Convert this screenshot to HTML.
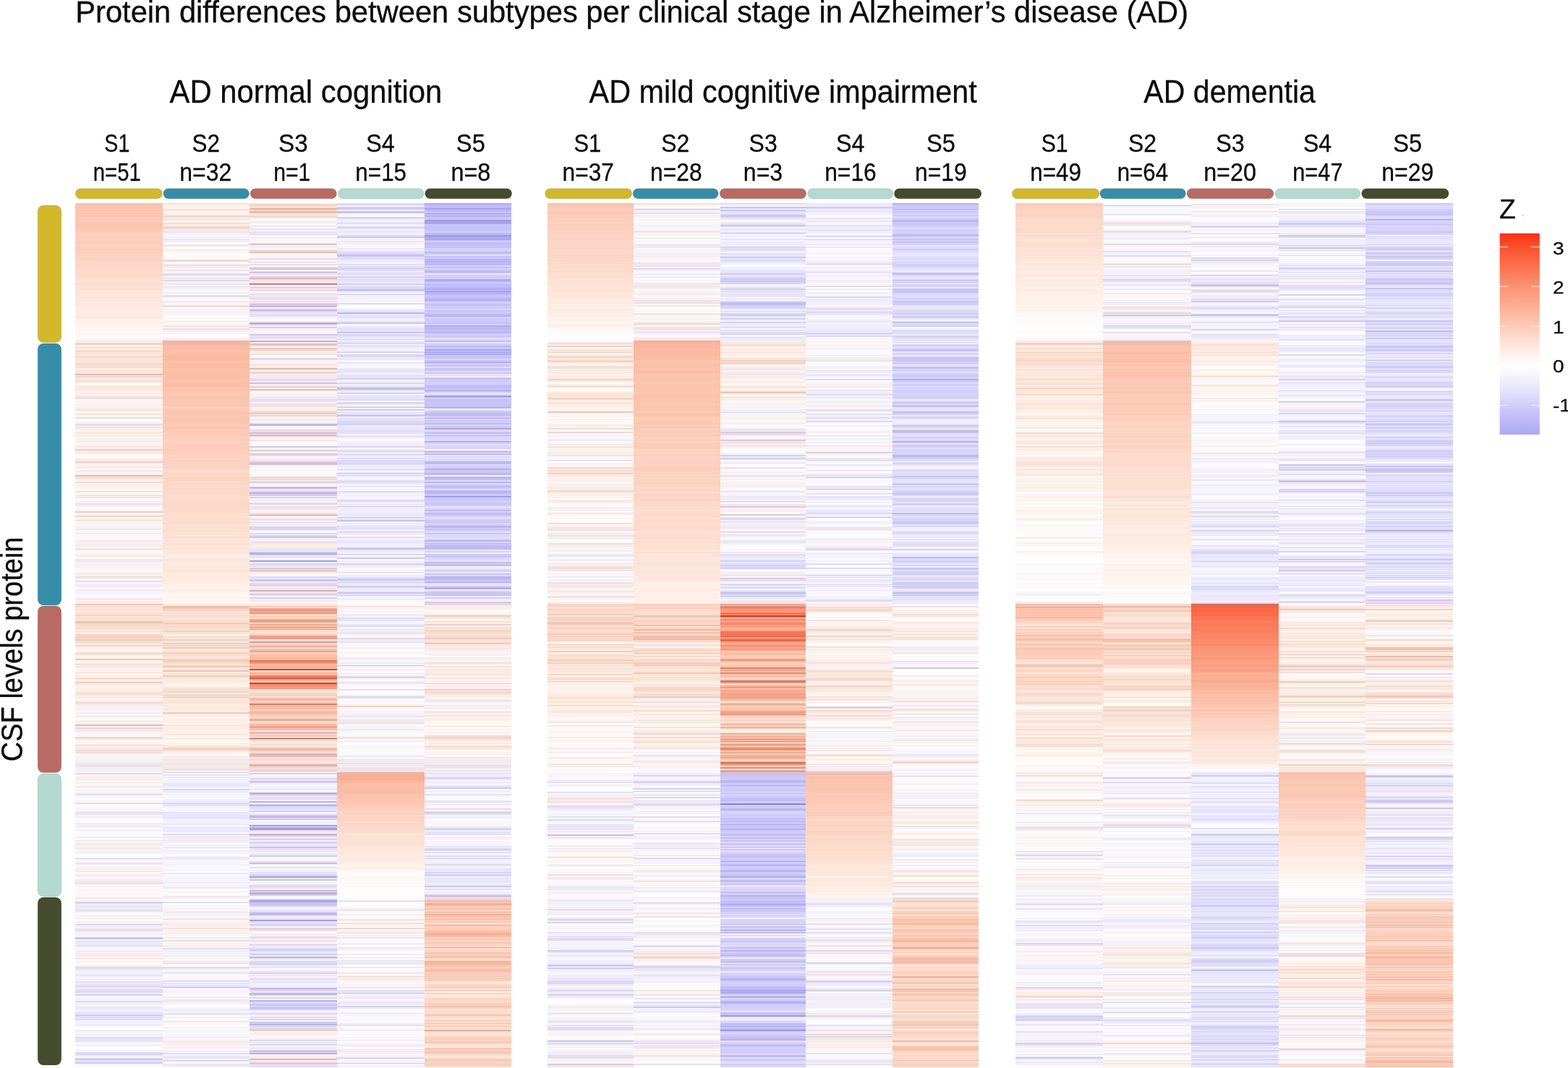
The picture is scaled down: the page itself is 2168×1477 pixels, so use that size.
<!DOCTYPE html>
<html><head><meta charset="utf-8"><title>Protein differences between subtypes per clinical stage in AD</title><style>
html,body{margin:0;padding:0;background:#fff}
body{width:2168px;height:1477px;position:relative;overflow:hidden}
.hc{position:absolute;top:281px;height:1195px}
svg{position:absolute;left:0;top:0}
text{font-family:"Liberation Sans",Arial,Helvetica,sans-serif;fill:#0b0b0b;stroke:#0b0b0b;stroke-width:0.3px}
</style></head><body>
<div class="hc" style="left:104px;width:121px;background:linear-gradient(#fbbfa8 0 1.2px,#fcc0aa 0 2.8px,#fec3ad 0 4.6px,#fcc2ad 0 5.7px,#fac1ab 0 6.9px,#fec5af 0 9.1px,#fac1ac 0 10.2px,#fbc3ad 0 11.4px,#fec6b0 0 13.7px,#fac3ad 0 15.5px,#fcc6b1 0 17px,#fac4af 0 18.7px,#ffcab6 0 20.5px,#fcc8b3 0 21.9px,#fcc8b4 0 23.1px,#fcc7b3 0 25.1px,#fdc8b3 0 28.7px,#f9c4af 0 30.8px,#fac6b1 0 32.5px,#fbc7b2 0 34.8px,#fecbb6 0 36.1px,#fbc9b5 0 37.8px,#fcccb8 0 39.5px,#fdcebb 0 41px,#fdcfbc 0 42.7px,#fed1be 0 44.1px,#fdd0be 0 46.1px,#fccfbd 0 48.3px,#fbcebb 0 49.5px,#fed1be 0 52.5px,#fbcebb 0 53.6px,#faccb9 0 55.8px,#fbcdba 0 57.3px,#fccebb 0 58.5px,#ffd1be 0 60.4px,#fccebb 0 61.7px,#fbcdba 0 63.9px,#fbccb9 0 65.2px,#f9cab7 0 66.2px,#ffd1be 0 67.5px,#fbcebb 0 69px,#fdd1bf 0 70.6px,#fcd1bf 0 72.8px,#fed3c1 0 74.7px,#fbd1bf 0 76.2px,#fad1bf 0 77.2px,#fcd4c3 0 78.4px,#fcd4c4 0 80.8px,#ffd9c9 0 82.4px,#fdd7c7 0 84.3px,#fdd8c8 0 85.4px,#fdd7c7 0 86.4px,#fad4c4 0 88.5px,#fcd7c7 0 90.3px,#fcd8c8 0 91.7px,#fcd9c9 0 93.2px,#fedccd 0 94.3px,#feddce 0 96.6px,#fbdacb 0 98.7px,#fcdbcc 0 100.3px,#fbdacc 0 101.5px,#fcdcce 0 103.5px,#fddfd1 0 104.7px,#fddfd2 0 105.8px,#fde1d3 0 107.6px,#ffe3d6 0 109.8px,#fee2d5 0 110.8px,#fbdfd2 0 114.2px,#fde2d5 0 115.3px,#ffe4d7 0 116.3px,#fce2d5 0 117.7px,#fbe0d4 0 119.7px,#fee5d9 0 121.3px,#fde4d8 0 123.5px,#fde5d9 0 124.8px,#fce4d9 0 126.2px,#ffe8dd 0 127.5px,#fde6db 0 129.8px,#fbe5da 0 132.1px,#fee7dc 0 133.5px,#fde7dc 0 135.1px,#fce6db 0 136.5px,#fee9de 0 138.5px,#fde8de 0 139.6px,#fbe7dc 0 140.7px,#fde9df 0 142.2px,#feeae0 0 143.6px,#feebe2 0 145.7px,#fdebe2 0 147.7px,#feece3 0 153.2px,#fdebe2 0 155.2px,#feece3 0 157.5px,#fbe8df 0 158.7px,#fceae1 0 160.5px,#ffeee6 0 161.7px,#fdede5 0 163.3px,#fff1ea 0 165.3px,#fdf0e9 0 167.5px,#fff3ed 0 169.5px,#fdf3ed 0 170.6px,#fdf4ef 0 172.1px,#fff9f5 0 173.3px,#fdf6f2 0 175.6px,#fdf6f3 0 176.8px,#fffaf7 0 178.1px,#fef8f4 0 179.6px,#fffaf7 0 180.7px,#fcf6f3 0 182.8px,#fff9f7 0 184.7px,#fcf6f5 0 185.9px,#fffafa 0 187.6px,#faf2f2 0 188.7px,#fff5f3 0 190.5px,#f9eae6 0 191.7px,#ffede5 0 193px,#f4ddd4 0 194.2px,#ead2c8 0 196.3px,#fff0e7 0 197.4px,#fff3ea 0 199.5px,#f1dad1 0 200.5px,#ffe8de 0 202.5px,#ffede2 0 203.7px,#e9cec1 0 205.4px,#fee3d6 0 206.6px,#ffe4d8 0 208.8px,#fee4d8 0 209.9px,#ffede2 0 211.5px,#f5dbd0 0 213.3px,#f8dfd3 0 214.9px,#ffe9de 0 216.1px,#fee5d9 0 217.5px,#fee4d8 0 219.7px,#ffe3d7 0 220.8px,#faddcf 0 221.9px,#f7dacc 0 224px,#fbdfd2 0 226.1px,#f7dcd0 0 228px,#ffefe4 0 229.6px,#ffe9df 0 231.8px,#f5dcd4 0 233.3px,#ffefe6 0 234.3px,#ffe1d9 0 235.9px,#d9bab3 0 237.6px,#ffe8e1 0 239.2px,#eed3cd 0 241.4px,#ffe8e2 0 242.5px,#fee8e1 0 244.5px,#f8e4dd 0 246.2px,#f1dfd8 0 248.1px,#fff4ed 0 249.6px,#fffaf4 0 251px,#fff9f3 0 252.4px,#f5e5dd 0 253.8px,#fdebe2 0 255.4px,#f9e5dc 0 257.1px,#fbe8df 0 259.2px,#fdebe3 0 260.4px,#fcece6 0 261.9px,#fef0ed 0 263.6px,#fdf0f0 0 265.7px,#f6e9ea 0 267.6px,#ede0e1 0 271.2px,#fff5f4 0 272.8px,#fef3f0 0 274.8px,#fff8f5 0 276.9px,#fdf2ee 0 278.6px,#f7ece7 0 279.7px,#fff4f0 0 281.2px,#fff4ef 0 282.6px,#f3e5e0 0 283.8px,#fff6f1 0 285.2px,#f0e2dd 0 287.2px,#fff8f2 0 288.7px,#fffaf4 0 290.2px,#faece5 0 291.7px,#f0e0d9 0 292.9px,#fff8f1 0 294.6px,#fff1ea 0 296.2px,#ebded9 0 298.3px,#fff9f8 0 300.1px,#fff9fb 0 302.4px,#faf3fa 0 304.5px,#f0eaf5 0 306.1px,#dad3df 0 307.1px,#f3eaf3 0 308.4px,#f9edf1 0 309.5px,#f4e6e6 0 311.4px,#faece8 0 312.6px,#fff2ed 0 314.4px,#fff6f0 0 315.8px,#faebe5 0 317.4px,#f5e5df 0 319.4px,#fff4ed 0 320.8px,#f1e2db 0 322px,#fff8f2 0 323.3px,#fef1ed 0 325.5px,#fbefed 0 327.2px,#fbf0ef 0 328.6px,#f1e8e8 0 329.8px,#f8f0f0 0 330.8px,#fffcfb 0 332.3px,#fffaf7 0 334px,#fbede8 0 335.6px,#fbe8e0 0 337.6px,#ffece3 0 339.9px,#ecd5cc 0 341.6px,#f5dfd9 0 343.1px,#ffedea 0 345.1px,#f2e6e5 0 346.2px,#fdf5f5 0 348.1px,#fffcfc 0 350.3px,#fffbfa 0 352.2px,#fff7f4 0 353.4px,#f9e9e3 0 355.1px,#fee9e1 0 357.1px,#e8d2c9 0 358.6px,#f9e5dc 0 360.7px,#fff9f3 0 361.9px,#faece9 0 363.6px,#faefee 0 365.3px,#f3ebec 0 367.3px,#fff9fe 0 368.8px,#f3edf3 0 370.1px,#f3ecf2 0 372px,#fef3f7 0 373.2px,#fff3f2 0 374.6px,#f9e0da 0 376.2px,#dfc1b7 0 378.2px,#feded2 0 379.8px,#f8dbcf 0 381.5px,#ffebe1 0 383.3px,#fff5ec 0 385.2px,#eddbd3 0 387.4px,#fff4ed 0 389px,#fdefe8 0 390.7px,#fff7f2 0 391.7px,#faefea 0 393px,#fff4f0 0 394.3px,#fbf1ed 0 395.5px,#fff5f2 0 397.2px,#fff7f4 0 398.4px,#eee3e0 0 400.2px,#fff9f5 0 402.2px,#fff7f3 0 403.3px,#f2e4e0 0 404.6px,#fceeeb 0 406.2px,#f4e8e7 0 407.3px,#efe4e6 0 408.4px,#fef6fa 0 410.2px,#fcf4f8 0 411.7px,#f7eff2 0 413.8px,#f9f0f2 0 415.5px,#ece2e5 0 417.5px,#f4ebee 0 418.9px,#fcf5f9 0 420.4px,#fcf4f7 0 422.5px,#fff8f9 0 424.3px,#fdefee 0 426.4px,#e2d1cd 0 427.7px,#fce9e4 0 428.9px,#fff6f0 0 430.7px,#fff5ee 0 431.9px,#ebd5cd 0 433px,#eed7cf 0 434.5px,#fff3eb 0 436.3px,#ffeee7 0 437.8px,#f4e5e0 0 439.7px,#fef1ee 0 441.3px,#fff7f5 0 442.7px,#f0e6e4 0 444.3px,#fffaf9 0 446.1px,#fcf4f5 0 447.3px,#f6eff1 0 449px,#faf3f6 0 450.2px,#f1eaee 0 452.5px,#fdf6fa 0 454.2px,#f7f1f4 0 455.4px,#faf4f7 0 456.4px,#f3edef 0 457.7px,#fffbfc 0 459.1px,#f9f4f5 0 460.8px,#fffafa 0 462.7px,#fcf7f8 0 464.6px,#fff8f9 0 466.1px,#f4ecec 0 467.9px,#f9efee 0 469.6px,#fef3f1 0 471px,#f5eae9 0 472.3px,#f8eeee 0 473.8px,#f6edee 0 475.6px,#fff9fc 0 476.8px,#ede5e8 0 478.6px,#f4ebed 0 479.6px,#fff7f7 0 480.9px,#fff5f3 0 482.7px,#fff6f2 0 484.7px,#faefeb 0 486.7px,#f7ece8 0 488.6px,#fdf3f3 0 489.9px,#fef6f8 0 492.1px,#ede6ec 0 493.9px,#efe9f0 0 496.1px,#f9f2f8 0 498.3px,#f8f1f5 0 499.6px,#f7f0f3 0 501.8px,#faf4f7 0 502.9px,#f6f1f4 0 504.7px,#faf7fa 0 506px,#faf7f9 0 507.1px,#fffdfe 0 508.8px,#fef7f6 0 510.1px,#fbf2ef 0 512.1px,#f7ebe8 0 513.7px,#fef1ee 0 515px,#fff5f1 0 516px,#ebdcda 0 517.9px,#faecee 0 519.7px,#fff7fd 0 521.7px,#dbd4de 0 523.2px,#efe9f4 0 525.4px,#fff9ff 0 526.4px,#f5eef6 0 528.6px,#ece5ea 0 530.5px,#faf4fa 0 531.7px,#fffaff 0 533.9px,#edeaf3 0 535px,#f1eff9 0 537px,#f9f7ff 0 538.3px,#f2f0f7 0 540.1px,#faf7fc 0 542.2px,#fefafd 0 543.3px,#fdf7fa 0 544.8px,#f9f1f3 0 546.9px,#ece2e4 0 548.5px,#fbefef 0 549.7px,#fff2ef 0 550.8px,#f1e1dd 0 551.9px,#fff5ee 0 553.1px,#fff5ed 0 554.5px,#e2c8be 0 555.8px,#ffe6db 0 557.3px,#f7d9cc 0 558.4px,#fce0d3 0 559.9px,#ffe5d9 0 561.6px,#fce1d5 0 563.8px,#ffecdf 0 566px,#f7dcd0 0 567.8px,#ffe5d8 0 569.3px,#f2d4c7 0 571.2px,#ffe5d8 0 573.4px,#fdddcf 0 575.2px,#fedccd 0 576.4px,#ffe7d8 0 578.1px,#e8c0b0 0 579.7px,#f4ccbc 0 581.8px,#ffd9c9 0 583.6px,#ffdecf 0 585.8px,#fdddcf 0 586.9px,#f8dccf 0 588.7px,#fae1d6 0 589.9px,#fff6eb 0 591.5px,#fce3d8 0 593.5px,#ffece0 0 595.7px,#f3d1c3 0 597px,#fdd7c7 0 599px,#f7cebd 0 600.2px,#f4cab9 0 601.5px,#ffdbca 0 602.8px,#efc8b8 0 605px,#ffe0d1 0 606.1px,#f6d7ca 0 608px,#ffefe3 0 609.7px,#ffe8dd 0 611.5px,#f0d9ce 0 612.6px,#fbe7dd 0 614.1px,#fff1e9 0 615.8px,#fef1ea 0 617.1px,#fff9f3 0 618.9px,#fff6f0 0 620px,#fff9f2 0 621.1px,#f1ded6 0 622.9px,#eed9d1 0 624.1px,#ffeae1 0 626.2px,#fff4ec 0 627.9px,#ffeee6 0 629.9px,#e2ccc4 0 632px,#fff4ec 0 633.8px,#ffefe6 0 636px,#feeae1 0 637.3px,#f2dfd6 0 639px,#fff6ee 0 640.1px,#f6e5de 0 642px,#fff2eb 0 644px,#fff3ed 0 646.1px,#fffaf4 0 647.7px,#f4e7e1 0 649.8px,#fef0ea 0 651.3px,#fff7f0 0 652.7px,#fdebe3 0 654.6px,#ffebe2 0 656.7px,#e7cfc4 0 657.8px,#ffe8dd 0 659.4px,#ffefe4 0 660.9px,#ffe9dd 0 661.9px,#e1c4b8 0 663px,#f9dfd4 0 665px,#ffece2 0 667.2px,#ffefe7 0 668.8px,#fff9f2 0 670.1px,#fceee7 0 672.3px,#fdeee7 0 673.8px,#fff5ed 0 674.9px,#fae7de 0 676.9px,#f4dfd6 0 678.7px,#fae6de 0 680.6px,#fbeae4 0 682px,#fff2ee 0 683.3px,#f7eae8 0 684.6px,#fff3f0 0 686.3px,#fff3ef 0 687.7px,#f9e8e2 0 689.6px,#ebd9d4 0 691.7px,#faeae7 0 693.7px,#f3e6e6 0 694.7px,#fff9fa 0 696.5px,#fdf5f7 0 697.5px,#f6eff1 0 698.9px,#fbf5f7 0 700.2px,#f7f2f4 0 701.9px,#fef9fc 0 702.9px,#fcf8fa 0 704.1px,#f5eff1 0 706.3px,#fef6f6 0 707.3px,#fffaf9 0 708.7px,#ebe1de 0 710.3px,#fef3f1 0 711.4px,#fef5f3 0 712.7px,#fffbf9 0 714.5px,#fff6f5 0 715.8px,#f2e5e4 0 717.5px,#fff4f3 0 719.7px,#f6e2e0 0 720.8px,#dac3bf 0 722.6px,#ffe8e4 0 723.6px,#fff7f4 0 725px,#e9d8d9 0 726.9px,#f5e8ec 0 729.1px,#f2e8ee 0 730.6px,#f9f2f7 0 732.4px,#fcf5f8 0 733.9px,#fff7f7 0 735.1px,#fbeeec 0 736.1px,#fff8f3 0 737.8px,#e9d8d4 0 739.9px,#f1e1de 0 741.2px,#f8ebeb 0 743.1px,#fffafc 0 744.8px,#f6edee 0 746.2px,#fff7f6 0 748px,#fff2ef 0 749px,#e3d3cd 0 750.3px,#fff1eb 0 751.8px,#fff4ee 0 753.5px,#f7e6df 0 754.6px,#fff7ef 0 755.6px,#eedad1 0 757.7px,#feeae1 0 759.3px,#efdcd5 0 761.4px,#fff7f2 0 763.7px,#fff7f4 0 764.8px,#f9f0ef 0 766.3px,#faf4f4 0 768.5px,#faf5f6 0 769.5px,#f5f0f3 0 771.7px,#f3eff3 0 773.9px,#ece7ec 0 775.8px,#e9e4e9 0 777.2px,#e8e3e7 0 779.1px,#f0ebee 0 780.1px,#f4eff2 0 781.5px,#f1ecef 0 782.5px,#f2eff1 0 784px,#f2eff2 0 785.8px,#f4f0f5 0 786.8px,#fdf8fd 0 788.5px,#e4dee3 0 790.3px,#faf2f4 0 791.6px,#fff9f8 0 793.2px,#f5e9e6 0 794.4px,#fff3ee 0 795.5px,#fbeee8 0 796.9px,#f7ebe7 0 798px,#fff9f7 0 799.2px,#fdf6f7 0 800.8px,#f2ecef 0 801.9px,#f9f3f6 0 804.2px,#fff8fa 0 806.4px,#f0e8e9 0 808.5px,#fff7f6 0 809.9px,#fff9f9 0 811.7px,#f1e9eb 0 813px,#fff9fe 0 815.4px,#f1ebf3 0 817.4px,#e4dfe9 0 819px,#f6f2fb 0 820.6px,#f3eff7 0 822.2px,#fffcff 0 824.4px,#fefbff 0 826.3px,#f1eef5 0 827.5px,#faf7ff 0 828.6px,#e2dee6 0 830.7px,#fdf9ff 0 832.2px,#fffcfe 0 833.8px,#fcf6f7 0 835.7px,#fef6f6 0 837.1px,#faf2f3 0 839.1px,#faf4f8 0 841.1px,#f3edf6 0 842.3px,#e6e1ed 0 844.1px,#eae5f1 0 846.4px,#f6f1fc 0 848.3px,#f3eff7 0 849.7px,#f8f4fa 0 851.1px,#fcf9fd 0 853.3px,#fefaff 0 856.7px,#eeeaf0 0 858.5px,#f3eef7 0 860px,#f4f0f9 0 862.1px,#e8e5f0 0 863.2px,#f6f3fe 0 864.3px,#fcf9ff 0 866.7px,#e5e2eb 0 868px,#fdfbff 0 869.4px,#fefbff 0 871.6px,#fdfaff 0 873.8px,#fbf9fe 0 875.6px,#f3f1f7 0 876.9px,#efecf1 0 878.3px,#fffcff 0 879.6px,#fffafb 0 880.6px,#eee4e3 0 881.7px,#fff5f4 0 883.3px,#fdf2f0 0 885.1px,#f7eded 0 886.4px,#f1e8e9 0 887.4px,#f6edef 0 888.7px,#fffafc 0 889.9px,#f4eced 0 891.1px,#fcf4f5 0 892.4px,#f1e9ea 0 893.8px,#fffafc 0 895px,#fffbfe 0 896.2px,#f4f0f4 0 897.3px,#f5f1f6 0 899px,#f6f3f7 0 900.1px,#fffcff 0 902px,#fefaff 0 904.3px,#fbf7ff 0 905.6px,#cbc7d2 0 906.9px,#fbf6ff 0 909px,#f9f3fd 0 910.7px,#fdf7ff 0 911.8px,#e9e3eb 0 914.1px,#f3edf3 0 915.2px,#fcf6fa 0 917px,#fbf4f6 0 918.3px,#faf3f4 0 920.4px,#f5eeef 0 921.6px,#fff8f8 0 923.4px,#f4eae9 0 925.1px,#fff7f5 0 926.7px,#fbf0ed 0 930px,#f5ebe8 0 931.4px,#fff7f7 0 933.1px,#fef5f7 0 934.3px,#f9f0f3 0 935.5px,#f5ecef 0 937.3px,#f2e8ee 0 939px,#ece4ec 0 940.8px,#e8e1ea 0 942.5px,#faf4fb 0 944.4px,#f8f2f6 0 945.8px,#fffcfc 0 948.2px,#fdf7f5 0 949.6px,#faf4f1 0 950.9px,#fff9f7 0 952.3px,#fffaf8 0 953.4px,#fdf7f6 0 955.8px,#fffbfa 0 958px,#fff9f9 0 960.3px,#f1e9eb 0 962px,#fcf5fb 0 963.9px,#f8f1fd 0 965.6px,#d8d2e3 0 967.8px,#e0dbef 0 969.5px,#f0ebff 0 970.8px,#e9e4f5 0 972.6px,#f7f0ff 0 974.1px,#e8e1ef 0 975.5px,#f2ebf9 0 977.3px,#e4deeb 0 979.1px,#ebe6f1 0 980.1px,#f9f4fc 0 982.3px,#fffbff 0 983.3px,#fff8f8 0 985.2px,#f5ebe7 0 986.4px,#fdf2ef 0 988.1px,#f7eeeb 0 989.8px,#fffafa 0 991.3px,#fffafe 0 993.1px,#f5f0f9 0 995.2px,#f7f3ff 0 996.8px,#d0ccdc 0 998px,#efeafa 0 999.6px,#f5effe 0 1001.7px,#f9f2ff 0 1003.1px,#ece5f1 0 1004.1px,#e2dcea 0 1005.6px,#eee9f8 0 1006.9px,#e9e5f3 0 1008.5px,#f8f5ff 0 1009.6px,#f1edfb 0 1011.8px,#faf6ff 0 1014.8px,#ccc8e1 0 1016.9px,#c6c3de 0 1018px,#f7f5ff 0 1018.9px,#f1efff 0 1020.9px,#dad8ef 0 1021.9px,#f2f0ff 0 1023.7px,#dcdaee 0 1025.2px,#faf7ff 0 1026.5px,#e0deee 0 1027.9px,#efeefb 0 1029px,#fdfcff 0 1030.2px,#f5f4fd 0 1031.6px,#fefdff 0 1033.1px,#f4f1fb 0 1034.3px,#e7e3ec 0 1035.3px,#fcf6fd 0 1036.4px,#f6edf0 0 1038.2px,#f9edec 0 1040.3px,#f8eae5 0 1042.5px,#fff3ed 0 1043.7px,#eedfd9 0 1045.2px,#fff6f0 0 1047.4px,#fff6f2 0 1048.5px,#fef6f3 0 1050.6px,#fffbfa 0 1051.6px,#fffafc 0 1053.1px,#fdf8fd 0 1054.5px,#f5eff9 0 1056.4px,#e0dbe8 0 1058.5px,#e6e1ef 0 1060.1px,#f1ecfa 0 1062.2px,#f5f1fe 0 1064.2px,#f3effd 0 1066.2px,#ece8f6 0 1067.6px,#e5e2f0 0 1068.6px,#fbf8ff 0 1070.5px,#f4f1fb 0 1071.6px,#f7f3fd 0 1073.1px,#efecf6 0 1074.9px,#fefaff 0 1075.9px,#e4dfed 0 1077.6px,#efeaf9 0 1079.7px,#f0eafa 0 1081.5px,#e1dcef 0 1083.6px,#e1dcf2 0 1085.5px,#f3efff 0 1086.9px,#dcd9f4 0 1088.4px,#dedbf7 0 1090.1px,#dbd8f3 0 1091.6px,#eeebff 0 1093.7px,#d6d3e7 0 1095.8px,#f6f3ff 0 1097px,#faf7ff 0 1098px,#f6f3ff 0 1099.8px,#f5f2ff 0 1101.6px,#efecfd 0 1103.6px,#cecbdd 0 1105.1px,#f6f2ff 0 1107.1px,#eeebfb 0 1108.5px,#f8f5ff 0 1110.4px,#eceaf9 0 1112.3px,#e9e6f5 0 1114.2px,#f0edfc 0 1115.9px,#faf7ff 0 1117.5px,#eeebfc 0 1119.5px,#e4e1f6 0 1121px,#f2f0ff 0 1122.5px,#cecbe6 0 1123.6px,#e3e0fd 0 1124.7px,#dcd9f5 0 1126.6px,#ebe9ff 0 1128.4px,#dbd9ee 0 1129.6px,#faf9ff 0 1130.9px,#f2f0fe 0 1132.6px,#f4f3ff 0 1134px,#f6f4ff 0 1135.5px,#f0eef9 0 1137px,#eeedf6 0 1138.5px,#fcfbff 0 1139.7px,#fbf9ff 0 1141.1px,#fdfcff 0 1143px,#f0eff7 0 1144.9px,#f5f4fd 0 1147px,#faf9ff 0 1148.8px,#f1effd 0 1150.9px,#f6f4ff 0 1153px,#dedcef 0 1155.1px,#e7e5f9 0 1156.7px,#e5e3f7 0 1158.6px,#e4e2f4 0 1160.4px,#faf9ff 0 1161.9px,#f9f8ff 0 1163.2px,#f3f1fc 0 1164.7px,#ebeaf2 0 1166.5px,#fefcff 0 1168.4px,#fdfcff 0 1169.7px,#fbf9ff 0 1170.9px,#f3f0fb 0 1172.4px,#f7f4ff 0 1173.8px,#dfdbee 0 1175.2px,#dad6eb 0 1177.3px,#e2def3 0 1179.3px,#f8f4ff 0 1180.3px,#f4f0ff 0 1181.7px,#e9e5ff 0 1183px,#c8c4e2 0 1185.1px,#e8e5ff 0 1187.3px,#d7d5f4 0 1188.9px,#c8c5e0 0 1190px,#f8f6ff 0 1191.1px,#f6f4ff 0 1192.6px,#fefcff 0 1194.3px)"></div>
<div class="hc" style="left:225px;width:120px;background:linear-gradient(#f1d2c6 0 1.2px,#fff0e7 0 2.8px,#ffeee7 0 4.6px,#fff3ed 0 5.7px,#fff9f4 0 6.9px,#faebe5 0 9.1px,#eadad4 0 10.2px,#fff3ef 0 11.4px,#fff1ed 0 13.7px,#ffefec 0 15.5px,#feede8 0 17px,#eedad5 0 18.7px,#f3ddd7 0 20.5px,#ffeee7 0 21.9px,#edd8d2 0 23.1px,#fff5ee 0 25.1px,#fff2eb 0 27px,#f2ded5 0 28.7px,#ffeee5 0 30.8px,#ffede4 0 32.5px,#eed6ce 0 34.8px,#f1dbd6 0 36.1px,#ffedec 0 37.8px,#f5e7eb 0 39.5px,#eee5ec 0 41px,#f6eff7 0 42.7px,#f2eef6 0 44.1px,#fcf8ff 0 46.1px,#f4f0fa 0 48.3px,#fbf7ff 0 49.5px,#eae4ed 0 51.1px,#f1ebf2 0 52.5px,#f3ecf1 0 53.6px,#fffafd 0 55.8px,#fff9fb 0 57.3px,#f4ecef 0 58.5px,#ede5e7 0 60.4px,#fffafb 0 61.7px,#fff8f7 0 63.9px,#f6ece9 0 65.2px,#f5ebe7 0 66.2px,#fffaf6 0 67.5px,#fef8f5 0 69px,#fffcfb 0 70.6px,#fefaf9 0 72.8px,#fdf9f8 0 74.7px,#fcf7f6 0 76.2px,#fffcfa 0 77.2px,#fff5f3 0 78.4px,#e8dcda 0 80.8px,#fff4f4 0 82.4px,#fff8fa 0 84.3px,#f6eef4 0 85.4px,#e5dde6 0 86.4px,#f2eaf3 0 88.5px,#f7edf4 0 90.3px,#fff5f7 0 91.7px,#e8dada 0 93.2px,#fff7f7 0 94.3px,#f7ecef 0 95.5px,#fff6fe 0 96.6px,#e2dce8 0 98.7px,#dfdae8 0 100.3px,#f5effe 0 101.5px,#f8f3ff 0 103.5px,#e8e3f0 0 104.7px,#faf5ff 0 105.8px,#dfd9e4 0 107.6px,#f9f2fb 0 109.8px,#f6eff8 0 110.8px,#efe8f0 0 112.9px,#f5eff7 0 114.2px,#fbf5fc 0 115.3px,#ebe5eb 0 116.3px,#f4eef3 0 117.7px,#f8f2f7 0 119.7px,#faf6fb 0 121.3px,#fbf7fe 0 123.5px,#f0edf6 0 124.8px,#f5f4fe 0 126.2px,#fcfbff 0 127.5px,#e1dfea 0 129.8px,#faf7ff 0 132.1px,#fbf8ff 0 133.5px,#fcf7fc 0 135.1px,#f2ebee 0 136.5px,#f4ebeb 0 138.5px,#fffaf8 0 139.6px,#fff6f2 0 140.7px,#eededa 0 142.2px,#eededb 0 143.6px,#fff7f7 0 145.7px,#f7eff1 0 147.7px,#fef9fe 0 149.4px,#f4f0f6 0 151.3px,#f4f0f5 0 153.2px,#f8f4f6 0 155.2px,#fffbfc 0 157.5px,#fff9f8 0 158.7px,#fbf4f2 0 160.5px,#fffbf8 0 161.7px,#fbf3f0 0 163.3px,#faf1ee 0 165.3px,#fff6f4 0 167.5px,#fff7f5 0 169.5px,#efe4e3 0 170.6px,#fef3f3 0 172.1px,#f7ecee 0 173.3px,#ede3e6 0 175.6px,#fff7fb 0 176.8px,#eee8ed 0 178.1px,#fbf7fc 0 179.6px,#f7f4f8 0 180.7px,#fffdff 0 182.8px,#fcf9fc 0 184.7px,#fffcff 0 185.9px,#fcf2f6 0 187.6px,#fdebec 0 188.7px,#ffe4e1 0 190.5px,#e6b9af 0 191.7px,#f0b7a7 0 193px,#f3b39e 0 194.2px,#f7b49d 0 196.3px,#fbb8a1 0 197.4px,#ffbea6 0 199.5px,#fdbca5 0 200.5px,#f9baa3 0 202.5px,#fcbda6 0 203.7px,#fcbda7 0 205.4px,#fdbfa8 0 206.6px,#fcbea7 0 208.8px,#fdbda6 0 209.9px,#fabaa2 0 211.5px,#f9b7a0 0 213.3px,#fcbaa2 0 214.9px,#f9b8a0 0 216.1px,#fab9a2 0 217.5px,#fcbda6 0 219.7px,#ffc2ab 0 220.8px,#fcbea7 0 221.9px,#fbbda6 0 226.1px,#fabca5 0 228px,#fcbfa8 0 229.6px,#fdc0a9 0 231.8px,#fcc0a9 0 233.3px,#fcbfa8 0 235.9px,#fbbea7 0 241.4px,#fabda7 0 242.5px,#fabea7 0 244.5px,#ffc3ac 0 246.2px,#fec2ac 0 248.1px,#fabea8 0 249.6px,#fbbea8 0 252.4px,#f9bea7 0 253.8px,#fcc2ab 0 255.4px,#fdc3ad 0 257.1px,#fcc3ae 0 259.2px,#fcc4ae 0 260.4px,#fdc6b0 0 261.9px,#fdc6b1 0 263.6px,#fac4ae 0 265.7px,#fec7b2 0 267.6px,#f9c1ac 0 269.3px,#fcc5af 0 271.2px,#fdc6b1 0 272.8px,#fac4af 0 274.8px,#fec8b3 0 276.9px,#fcc7b3 0 278.6px,#f8c4af 0 279.7px,#fbc7b3 0 281.2px,#ffceba 0 282.6px,#fdcbb7 0 283.8px,#fdcab6 0 285.2px,#fbc7b3 0 287.2px,#fac6b1 0 288.7px,#fdc9b4 0 290.2px,#f9c4af 0 291.7px,#fdc8b3 0 292.9px,#fec9b4 0 294.6px,#fac5b0 0 296.2px,#fdc7b2 0 298.3px,#fac4af 0 300.1px,#fbc5b1 0 302.4px,#fbc7b2 0 304.5px,#fbc7b3 0 306.1px,#ffcdb8 0 307.1px,#fdcab6 0 308.4px,#fac7b3 0 309.5px,#fac6b2 0 311.4px,#fbc7b3 0 312.6px,#fecbb7 0 314.4px,#fbc9b4 0 315.8px,#fccab6 0 317.4px,#fdccb8 0 319.4px,#fbcbb8 0 320.8px,#fbccb8 0 322px,#fccdba 0 323.3px,#fed0bd 0 325.5px,#fbcebc 0 327.2px,#fbcfbc 0 328.6px,#fdd1bf 0 329.8px,#ffd4c2 0 330.8px,#fcd0be 0 332.3px,#fbcebc 0 334px,#fccebb 0 337.6px,#fbcdba 0 341.6px,#fccebb 0 343.1px,#fccebc 0 345.1px,#fbcebb 0 346.2px,#fbcfbd 0 348.1px,#fed3c1 0 350.3px,#fdd2c0 0 352.2px,#fcd2c0 0 353.4px,#fdd3c1 0 355.1px,#f9cfbd 0 357.1px,#fed3c2 0 358.6px,#fed4c2 0 360.7px,#fad0bf 0 361.9px,#fcd3c2 0 363.6px,#fed6c5 0 365.3px,#f8d2c1 0 367.3px,#fed8c8 0 368.8px,#fdd9c9 0 370.1px,#ffddcd 0 372px,#fdd9ca 0 373.2px,#fbd6c6 0 374.6px,#fad5c4 0 376.2px,#fdd6c6 0 378.2px,#fed7c7 0 379.8px,#fbd5c4 0 381.5px,#fad4c4 0 383.3px,#fcd6c6 0 385.2px,#ffdac9 0 387.4px,#fbd6c6 0 389px,#fdd9c9 0 390.7px,#fcd8c8 0 391.7px,#fdd9c9 0 393px,#fbd7c7 0 394.3px,#fdd8c8 0 395.5px,#fbd6c6 0 397.2px,#fcd8c8 0 398.4px,#fdd9c9 0 400.2px,#fcd8c9 0 402.2px,#fcd9c9 0 403.3px,#fddbcc 0 404.6px,#fcdacb 0 406.2px,#feddcf 0 407.3px,#ffded0 0 408.4px,#feddcf 0 410.2px,#fcdbcc 0 411.7px,#fcd9ca 0 413.8px,#fddacb 0 415.5px,#fbd8c8 0 417.5px,#fedaca 0 418.9px,#f9d5c6 0 420.4px,#fcd8c8 0 422.5px,#fedbcb 0 424.3px,#fddbcc 0 426.4px,#fbd9cb 0 427.7px,#fdddce 0 428.9px,#ffdfd1 0 430.7px,#fdded0 0 431.9px,#fcddcf 0 433px,#fdded0 0 434.5px,#fcddcf 0 436.3px,#fdddcf 0 437.8px,#ffdfd0 0 439.7px,#fbdbcd 0 441.3px,#fadacc 0 442.7px,#fcdcce 0 444.3px,#ffe0d2 0 446.1px,#ffe1d4 0 447.3px,#fbddd0 0 449px,#fee1d3 0 450.2px,#fde0d2 0 452.5px,#faddcf 0 454.2px,#fde0d3 0 455.4px,#fde1d4 0 456.4px,#fce1d4 0 457.7px,#fde2d5 0 459.1px,#ffe5d8 0 460.8px,#f9ded2 0 462.7px,#fee3d7 0 464.6px,#fde3d7 0 466.1px,#fee5d9 0 469.6px,#fce3d6 0 471px,#fbe1d5 0 472.3px,#fde3d7 0 473.8px,#ffe6da 0 475.6px,#fbe3d7 0 476.8px,#fde5d9 0 478.6px,#fce4d9 0 479.6px,#ffe9dd 0 480.9px,#fce6db 0 482.7px,#fbe6db 0 484.7px,#feeae0 0 486.7px,#ffece2 0 488.6px,#feeae0 0 489.9px,#fde9df 0 492.1px,#fae5db 0 493.9px,#fee9df 0 498.3px,#fde9df 0 499.6px,#fde8de 0 502.9px,#fee8de 0 504.7px,#fde7dc 0 506px,#fce6db 0 507.1px,#fde7dc 0 508.8px,#fae5da 0 510.1px,#fee9de 0 512.1px,#ffebe0 0 513.7px,#feebe1 0 515px,#fdeae0 0 516px,#feebe1 0 517.9px,#fae7dd 0 519.7px,#fdebe1 0 521.7px,#fceae1 0 523.2px,#ffeee6 0 525.4px,#fdede5 0 526.4px,#feefe7 0 528.6px,#fdefe8 0 530.5px,#fff1e9 0 531.7px,#fff1ea 0 533.9px,#fbede7 0 535px,#fcefe9 0 537px,#fdf1ec 0 538.3px,#fff5f0 0 540.1px,#fff5f1 0 542.2px,#fff7f3 0 544.8px,#fef5f1 0 546.9px,#fff7f3 0 548.5px,#fdf5f1 0 549.7px,#fcf4ef 0 550.8px,#fef5f1 0 551.9px,#fff9f3 0 553.1px,#fff9f2 0 554.5px,#ffeae0 0 555.8px,#ffe3d6 0 557.3px,#edc5b5 0 558.4px,#ecc0af 0 559.9px,#f8cdbc 0 561.6px,#fbd4c4 0 563.8px,#ffe7d9 0 566px,#fbdccf 0 567.8px,#ffe8db 0 569.3px,#f9ddd1 0 571.2px,#f9ded2 0 573.4px,#ffe6da 0 575.2px,#ffe7da 0 576.4px,#f9dacc 0 578.1px,#ffe1d2 0 579.7px,#f0ccbd 0 581.8px,#fed9c9 0 583.6px,#ffdbcb 0 585.8px,#f2cfc0 0 586.9px,#ffe8d9 0 588.7px,#f6d5c7 0 589.9px,#ffe6d9 0 591.5px,#eed0c3 0 593.5px,#fde2d6 0 595.7px,#ffeade 0 597px,#fff5ea 0 599px,#f5dbd0 0 600.2px,#f6dace 0 601.5px,#ffebdf 0 602.8px,#edd0c3 0 605px,#ffe7da 0 606.1px,#ffeadd 0 608px,#edcdc1 0 609.7px,#ffe3d7 0 611.5px,#f2d3c7 0 612.6px,#ffede1 0 614.1px,#e6c9be 0 615.8px,#ffe8dd 0 618.9px,#fcdfd3 0 620px,#ffe4d7 0 621.1px,#f0d0c2 0 622.9px,#fbdbcd 0 624.1px,#fbdbcc 0 626.2px,#ffe5d6 0 627.9px,#ffe6d8 0 629.9px,#f4d1c1 0 632px,#f3cebe 0 633.8px,#fcd7c7 0 636px,#ffdacb 0 637.3px,#ffe4d4 0 639px,#f8d4c5 0 640.1px,#eecbbd 0 642px,#ffe5d6 0 644px,#ffe6d8 0 646.1px,#e6c5b8 0 647.7px,#ffeee0 0 649.8px,#fbdcce 0 651.3px,#ffe1d4 0 652.7px,#edcfc2 0 654.6px,#fce1d5 0 656.7px,#ffebe0 0 657.8px,#ffefe6 0 659.4px,#fbe9e0 0 660.9px,#fdece3 0 661.9px,#fdede5 0 663px,#feeee6 0 665px,#fff1e9 0 667.2px,#fff5ec 0 668.8px,#fbe7de 0 670.1px,#fae3d9 0 672.3px,#f6dcd1 0 673.8px,#ffede1 0 674.9px,#edd1c5 0 676.9px,#fff4e8 0 678.7px,#f4d6c9 0 680.6px,#fcddd0 0 682px,#f5d6c9 0 683.3px,#f4d8cb 0 684.6px,#fff5e9 0 686.3px,#fde6db 0 687.7px,#fae3d9 0 689.6px,#f8e3d8 0 691.7px,#fde9df 0 693.7px,#fff6ed 0 694.7px,#f4e2d9 0 696.5px,#ffefe6 0 697.5px,#ffefe7 0 698.9px,#f6e2d9 0 700.2px,#ffebe1 0 701.9px,#fff0e6 0 702.9px,#ffe8dd 0 704.1px,#e5cbc0 0 706.3px,#ffe7dd 0 707.3px,#feeae1 0 708.7px,#fff2eb 0 710.3px,#fceee9 0 711.4px,#fff3ee 0 712.7px,#fbefea 0 714.5px,#fbeee9 0 715.8px,#fdf0e9 0 717.5px,#feefe8 0 719.7px,#fff5ed 0 720.8px,#f7e7e0 0 722.6px,#feeee7 0 723.6px,#fdede5 0 726.9px,#fdeee6 0 729.1px,#fff6ee 0 730.6px,#f9e9e2 0 732.4px,#fff3eb 0 733.9px,#f3e2da 0 735.1px,#feeee6 0 736.1px,#fff2eb 0 737.8px,#fff8f1 0 739.9px,#f5e8e2 0 741.2px,#fcf0ea 0 743.1px,#fff8f3 0 744.8px,#fff6f1 0 746.2px,#fcf1ec 0 748px,#fff7f1 0 749px,#fff6ee 0 750.3px,#fae4da 0 751.8px,#ffe4d7 0 753.5px,#f3d3c6 0 754.6px,#edcdc0 0 755.6px,#fce0d4 0 757.7px,#ffeae1 0 759.3px,#fff1ec 0 761.4px,#fff8f6 0 763.7px,#fffafb 0 764.8px,#ece3e5 0 766.3px,#faf1f1 0 768.5px,#f4e9e8 0 769.5px,#f3e8e6 0 771.7px,#f6ebe9 0 773.9px,#f2e8e6 0 775.8px,#f0e6e4 0 777.2px,#f3eae8 0 779.1px,#f5ebe9 0 780.1px,#f2e8e6 0 781.5px,#f1e7e5 0 782.5px,#eae0e0 0 784px,#f5ecef 0 785.8px,#ede6ed 0 786.8px,#e4deea 0 788.5px,#f5f1ff 0 790.3px,#e9e6f5 0 791.6px,#f1effe 0 793.2px,#f8f7ff 0 794.4px,#e3e1f0 0 795.5px,#f8f7ff 0 796.9px,#edebf9 0 798px,#f6f5ff 0 799.2px,#f3f1ff 0 800.8px,#f0effe 0 801.9px,#e8e6f7 0 804.2px,#e8e6f8 0 806.4px,#eeecfe 0 808.5px,#f7f5ff 0 809.9px,#d5d3e4 0 811.7px,#f8f6ff 0 813px,#ece9f6 0 815.4px,#f9f7ff 0 817.4px,#f3f1fa 0 819px,#fcfbff 0 820.6px,#f1f0f9 0 822.2px,#faf9ff 0 824.4px,#efeefb 0 826.3px,#f0eefe 0 827.5px,#efedff 0 828.6px,#dddaf0 0 830.7px,#e2e0f5 0 832.2px,#e7e5f8 0 833.8px,#f1f0ff 0 835.7px,#f5f3ff 0 837.1px,#f9f8ff 0 839.1px,#f3f2fe 0 841.1px,#f7f5ff 0 842.3px,#e5e4f5 0 844.1px,#ebe9fd 0 846.4px,#e7e5fa 0 849.7px,#dfddf1 0 851.1px,#f2f0ff 0 853.3px,#f3f1ff 0 855.3px,#f3f2ff 0 856.7px,#f2f0fd 0 858.5px,#ece9f5 0 860px,#f9f6ff 0 862.1px,#f3f0ff 0 863.2px,#e3e1f1 0 864.3px,#edebfd 0 866.7px,#eceafd 0 868px,#e2e0f4 0 869.4px,#f7f5ff 0 871.6px,#e2dff1 0 873.8px,#f1eefe 0 875.6px,#efebf9 0 876.9px,#f0ebf7 0 878.3px,#f2edf7 0 879.6px,#f6f1fc 0 880.6px,#ede9f4 0 881.7px,#f1eef9 0 883.3px,#f2eff8 0 885.1px,#fbf8ff 0 886.4px,#fbf9ff 0 887.4px,#f1eef6 0 888.7px,#faf8ff 0 889.9px,#f2effa 0 891.1px,#e6e4ef 0 892.4px,#faf9ff 0 895px,#f0eff9 0 896.2px,#efeef9 0 897.3px,#f6f5ff 0 899px,#f4f3fd 0 900.1px,#fbfaff 0 902px,#f6f4ff 0 904.3px,#eae9f5 0 905.6px,#eceaf6 0 906.9px,#f1effa 0 909px,#fbf9ff 0 910.7px,#f2f0f9 0 911.8px,#faf9ff 0 914.1px,#f1f0f8 0 915.2px,#f8f7ff 0 917px,#f5f4fc 0 918.3px,#fcfbff 0 920.4px,#f7f5fd 0 921.6px,#f0eff7 0 923.4px,#fbf9ff 0 925.1px,#f9f7ff 0 926.7px,#e5e3ed 0 928.3px,#fbf9ff 0 930px,#f3f1fa 0 931.4px,#fbf9ff 0 933.1px,#f0eef7 0 934.3px,#f9f7ff 0 935.5px,#f6f4fd 0 937.3px,#f4f2fb 0 939px,#efedf6 0 940.8px,#f9f6ff 0 942.5px,#f4f1fb 0 944.4px,#f2f0f9 0 945.8px,#ece9f2 0 948.2px,#fcfbff 0 949.6px,#fefcff 0 950.9px,#faf8ff 0 952.3px,#f0eef4 0 953.4px,#fefbff 0 955.8px,#faf7fd 0 958px,#eee9ef 0 960.3px,#f4eff4 0 962px,#fdf9ff 0 963.9px,#fbf7ff 0 965.6px,#e3e0e9 0 967.8px,#f7f5fd 0 969.5px,#fffcff 0 970.8px,#f8f4f8 0 972.6px,#fffafb 0 974.1px,#f8f1f1 0 975.5px,#f8f1f2 0 977.3px,#fffafd 0 979.1px,#f1ecf1 0 980.1px,#f3edf3 0 982.3px,#faf3f7 0 983.3px,#f9f1f3 0 985.2px,#f5eced 0 986.4px,#fffafb 0 988.1px,#f6eef1 0 989.8px,#e4dde1 0 991.3px,#fff7fc 0 993.1px,#fcf3f4 0 995.2px,#f8edeb 0 996.8px,#fbede9 0 998px,#fdeee7 0 999.6px,#fff1e9 0 1001.7px,#fcebe4 0 1003.1px,#efdfd9 0 1004.1px,#fff4ef 0 1005.6px,#f5e8e6 0 1006.9px,#fff9f9 0 1008.5px,#f4eced 0 1009.6px,#f9f2f4 0 1011.8px,#fcf7f9 0 1013.8px,#fffcfe 0 1014.8px,#f1ecef 0 1016.9px,#fffafc 0 1018px,#fff7f7 0 1018.9px,#e9dfde 0 1020.9px,#fff6f5 0 1021.9px,#fff8f7 0 1023.7px,#f6eff0 0 1025.2px,#fff9fb 0 1026.5px,#f4eef2 0 1027.9px,#f5f0f7 0 1029px,#fcf7ff 0 1030.2px,#e3dee7 0 1031.6px,#fbf6ff 0 1033.1px,#f1ecf5 0 1034.3px,#eee9f2 0 1035.3px,#fcf8ff 0 1036.4px,#f2f0fa 0 1038.2px,#f4f2fd 0 1040.3px,#efedf8 0 1042.5px,#f6f3fb 0 1043.7px,#f5f0f7 0 1045.2px,#fff9fd 0 1047.4px,#f8f0f2 0 1048.5px,#f3eaec 0 1050.6px,#e9e0e3 0 1051.6px,#f9f2f7 0 1053.1px,#fffbff 0 1054.5px,#fdf8ff 0 1056.4px,#e0dce7 0 1058.5px,#ece8f3 0 1060.1px,#fef9ff 0 1062.2px,#f3eef6 0 1064.2px,#ece7ee 0 1066.2px,#fbf8ff 0 1067.6px,#fdfaff 0 1068.6px,#f8f5fb 0 1070.5px,#fbf9ff 0 1071.6px,#f6f3fd 0 1073.1px,#faf7ff 0 1074.9px,#d2cfe1 0 1075.9px,#efecff 0 1077.6px,#e6e3fa 0 1079.7px,#f2f0ff 0 1081.5px,#e6e3fb 0 1083.6px,#c2bed4 0 1085.5px,#f7f3ff 0 1086.9px,#fefaff 0 1088.4px,#f7f4fe 0 1090.1px,#f4f2f9 0 1091.6px,#f9f6fc 0 1093.7px,#f9f5f9 0 1095.8px,#fffbfe 0 1097px,#f0e8ea 0 1098px,#fbf2f5 0 1099.8px,#f6edf1 0 1101.6px,#ede5ea 0 1103.6px,#f1eaf1 0 1105.1px,#f6f1f9 0 1107.1px,#f3f0f8 0 1108.5px,#fdfbff 0 1110.4px,#fefdff 0 1112.3px,#f7f5ff 0 1114.2px,#efedf8 0 1115.9px,#ebe8f3 0 1117.5px,#f7f3ff 0 1119.5px,#f2edf9 0 1121px,#dad6e2 0 1122.5px,#f8f4ff 0 1123.6px,#fdfaff 0 1124.7px,#f2eff5 0 1126.6px,#fffafd 0 1128.4px,#fffbfb 0 1129.6px,#fbf4f2 0 1130.9px,#f4ebe9 0 1132.6px,#fef6f5 0 1134px,#fbf5f4 0 1135.5px,#fffbfc 0 1137px,#fcf9fd 0 1138.5px,#fdfbff 0 1139.7px,#e8e6ee 0 1141.1px,#fdfcff 0 1143px,#f4f3fb 0 1144.9px,#f7f6fe 0 1147px,#fcfbff 0 1148.8px,#f9f8ff 0 1150.9px,#f5f4fb 0 1153px,#f3f0f7 0 1155.1px,#fcf7fd 0 1156.7px,#f8f0f3 0 1158.6px,#f4eaeb 0 1160.4px,#f6eceb 0 1161.9px,#fbf1f0 0 1163.2px,#f8eeee 0 1164.7px,#fff8f8 0 1166.5px,#f7eff0 0 1168.4px,#fbf4f6 0 1169.7px,#faf5f7 0 1170.9px,#fffaff 0 1172.4px,#f0ecf5 0 1173.8px,#f9f6ff 0 1175.2px,#e1dfee 0 1177.3px,#f4f2ff 0 1179.3px,#f0edff 0 1180.3px,#e7e4f6 0 1181.7px,#e7e3f4 0 1183px,#f7f3ff 0 1185.1px,#ddd9e6 0 1187.3px,#fffaff 0 1188.9px,#faf5fe 0 1190px,#f1ecf5 0 1191.1px,#e9e5ee 0 1192.6px,#f5f2fc 0 1194.3px)"></div>
<div class="hc" style="left:345px;width:121px;background:linear-gradient(#ffece1 0 1.2px,#f2d6ca 0 2.8px,#f9d9cb 0 4.6px,#ffe4d5 0 5.7px,#ffdecf 0 6.9px,#ddb3a2 0 9.1px,#ffe5d4 0 10.2px,#f7cdbd 0 11.4px,#e5bdae 0 13.7px,#ffecde 0 15.5px,#ffe7db 0 17px,#f6dbd0 0 18.7px,#ead3ca 0 20.5px,#fff6ef 0 21.9px,#fff6f2 0 23.1px,#fff6f3 0 25.1px,#f5ebeb 0 27px,#faf2f4 0 28.7px,#fff9ff 0 30.8px,#e1dce6 0 32.5px,#fbf6ff 0 34.8px,#e3dfee 0 36.1px,#eeeaf9 0 37.8px,#fdf7ff 0 39.5px,#e7e0ee 0 41px,#f1e9f5 0 42.7px,#dbd2db 0 44.1px,#fff6fc 0 46.1px,#faf0f2 0 48.3px,#f1e6e7 0 49.5px,#fff9fa 0 51.1px,#fbeff0 0 52.5px,#fff5f6 0 53.6px,#fff4f5 0 55.8px,#c0a9ac 0 57.3px,#efdae0 0 58.5px,#fcebf3 0 60.4px,#f8ebf3 0 61.7px,#fff5fb 0 63.9px,#ffedef 0 65.2px,#e0c8c8 0 66.2px,#fde3e0 0 67.5px,#d9bfbb 0 69px,#fff2ee 0 70.6px,#fff4f0 0 72.8px,#fff5f4 0 74.7px,#fff5f7 0 76.2px,#e9dde3 0 77.2px,#dfd6e1 0 78.4px,#fcf5ff 0 80.8px,#d9d4e7 0 82.4px,#f8f4ff 0 84.3px,#e0daeb 0 85.4px,#f0e4f0 0 86.4px,#fff4fa 0 88.5px,#f0dada 0 90.3px,#d5bebe 0 91.7px,#fff0f4 0 93.2px,#fff8ff 0 94.3px,#e4dbee 0 95.5px,#cbc4d9 0 96.6px,#f3ebff 0 98.7px,#f1e6f5 0 100.3px,#feeef9 0 101.5px,#e6d2da 0 103.5px,#d7bfc5 0 104.7px,#edd3d8 0 105.8px,#fde0e4 0 107.6px,#ffebee 0 109.8px,#e7c4c8 0 110.8px,#b39094 0 112.9px,#ffebf1 0 114.2px,#fce5ee 0 115.3px,#fae8f3 0 116.3px,#e0d0d9 0 117.7px,#ffedf3 0 119.7px,#d9c6ca 0 121.3px,#fff3f7 0 123.5px,#fff4fa 0 124.8px,#e2d5dd 0 126.2px,#f2e5ef 0 127.5px,#f1e5f1 0 129.8px,#ebe0ee 0 132.1px,#d8cede 0 133.5px,#fbf2ff 0 135.1px,#e1d6e9 0 136.5px,#f7eafd 0 138.5px,#e2d1e5 0 139.6px,#d0bbd0 0 140.7px,#dec8dc 0 142.2px,#d0bad0 0 143.6px,#fff1ff 0 145.7px,#d6c9e7 0 147.7px,#bdb5d6 0 149.4px,#dcd7f8 0 151.3px,#efeaff 0 153.2px,#e3def5 0 155.2px,#e3deee 0 157.5px,#faf4fe 0 158.7px,#f7f0f7 0 160.5px,#fff8ff 0 161.7px,#fbf5ff 0 163.3px,#efe8fe 0 165.3px,#b5acc6 0 167.5px,#d5c8e1 0 169.5px,#fff3ff 0 170.6px,#d2c0cc 0 172.1px,#ecdae2 0 173.3px,#fbedf4 0 175.6px,#fef4fb 0 176.8px,#f5eef7 0 178.1px,#f9f4ff 0 179.6px,#f7f3ff 0 180.7px,#cecbe1 0 182.8px,#e7e3fc 0 184.7px,#dfdaf1 0 185.9px,#e6def0 0 187.6px,#fbecf8 0 188.7px,#fff4f9 0 190.5px,#c8b0b2 0 191.7px,#ffecef 0 193px,#fce4ea 0 194.2px,#dac3c9 0 196.3px,#e1c9cc 0 197.4px,#ffe8e6 0 199.5px,#fff4ed 0 200.5px,#e8cbc2 0 202.5px,#efd3c9 0 203.7px,#ffebe3 0 205.4px,#ffebe6 0 206.6px,#fae9e5 0 208.8px,#eadbda 0 209.9px,#fff8fa 0 211.5px,#fff9ff 0 213.3px,#f4ecf5 0 214.9px,#c8c1cd 0 216.1px,#f7f0fb 0 217.5px,#f7eff7 0 219.7px,#fffafd 0 220.8px,#fff6f4 0 221.9px,#f6e4de 0 224px,#ffece3 0 226.1px,#ffe8df 0 228px,#d7bbb2 0 229.6px,#ffece5 0 231.8px,#fff2ef 0 233.3px,#eedbdb 0 234.3px,#e6d6d8 0 235.9px,#fbedf0 0 237.6px,#f6e9ed 0 239.2px,#f8ecf2 0 241.4px,#fbf0f7 0 242.5px,#e9deea 0 244.5px,#e2d9e9 0 246.2px,#f2e9fc 0 248.1px,#ccc3d5 0 249.6px,#f9edf9 0 251px,#fff0f5 0 252.4px,#fce3e0 0 253.8px,#ddbfb9 0 255.4px,#fff0e8 0 257.1px,#dcc1bb 0 259.2px,#fde8e4 0 260.4px,#fff8f6 0 261.9px,#fff6f6 0 263.6px,#f9f0f2 0 265.7px,#faf3f9 0 267.6px,#ede7f2 0 269.3px,#f0eaf8 0 271.2px,#e4dcea 0 272.8px,#ebe0eb 0 274.8px,#feeff3 0 276.9px,#f0dddb 0 278.6px,#ffede7 0 279.7px,#e6d1cc 0 281.2px,#fff0ed 0 282.6px,#feefef 0 283.8px,#fceeee 0 285.2px,#fff2f0 0 287.2px,#f5ded9 0 288.7px,#f3d7cf 0 290.2px,#e8cbc1 0 291.7px,#ffefe7 0 292.9px,#ead4ce 0 294.6px,#fff4f1 0 296.2px,#fff4f5 0 298.3px,#f6ecf1 0 300.1px,#f5ecf8 0 302.4px,#fcf5ff 0 304.5px,#ddd5f1 0 306.1px,#a9a1c1 0 307.1px,#d3cae5 0 308.4px,#f1e5f8 0 309.5px,#fff5ff 0 311.4px,#fff7fc 0 312.6px,#ddc9d0 0 314.4px,#f9e6f1 0 315.8px,#d7c3d5 0 317.4px,#dfc9dc 0 319.4px,#e6ccdb 0 320.8px,#cfb2b9 0 322px,#f6dadc 0 323.3px,#ffecec 0 325.5px,#fff3f4 0 327.2px,#eee4e7 0 328.6px,#faf3f7 0 329.8px,#f9f5f9 0 330.8px,#fffcff 0 332.3px,#fcf8ff 0 334px,#fdf8ff 0 335.6px,#cfc7d4 0 337.6px,#fff7ff 0 339.9px,#f4e3ec 0 341.6px,#cebbc1 0 343.1px,#fff4fb 0 345.1px,#fcebf3 0 346.2px,#d9cbd3 0 348.1px,#e9dce4 0 350.3px,#fff6fd 0 352.2px,#fff5fd 0 353.4px,#f4eaf6 0 355.1px,#f0e3f2 0 357.1px,#ddcdde 0 358.6px,#d4c2d2 0 360.7px,#d4c3d0 0 361.9px,#fceff9 0 363.6px,#fcf2f9 0 365.3px,#fff8fe 0 367.3px,#faf6fb 0 368.8px,#f1eef2 0 370.1px,#fcf9fc 0 372px,#fdf9fb 0 373.2px,#fffbfc 0 374.6px,#fcf3f2 0 376.2px,#fff8f7 0 378.2px,#ebdbdb 0 379.8px,#eddcdd 0 381.5px,#eddbdf 0 383.3px,#f9eaf0 0 385.2px,#dbced7 0 387.4px,#f7edf8 0 389px,#fff8ff 0 390.7px,#faf3ff 0 391.7px,#d2cceb 0 393px,#b9b3d6 0 394.3px,#ccc3e5 0 395.5px,#ede2fe 0 397.2px,#f8eaff 0 398.4px,#e0d1ea 0 400.2px,#c0b3cf 0 402.2px,#d6cbeb 0 403.3px,#d3cbec 0 404.6px,#f7f1ff 0 406.2px,#dfdbf7 0 407.3px,#cac6df 0 408.4px,#faf5ff 0 410.2px,#efe9fa 0 411.7px,#f9f0fc 0 413.8px,#eadee6 0 415.5px,#e5d6da 0 417.5px,#fff6f9 0 418.9px,#ecdde1 0 420.4px,#f2e6ec 0 422.5px,#eee4ec 0 424.3px,#fef3fb 0 426.4px,#fff1f6 0 427.7px,#f6e0e1 0 428.9px,#f7dad8 0 430.7px,#c0a19f 0 431.9px,#ffeded 0 433px,#ffecef 0 434.5px,#fff9fe 0 436.3px,#e8dee4 0 437.8px,#f6ecf3 0 439.7px,#f2e8ef 0 441.3px,#eae2ea 0 442.7px,#fcf5ff 0 444.3px,#efebfa 0 446.1px,#f9f5ff 0 447.3px,#d7d3eb 0 449px,#dcd9f1 0 450.2px,#d5d2e8 0 452.5px,#f8f4ff 0 454.2px,#fefaff 0 455.4px,#f4f0ff 0 456.4px,#dedaed 0 457.7px,#f5f0ff 0 459.1px,#dad5ed 0 460.8px,#cbc6de 0 462.7px,#f7f1ff 0 464.6px,#efe8f6 0 466.1px,#fbf0f7 0 467.9px,#ecdddf 0 469.6px,#fff3f1 0 471px,#ead9d5 0 472.3px,#fff6f3 0 473.8px,#f9ebeb 0 475.6px,#faeef4 0 476.8px,#f2e9f5 0 478.6px,#d8d0e4 0 479.6px,#faf4ff 0 480.9px,#dfdafd 0 482.7px,#b6b1d8 0 484.7px,#c2bde3 0 486.7px,#f5efff 0 488.6px,#d0cbe9 0 489.9px,#fbf5ff 0 492.1px,#f2edff 0 493.9px,#a8a3c2 0 496.1px,#f2eeff 0 498.3px,#dbd7f6 0 499.6px,#e3dffc 0 501.8px,#ece5ff 0 502.9px,#ece1f7 0 504.7px,#cebccc 0 506px,#f3dae2 0 507.1px,#e5c9c9 0 508.8px,#e9cecc 0 510.1px,#ffedec 0 512.1px,#fff4f6 0 513.7px,#fef6fe 0 515px,#f9f4ff 0 516px,#e0dcf3 0 517.9px,#e6e3ff 0 519.7px,#d0ccec 0 521.7px,#c3bfdf 0 523.2px,#f4efff 0 525.4px,#e4defa 0 526.4px,#ddd6ef 0 528.6px,#dcd3e6 0 530.5px,#fff1fd 0 531.7px,#f4e0e5 0 533.9px,#fff3f4 0 535px,#cab1b3 0 537px,#fae4ea 0 538.3px,#f6e4ef 0 540.1px,#dccedc 0 542.2px,#ebe0f0 0 543.3px,#fcf3ff 0 544.8px,#dad2e2 0 546.9px,#f2ebf8 0 548.5px,#f4ebf5 0 549.7px,#ece3e9 0 550.8px,#fff7fa 0 551.9px,#fcf0f2 0 553.1px,#fceeec 0 554.5px,#fee8e3 0 555.8px,#ffe3d9 0 557.3px,#f1c7b8 0 558.4px,#ffdcc9 0 559.9px,#edaa94 0 561.6px,#e49a81 0 563.8px,#f3a88f 0 566px,#e19c85 0 567.8px,#ffd5c0 0 569.3px,#ffdac6 0 571.2px,#fecbb8 0 573.4px,#ffdbc6 0 575.2px,#f3b6a0 0 576.4px,#e7a48d 0 578.1px,#e6a189 0 579.7px,#ffdac3 0 581.8px,#f2ab94 0 583.6px,#ffc5ad 0 585.8px,#d98f78 0 586.9px,#ffbda7 0 588.7px,#d89a86 0 589.9px,#ffe7d5 0 591.5px,#ffdccc 0 593.5px,#ffe1d0 0 595.7px,#ffd1be 0 597px,#f9b9a3 0 599px,#da927b 0 600.2px,#f0a791 0 601.5px,#e4a18f 0 602.8px,#ffdcce 0 605px,#ffddd4 0 606.1px,#ce9f99 0 608px,#ffd0ca 0 609.7px,#ffd7ce 0 611.5px,#f1beb0 0 612.6px,#e1ac9c 0 614.1px,#ffcfbd 0 615.8px,#ffe3cf 0 617.1px,#edb19d 0 618.9px,#ffc1ac 0 620px,#ce8e7a 0 621.1px,#ffdcc8 0 622.9px,#ffcbb7 0 624.1px,#fcbfaa 0 626.2px,#febca5 0 627.9px,#ffb8a0 0 629.9px,#ffb99f 0 632px,#d67a5f 0 633.8px,#ea8c71 0 636px,#f3997e 0 637.3px,#ffb79e 0 639px,#ffc5ad 0 640.1px,#faa892 0 642px,#ffbba6 0 644px,#a85340 0 646.1px,#ffdac8 0 647.7px,#ffbeab 0 649.8px,#fba993 0 651.3px,#ffc0a8 0 652.7px,#ee8469 0 654.6px,#e97559 0 656.7px,#c9553a 0 657.8px,#f78c72 0 659.4px,#ffb69f 0 660.9px,#ffcbb5 0 661.9px,#ffc0aa 0 663px,#b64c34 0 665px,#f4876e 0 667.2px,#f79076 0 668.8px,#f79d84 0 670.1px,#e99f89 0 672.3px,#ffd8c4 0 673.8px,#ffe1d0 0 674.9px,#ffe8d8 0 676.9px,#f4d0c1 0 678.7px,#fcd7c7 0 680.6px,#f2cbbb 0 682px,#ffedde 0 683.3px,#fdcebf 0 684.6px,#e1afa1 0 686.3px,#f3bcb0 0 687.7px,#ffcbbf 0 689.6px,#ffc2b4 0 691.7px,#cd8573 0 693.7px,#f7ad98 0 694.7px,#ffc2ab 0 696.5px,#f1ab94 0 697.5px,#ffc1aa 0 698.9px,#efb19a 0 700.2px,#ffd0ba 0 701.9px,#ffc9b3 0 702.9px,#edb19b 0 704.1px,#f8bca7 0 706.3px,#f0b8a5 0 707.3px,#ffd2c1 0 708.7px,#f7c8b9 0 710.3px,#ffe1d3 0 711.4px,#fecebe 0 712.7px,#e9b5a4 0 714.5px,#e4ae9b 0 715.8px,#ffd9c6 0 717.5px,#ffdac6 0 719.7px,#f2b5a0 0 720.8px,#ffbba4 0 722.6px,#f8af98 0 723.6px,#d8907a 0 725px,#fcbaa8 0 726.9px,#f3bbaf 0 729.1px,#ffe5df 0 730.6px,#e9c1be 0 732.4px,#e0b8b4 0 733.9px,#ffe9e1 0 735.1px,#f0bdb2 0 736.1px,#ffd2c5 0 737.8px,#ffd1c4 0 739.9px,#9b574b 0 741.2px,#ffccc2 0 743.1px,#ffe3db 0 744.8px,#ffe6df 0 746.2px,#ffeae2 0 748px,#ffe6dc 0 749px,#eed0c4 0 750.3px,#fff0e2 0 751.8px,#ffd6c7 0 753.5px,#f1c2b1 0 754.6px,#e7b6a6 0 755.6px,#f5c7b9 0 757.7px,#ffdad1 0 759.3px,#ffdcd7 0 761.4px,#dcb3b0 0 763.7px,#f3cac7 0 764.8px,#d3aba7 0 766.3px,#ffebe6 0 768.5px,#eecfc8 0 769.5px,#fbdfd8 0 771.7px,#ffe9e2 0 773.9px,#fad9d2 0 775.8px,#dcb6ae 0 777.2px,#d8b2a9 0 779.1px,#fcd9d1 0 780.1px,#edcfc9 0 781.5px,#fee5e1 0 782.5px,#eedad7 0 784px,#e7d6d6 0 785.8px,#f1e3e8 0 786.8px,#f9f0f9 0 788.5px,#d7d2df 0 790.3px,#fcf8ff 0 791.6px,#f2f0fe 0 793.2px,#f7f4ff 0 794.4px,#f0ecfd 0 795.5px,#ddd8eb 0 796.9px,#f3eeff 0 798px,#e5e0f9 0 799.2px,#cac6e0 0 800.8px,#e0ddf5 0 801.9px,#f1eeff 0 804.2px,#f8f6ff 0 806.4px,#f3f1ff 0 808.5px,#f3f1fe 0 809.9px,#edebf9 0 811.7px,#fcf9ff 0 813px,#faf5ff 0 815.4px,#b6b0cc 0 817.4px,#d2cbe6 0 819px,#ece3fc 0 820.6px,#e9e0f4 0 822.2px,#e4daed 0 824.4px,#ede5f8 0 826.3px,#fbf4ff 0 827.5px,#bab4d2 0 828.6px,#f3efff 0 830.7px,#d4d0f7 0 832.2px,#b6b3db 0 833.8px,#e2deff 0 835.7px,#d3d0f5 0 837.1px,#e8e5ff 0 839.1px,#e3e0ff 0 841.1px,#c6c3e2 0 842.3px,#faf7ff 0 844.1px,#eae6ff 0 846.4px,#cdc7e9 0 848.3px,#bcb5d7 0 849.7px,#ebe4ff 0 851.1px,#d0c9e3 0 853.3px,#f8f3ff 0 855.3px,#eeebff 0 856.7px,#fbf8ff 0 858.5px,#eae7ff 0 860px,#a9a5cf 0 862.1px,#ded9ff 0 863.2px,#bcb5e5 0 864.3px,#a79eca 0 866.7px,#e9dfff 0 868px,#e8ddfb 0 869.4px,#f9edff 0 871.6px,#c2b4ca 0 873.8px,#dacde0 0 875.6px,#f3e7f9 0 876.9px,#fef5ff 0 878.3px,#e1dbf0 0 879.6px,#d1cde4 0 880.6px,#faf7ff 0 881.7px,#ece9ff 0 883.3px,#d9d5ee 0 885.1px,#ded9f1 0 886.4px,#ebe4fb 0 887.4px,#efe8ff 0 888.7px,#e9e1fb 0 889.9px,#cac2de 0 891.1px,#d0c8e3 0 892.4px,#eee6fe 0 893.8px,#e0d9ed 0 895px,#f9f3ff 0 896.2px,#e4e0f1 0 897.3px,#f9f5ff 0 899px,#edeafd 0 900.1px,#e9e6f9 0 902px,#d3d0e1 0 904.3px,#faf6ff 0 905.6px,#fef9ff 0 906.9px,#fff8ff 0 909px,#efe8f4 0 910.7px,#e6dff0 0 911.8px,#c8c2d5 0 914.1px,#f1edff 0 915.2px,#fcf9ff 0 917px,#f7f5ff 0 918.3px,#e5e3f0 0 920.4px,#faf8ff 0 921.6px,#efedfd 0 923.4px,#f5f4ff 0 925.1px,#e3e1f9 0 926.7px,#e5e2ff 0 928.3px,#d9d6fc 0 930px,#cac6f0 0 931.4px,#aaa7d0 0 933.1px,#eae6ff 0 934.3px,#edeaff 0 935.5px,#c9c6e0 0 937.3px,#fbf8ff 0 939px,#f5f3ff 0 940.8px,#fdfaff 0 942.5px,#e3dff1 0 944.4px,#e1d8eb 0 945.8px,#f1e3f5 0 948.2px,#fce8fa 0 949.6px,#c3adc2 0 950.9px,#d7c3dd 0 952.3px,#ebdcfc 0 953.4px,#b8afd2 0 955.8px,#d6d0f3 0 958px,#f7f3ff 0 960.3px,#fbf8ff 0 962px,#d2cefa 0 963.9px,#a4a0d2 0 965.6px,#bdb8ed 0 967.8px,#cec9fb 0 969.5px,#c9c4ee 0 970.8px,#d6d1f1 0 972.6px,#f5efff 0 974.1px,#f5f0ff 0 975.5px,#f8f3ff 0 977.3px,#e5e1f8 0 979.1px,#ece7ff 0 980.1px,#cfcbf1 0 982.3px,#b6b1db 0 983.3px,#c2bde4 0 985.2px,#e9e3ff 0 986.4px,#f6eeff 0 988.1px,#eae1fc 0 989.8px,#e6defc 0 991.3px,#a6a0c3 0 993.1px,#e1dcff 0 995.2px,#ece7ff 0 996.8px,#c6c1e1 0 998px,#e5def8 0 999.6px,#f6eafd 0 1001.7px,#f9e9f5 0 1003.1px,#d6c3c9 0 1004.1px,#efdde0 0 1005.6px,#f2e2e4 0 1006.9px,#fff9fb 0 1008.5px,#fffbff 0 1009.6px,#f5edf3 0 1011.8px,#f9f0f7 0 1013.8px,#e8dfe7 0 1014.8px,#e6dce5 0 1016.9px,#f9f0f8 0 1018px,#f9eff7 0 1018.9px,#ece1e8 0 1020.9px,#f5eaf2 0 1021.9px,#fcf2fc 0 1023.7px,#efe7f3 0 1025.2px,#d7d0e1 0 1026.5px,#e9e3f7 0 1027.9px,#fbf7ff 0 1029px,#e3dffb 0 1030.2px,#dfdcfc 0 1031.6px,#c8c5e7 0 1033.1px,#d6d3f5 0 1034.3px,#d7d4f3 0 1035.3px,#f9f6ff 0 1036.4px,#e6e3ff 0 1038.2px,#d3d0ee 0 1040.3px,#ece8ff 0 1042.5px,#bfbad9 0 1043.7px,#ded9f5 0 1045.2px,#f4efff 0 1047.4px,#f9f4ff 0 1048.5px,#dbd7f1 0 1050.6px,#d7d3f0 0 1051.6px,#dddaf7 0 1053.1px,#d9d7f2 0 1054.5px,#f0eeff 0 1056.4px,#e7e5f9 0 1058.5px,#fcfaff 0 1060.1px,#f1eeff 0 1062.2px,#e8e4f5 0 1064.2px,#d9d2e3 0 1066.2px,#f6eefb 0 1067.6px,#eae1eb 0 1068.6px,#fef5ff 0 1070.5px,#f2ebf7 0 1071.6px,#e3ddec 0 1073.1px,#e7e3f3 0 1074.9px,#faf7ff 0 1075.9px,#e9e4f2 0 1077.6px,#f1edfa 0 1079.7px,#f5f0ff 0 1081.5px,#f2edff 0 1083.6px,#ece7ff 0 1085.5px,#c7c2e2 0 1086.9px,#cac4e7 0 1088.4px,#e0d9fc 0 1090.1px,#ede5ff 0 1091.6px,#beb7d8 0 1093.7px,#cac4e3 0 1095.8px,#faf6ff 0 1097px,#fbf8ff 0 1098px,#d6d3ef 0 1099.8px,#f9f6ff 0 1101.6px,#bbb7dd 0 1103.6px,#cdc9f3 0 1105.1px,#dfdbff 0 1107.1px,#cac6f4 0 1108.5px,#ccc7f5 0 1110.4px,#d6d1fd 0 1112.3px,#c4c0e8 0 1114.2px,#d4d0f2 0 1115.9px,#efebff 0 1117.5px,#f6f1ff 0 1119.5px,#e6e1f6 0 1121px,#d8d3e6 0 1122.5px,#f4efff 0 1123.6px,#f8f3ff 0 1124.7px,#e4deee 0 1126.6px,#f3eeff 0 1128.4px,#d9d4e9 0 1129.6px,#fcf7ff 0 1130.9px,#e8e4ff 0 1132.6px,#b1add5 0 1134px,#dfdcff 0 1135.5px,#b5b1db 0 1137px,#e4dfff 0 1138.5px,#dcd5f4 0 1139.7px,#f6ecff 0 1141.1px,#e0d2e0 0 1143px,#e1d1d7 0 1144.9px,#fff2f2 0 1147px,#fcecea 0 1148.8px,#fdf1ee 0 1150.9px,#fff6f6 0 1153px,#fdf6fb 0 1155.1px,#f5eff9 0 1156.7px,#dcd7e5 0 1158.6px,#f8f4ff 0 1160.4px,#e6e2f3 0 1161.9px,#f3efff 0 1163.2px,#dbd7e7 0 1164.7px,#fcf7ff 0 1166.5px,#f2ecfa 0 1168.4px,#ede7f7 0 1169.7px,#f9f3ff 0 1170.9px,#dbd4ee 0 1172.4px,#c9c1de 0 1173.8px,#e7defc 0 1175.2px,#b7afca 0 1177.3px,#fbf2ff 0 1179.3px,#f5eaf9 0 1180.3px,#fdeef6 0 1181.7px,#ffebef 0 1183px,#d3babc 0 1185.1px,#ffe9ed 0 1187.3px,#f3dae2 0 1188.9px,#d6c1cf 0 1190px,#dac9dd 0 1191.1px,#ece0f9 0 1192.6px,#e2daf7 0 1194.3px)"></div>
<div class="hc" style="left:466px;width:121px;background:linear-gradient(#e3e0fd 0 1.2px,#d6d3f1 0 2.8px,#f5f2ff 0 4.6px,#d5d1f4 0 5.7px,#cac7ea 0 6.9px,#cecbec 0 9.1px,#f4f1ff 0 10.2px,#eeebff 0 11.4px,#cac6dd 0 13.7px,#f6f3ff 0 15.5px,#f7f3ff 0 17px,#fdf9ff 0 18.7px,#d5d1e5 0 20.5px,#dcdaef 0 21.9px,#f1efff 0 23.1px,#f3f1ff 0 25.1px,#efedff 0 27px,#dedcee 0 28.7px,#f4f2ff 0 30.8px,#faf8ff 0 32.5px,#dad8eb 0 34.8px,#e8e6f9 0 36.1px,#f3f1ff 0 37.8px,#eae8fa 0 39.5px,#eceafd 0 41px,#f2f0ff 0 42.7px,#efedff 0 44.1px,#e0def6 0 46.1px,#cdcae1 0 48.3px,#eceafe 0 49.5px,#f8f6ff 0 51.1px,#fcf9ff 0 52.5px,#eeeaf3 0 53.6px,#f6f1f7 0 55.8px,#f8f3f7 0 57.3px,#f9f4f8 0 58.5px,#faf6fb 0 60.4px,#faf7ff 0 61.7px,#eae8f4 0 63.9px,#fbf9ff 0 65.2px,#eae8fc 0 66.2px,#e7e4fd 0 67.5px,#e1defc 0 69px,#d9d6f8 0 70.6px,#c3c0e5 0 72.8px,#d5d2f6 0 74.7px,#e8e4ff 0 76.2px,#e2dffc 0 77.2px,#dedbf4 0 78.4px,#eceaff 0 80.8px,#efedff 0 82.4px,#f7f5ff 0 84.3px,#dddbf0 0 85.4px,#edeaff 0 86.4px,#e5e2fd 0 88.5px,#dddaf6 0 90.3px,#d4d1ee 0 91.7px,#e9e6ff 0 93.2px,#dbd8f1 0 94.3px,#f8f5ff 0 95.5px,#e4e0f6 0 96.6px,#e3dff4 0 98.7px,#e7e3f8 0 100.3px,#f3eeff 0 101.5px,#d8d3eb 0 103.5px,#eae5ff 0 104.7px,#dbd8f2 0 105.8px,#e5e3fd 0 107.6px,#e6e4fd 0 109.8px,#efedff 0 110.8px,#d3d1ea 0 112.9px,#e9e7ff 0 114.2px,#f7f4ff 0 115.3px,#d3d0f1 0 116.3px,#dedbff 0 117.7px,#d0ccf4 0 119.7px,#b4b1d8 0 121.3px,#e3e0ff 0 123.5px,#f8f5ff 0 124.8px,#e6e4fe 0 126.2px,#d0cee5 0 127.5px,#f4f2ff 0 129.8px,#f1efff 0 132.1px,#f2f0ff 0 133.5px,#f7f5ff 0 135.1px,#eeecf8 0 136.5px,#fbf9ff 0 138.5px,#dfdde7 0 139.6px,#f7f4fd 0 140.7px,#fcfaff 0 142.2px,#fffdff 0 143.6px,#fdfbff 0 145.7px,#ebe9f9 0 147.7px,#edebff 0 149.4px,#e3e0fc 0 151.3px,#c0bddc 0 153.2px,#e3e0fe 0 155.2px,#e8e6ff 0 157.5px,#e0def5 0 158.7px,#f7f5ff 0 160.5px,#eeedff 0 161.7px,#f5f3ff 0 163.3px,#e0def5 0 165.3px,#cccae1 0 167.5px,#f7f5ff 0 169.5px,#f1efff 0 170.6px,#e9e7fd 0 172.1px,#e4e1f9 0 173.3px,#e2e0fa 0 175.6px,#e9e6ff 0 176.8px,#dfdcfa 0 178.1px,#c9c6e5 0 179.6px,#f5f2ff 0 180.7px,#d7d4f1 0 182.8px,#e2dffa 0 184.7px,#e8e6ff 0 185.9px,#eeecff 0 187.6px,#d3d0e8 0 188.7px,#fbf9ff 0 190.5px,#e8e5fe 0 191.7px,#ece9ff 0 193px,#c8c5e1 0 194.2px,#edebff 0 196.3px,#e1def7 0 197.4px,#e7e5fb 0 199.5px,#e8e6f9 0 200.5px,#f7f5ff 0 202.5px,#f0edfe 0 203.7px,#faf8ff 0 205.4px,#d6d3e8 0 206.6px,#f8f5ff 0 208.8px,#dbd8f3 0 209.9px,#dad7f3 0 211.5px,#d9d6f2 0 213.3px,#f2f0ff 0 214.9px,#d6d4ea 0 216.1px,#fbf9ff 0 217.5px,#f7f5ff 0 219.7px,#e8e6f5 0 220.8px,#e6e5f3 0 221.9px,#f8f6ff 0 224px,#f4f3ff 0 226.1px,#fbfaff 0 228px,#edebfb 0 229.6px,#e2e0f3 0 231.8px,#f1efff 0 233.3px,#d8d6ec 0 234.3px,#f4f2ff 0 235.9px,#eeecff 0 237.6px,#dfddf5 0 239.2px,#e5e2fc 0 241.4px,#e4e1fb 0 242.5px,#d3d1ea 0 244.5px,#f5f2ff 0 246.2px,#f1eeff 0 248.1px,#dad7ec 0 249.6px,#eae8fd 0 251px,#fbf8ff 0 252.4px,#ebe8ff 0 253.8px,#dcd9f7 0 255.4px,#c3c0e1 0 257.1px,#cfccec 0 259.2px,#f7f5ff 0 260.4px,#ece9ff 0 261.9px,#d6d4ed 0 263.6px,#f4f2ff 0 265.7px,#e1dff7 0 267.6px,#e8e6fe 0 269.3px,#e5e2fa 0 271.2px,#dcd9f1 0 272.8px,#f9f6ff 0 274.8px,#d9d6eb 0 276.9px,#e5e2f5 0 278.6px,#fdfbff 0 279.7px,#fbf8ff 0 281.2px,#d5d2e3 0 282.6px,#f7f4ff 0 283.8px,#f0ecff 0 285.2px,#d0cde4 0 287.2px,#faf6ff 0 288.7px,#d3d0ec 0 290.2px,#f0edff 0 291.7px,#d1ceed 0 292.9px,#cac7e6 0 294.6px,#f5f2ff 0 296.2px,#e7e5ff 0 298.3px,#e2dffc 0 300.1px,#e3e0fe 0 302.4px,#d8d5f5 0 306.1px,#d3d0ee 0 307.1px,#edeaff 0 308.4px,#ece9ff 0 309.5px,#e8e6fd 0 311.4px,#e6e3fb 0 312.6px,#e9e6ff 0 314.4px,#dddaf2 0 315.8px,#e7e4fc 0 317.4px,#e2dff5 0 319.4px,#f9f6ff 0 320.8px,#e1dff2 0 322px,#e9e7f8 0 323.3px,#e9e7f6 0 325.5px,#faf8ff 0 327.2px,#fcf9ff 0 328.6px,#f3f0f8 0 329.8px,#f9f5fd 0 330.8px,#f0eaf3 0 332.3px,#f5eff9 0 334px,#efe9f5 0 335.6px,#dfd9e8 0 337.6px,#f9f4ff 0 339.9px,#eeeaff 0 341.6px,#d8d5eb 0 343.1px,#e2e0f7 0 345.1px,#f8f6ff 0 346.2px,#dfddf3 0 348.1px,#e6e4fa 0 350.3px,#f3f1ff 0 352.2px,#dfddf5 0 353.4px,#e8e5ff 0 355.1px,#dddaf7 0 358.6px,#dbd8f4 0 360.7px,#e2dff7 0 361.9px,#f0edff 0 363.6px,#ebe7f9 0 365.3px,#f5f1ff 0 367.3px,#e8e5f5 0 368.8px,#e7e3f4 0 370.1px,#fcf9ff 0 372px,#e6e3f8 0 373.2px,#d9d7ec 0 374.6px,#eeecff 0 376.2px,#e0def1 0 378.2px,#f4f2ff 0 379.8px,#fcfbff 0 381.5px,#f1efff 0 383.3px,#e2e0f3 0 385.2px,#dfddf1 0 387.4px,#eae8fc 0 389px,#f8f5ff 0 390.7px,#e7e5f5 0 391.7px,#eae8f6 0 393px,#fbf9ff 0 394.3px,#f5f3ff 0 395.5px,#f4f2ff 0 397.2px,#f5f3ff 0 398.4px,#e0deec 0 400.2px,#edebf9 0 402.2px,#fbf9ff 0 403.3px,#f2effb 0 404.6px,#f3f0fb 0 406.2px,#f7f4fe 0 407.3px,#f4f0fc 0 408.4px,#f6f2ff 0 410.2px,#dfdbea 0 411.7px,#e5e1f2 0 413.8px,#fbf8ff 0 415.5px,#ece9fc 0 417.5px,#edebff 0 418.9px,#d3d0e6 0 420.4px,#ebe9fe 0 422.5px,#f1efff 0 424.3px,#f0eeff 0 426.4px,#eeedfd 0 427.7px,#f0eeff 0 428.9px,#e8e7f8 0 430.7px,#f3f1ff 0 431.9px,#e5e3f8 0 433px,#f0eeff 0 434.5px,#d9d6f1 0 436.3px,#eae7ff 0 437.8px,#c5c2de 0 439.7px,#e9e6ff 0 441.3px,#f6f2ff 0 442.7px,#eae7fa 0 444.3px,#f5f1ff 0 446.1px,#ddd9ee 0 447.3px,#e9e6fd 0 449px,#dad6ee 0 450.2px,#ece9ff 0 452.5px,#f0ecff 0 454.2px,#dcd7ec 0 455.4px,#e6e1f2 0 456.4px,#efe9f7 0 457.7px,#f3eefa 0 459.1px,#fefaff 0 460.8px,#e2dfed 0 462.7px,#f1effe 0 464.6px,#f8f7ff 0 466.1px,#e7e5f6 0 467.9px,#e7e5f7 0 469.6px,#edebfd 0 471px,#eeecff 0 472.3px,#f2f0ff 0 473.8px,#f3f1ff 0 475.6px,#d0cdeb 0 476.8px,#cac7e6 0 478.6px,#e1defb 0 479.6px,#e9e6ff 0 480.9px,#f0edff 0 482.7px,#f6f3ff 0 484.7px,#dedbed 0 486.7px,#f8f5ff 0 488.6px,#f1eeff 0 489.9px,#cdcbde 0 492.1px,#f8f5ff 0 493.9px,#f2f0ff 0 498.3px,#d8d5e8 0 499.6px,#eae8f9 0 501.8px,#f4f1fe 0 502.9px,#f6f3fb 0 504.7px,#fffbff 0 506px,#f8f2f4 0 507.1px,#f9f2f4 0 508.8px,#fcf6fb 0 510.1px,#eae5ee 0 512.1px,#fdfaff 0 513.7px,#e9e7f6 0 515px,#f2f0ff 0 516px,#ece9ff 0 517.9px,#dad7f4 0 519.7px,#c8c5e5 0 521.7px,#eae7ff 0 523.2px,#dcd9f8 0 525.4px,#e2dffd 0 526.4px,#edeaff 0 528.6px,#d7d4f1 0 530.5px,#d2cfeb 0 531.7px,#eceaff 0 533.9px,#f2f0ff 0 535px,#eeebff 0 537px,#e4e1fc 0 538.3px,#cdcae7 0 540.1px,#e3e0fc 0 542.2px,#d7d3ec 0 543.3px,#f3efff 0 544.8px,#f7f3ff 0 546.9px,#e8e5f1 0 548.5px,#f5f3fc 0 549.7px,#f8f5fc 0 550.8px,#fffdff 0 551.9px,#fcf9fb 0 553.1px,#fffdfd 0 554.5px,#fef6f5 0 555.8px,#fff5f2 0 557.3px,#eee2df 0 558.4px,#f7ece9 0 559.9px,#fdf3f3 0 561.6px,#fdf6f8 0 563.8px,#f4eff4 0 566px,#fcf9ff 0 567.8px,#efedf8 0 569.3px,#edeaf9 0 571.2px,#f7f4ff 0 573.4px,#dddaec 0 575.2px,#ece8fa 0 576.4px,#e5e0f0 0 578.1px,#f8f3ff 0 579.7px,#f9f4ff 0 581.8px,#ece7f4 0 583.6px,#ded9e6 0 585.8px,#faf5ff 0 586.9px,#f9f3ff 0 588.7px,#ebe5ef 0 589.9px,#efe9f3 0 591.5px,#f5eff9 0 593.5px,#eae5ef 0 595.7px,#f6f1fa 0 597px,#fdf8ff 0 599px,#f6f1f9 0 600.2px,#fcf7ff 0 601.5px,#e2dde9 0 602.8px,#eee8f4 0 605px,#f4effa 0 606.1px,#e7e2eb 0 608px,#fef9ff 0 609.7px,#f6f2f6 0 611.5px,#fdf9fd 0 612.6px,#fefbff 0 614.1px,#f3f1f6 0 615.8px,#f9f7fb 0 617.1px,#fefbff 0 618.9px,#fcf8fa 0 620px,#f7f1f2 0 621.1px,#fef8f8 0 622.9px,#f6f0f0 0 624.1px,#fffcfd 0 626.2px,#fffcfe 0 627.9px,#f0eaed 0 629.9px,#f6f1f5 0 632px,#fbf6fd 0 633.8px,#f8f4fe 0 636px,#ebe8f6 0 637.3px,#f3f1ff 0 639px,#ccc9dc 0 640.1px,#f2f0ff 0 642px,#fdfaff 0 644px,#f2eef5 0 646.1px,#fef8fc 0 647.7px,#fffafc 0 649.8px,#ede5e9 0 651.3px,#fffaff 0 652.7px,#ece5ef 0 654.6px,#dbd5e0 0 656.7px,#fef8ff 0 657.8px,#f6f0f8 0 659.4px,#fcf7ff 0 660.9px,#f2edf7 0 661.9px,#ebe8f3 0 663px,#e9e6f1 0 665px,#fcf8ff 0 667.2px,#faf6fb 0 668.8px,#fef7f9 0 670.1px,#fffaf9 0 672.3px,#eae1df 0 673.8px,#fff8f7 0 674.9px,#fffcfd 0 676.9px,#fffbff 0 678.7px,#f9f5fe 0 680.6px,#eeebf9 0 682px,#d7d4e5 0 683.3px,#e1deef 0 684.6px,#faf7ff 0 686.3px,#fefbff 0 687.7px,#f7f3f9 0 689.6px,#fffbfe 0 691.7px,#fff5f5 0 693.7px,#faebe9 0 694.7px,#ebd8d4 0 696.5px,#e9d6d1 0 697.5px,#fff3f0 0 698.9px,#fff6f6 0 700.2px,#fff9fc 0 701.9px,#efebf1 0 702.9px,#fdfaff 0 704.1px,#f4f0f9 0 706.3px,#f6f1f8 0 707.3px,#f7f0f7 0 708.7px,#eae2e8 0 710.3px,#f1e9ee 0 711.4px,#fef5fa 0 712.7px,#f6eef2 0 714.5px,#f1e8ed 0 715.8px,#f8eff5 0 717.5px,#ebe4eb 0 719.7px,#f2edf4 0 720.8px,#fffbff 0 722.6px,#f5f2f8 0 723.6px,#fbf7fd 0 725px,#faf6fb 0 726.9px,#ece8ed 0 729.1px,#f9f5f9 0 730.6px,#f8f4f6 0 732.4px,#fffdfd 0 733.9px,#fffdfc 0 735.1px,#fff8f6 0 736.1px,#fef5f3 0 737.8px,#ece2e1 0 739.9px,#f5ecee 0 741.2px,#fdf6fa 0 743.1px,#f5f1f5 0 744.8px,#f8f5fa 0 746.2px,#fefcff 0 748px,#fffeff 0 749px,#fffdfc 0 750.3px,#f9f5f4 0 751.8px,#fcf7f6 0 753.5px,#fbf6f6 0 754.6px,#fdf9f9 0 755.6px,#fffbfc 0 757.7px,#fbf7fa 0 759.3px,#faf7fc 0 761.4px,#fefbff 0 763.7px,#e3e0e8 0 764.8px,#f7f2fa 0 766.3px,#fcf7fc 0 768.5px,#f1eaee 0 771.7px,#f0eaef 0 773.9px,#e6e1e5 0 775.8px,#f3eff3 0 777.2px,#efebf0 0 779.1px,#f0ebf0 0 780.1px,#eee9f0 0 781.5px,#ebe4ea 0 782.5px,#efe3e7 0 784px,#fae4e4 0 785.8px,#ffe1da 0 786.8px,#e0aea0 0 788.5px,#f1b29e 0 790.3px,#f6af98 0 791.6px,#faaf95 0 793.2px,#f7ab91 0 794.4px,#feb197 0 795.5px,#f9ad94 0 796.9px,#f9ae95 0 798px,#fbb299 0 799.2px,#f9b49b 0 800.8px,#fcb9a1 0 801.9px,#ffbea7 0 804.2px,#febfa8 0 806.4px,#fbbca5 0 809.9px,#fcbda6 0 811.7px,#fabba4 0 813px,#f9bba4 0 815.4px,#fbbea8 0 817.4px,#fdc2ac 0 819px,#fdc3ad 0 820.6px,#fac1ac 0 822.2px,#fdc5b0 0 824.4px,#fcc5b0 0 826.3px,#fcc7b2 0 827.5px,#fdc8b3 0 828.6px,#fbc7b2 0 830.7px,#fcc8b4 0 832.2px,#f9c7b3 0 833.8px,#fdcdb9 0 835.7px,#fccebb 0 837.1px,#fdd1be 0 839.1px,#fcd1bf 0 841.1px,#fed4c2 0 842.3px,#ffd7c5 0 844.1px,#f9d0bf 0 846.4px,#ffd6c4 0 848.3px,#fad2c1 0 849.7px,#fdd4c3 0 851.1px,#fbd4c3 0 853.3px,#fcd5c4 0 855.3px,#ffd9c8 0 856.7px,#fad5c4 0 858.5px,#fdd7c7 0 860px,#fdd8c8 0 862.1px,#fcd9c9 0 863.2px,#fbd8c9 0 864.3px,#fcdbcc 0 866.7px,#feded0 0 868px,#f9dacd 0 869.4px,#fde0d2 0 871.6px,#ffe6d9 0 873.8px,#fde1d4 0 875.6px,#fbdfd2 0 878.3px,#fde1d4 0 879.6px,#fce0d3 0 880.6px,#fee2d6 0 881.7px,#ffe3d7 0 883.3px,#fce1d4 0 885.1px,#fce0d4 0 886.4px,#fce1d4 0 887.4px,#fce1d5 0 888.7px,#fce3d7 0 889.9px,#ffe7dc 0 891.1px,#fde6db 0 892.4px,#fee9de 0 893.8px,#fee9df 0 895px,#fde8de 0 896.2px,#fce8de 0 897.3px,#fde9df 0 899px,#fde9e0 0 900.1px,#feebe2 0 902px,#ffede4 0 904.3px,#fceae1 0 905.6px,#ffede4 0 906.9px,#fdebe2 0 909px,#fcebe2 0 910.7px,#fdede4 0 911.8px,#fcede5 0 914.1px,#fff0e9 0 915.2px,#fff2eb 0 917px,#fff3ec 0 918.3px,#faeee8 0 920.4px,#fcf1eb 0 921.6px,#fff5f0 0 923.4px,#fef6f2 0 925.1px,#fffaf7 0 928.3px,#fffcf9 0 930px,#fef8f5 0 931.4px,#fff8f5 0 933.1px,#fbf4f0 0 934.3px,#fdf6f3 0 935.5px,#fef8f5 0 937.3px,#fffcf9 0 939px,#fffbf9 0 940.8px,#fffcfa 0 942.5px,#fefbf9 0 944.4px,#fefaf8 0 945.8px,#fffcfa 0 948.2px,#fffcfb 0 950.9px,#fffdfb 0 952.3px,#fefcfb 0 953.4px,#fdfbfb 0 955.8px,#fffdfe 0 958px,#fefcff 0 960.3px,#fcfbff 0 962px,#faf8ff 0 963.9px,#e4e3eb 0 965.6px,#f7f6fe 0 967.8px,#fdfcff 0 969.5px,#fffeff 0 970.8px,#fefbfe 0 972.6px,#fffbfc 0 974.1px,#fcf7f9 0 975.5px,#f4eef1 0 977.3px,#ece6e9 0 979.1px,#fdf8fb 0 980.1px,#fffbfc 0 982.3px,#fffbfa 0 983.3px,#f7f0ee 0 985.2px,#faf2ef 0 986.4px,#fffaf8 0 988.1px,#fff7f6 0 989.8px,#eee4e3 0 991.3px,#f6ebea 0 993.1px,#fff9f7 0 995.2px,#efe2de 0 996.8px,#fff5f0 0 998px,#fff2ec 0 999.6px,#fff7f0 0 1001.7px,#f6e2da 0 1003.1px,#e2cdc6 0 1004.1px,#fff7f1 0 1005.6px,#fff3ee 0 1006.9px,#fceeeb 0 1008.5px,#f1e5e4 0 1009.6px,#fff8f9 0 1011.8px,#f5eff3 0 1013.8px,#fbf7fe 0 1014.8px,#e8e5ed 0 1016.9px,#fbf9ff 0 1018px,#f9f7fe 0 1018.9px,#fcfaff 0 1020.9px,#f8f6fe 0 1021.9px,#faf9ff 0 1023.7px,#dddbe5 0 1025.2px,#fcfbff 0 1026.5px,#fffdff 0 1027.9px,#fffcff 0 1029px,#e9e5ec 0 1030.2px,#f3eef5 0 1031.6px,#f2edf2 0 1033.1px,#fdf9fd 0 1034.3px,#fcf8fc 0 1035.3px,#fffcff 0 1036.4px,#fdfafe 0 1038.2px,#f0ecf1 0 1040.3px,#fcf8fd 0 1042.5px,#f5f0f6 0 1043.7px,#f3eef6 0 1045.2px,#fef8ff 0 1047.4px,#e5dfeb 0 1048.5px,#f1ebf8 0 1050.6px,#e7e2ef 0 1051.6px,#ede9f4 0 1053.1px,#fbf8ff 0 1054.5px,#faf7ff 0 1056.4px,#ebe8f0 0 1058.5px,#fffcff 0 1060.1px,#fcf9ff 0 1062.2px,#f7f3f9 0 1064.2px,#eee8ed 0 1066.2px,#fef5f8 0 1067.6px,#fff2f2 0 1068.6px,#e9dad7 0 1070.5px,#fbece9 0 1071.6px,#f8eae7 0 1073.1px,#f9edeb 0 1074.9px,#fff6f3 0 1075.9px,#fff6f4 0 1077.6px,#fff7f7 0 1079.7px,#f6eff2 0 1081.5px,#f8f3f9 0 1083.6px,#e7e3ed 0 1085.5px,#f5f3ff 0 1086.9px,#fdfaff 0 1088.4px,#e5e3f5 0 1090.1px,#e3e1f4 0 1091.6px,#dddbee 0 1093.7px,#fcfaff 0 1095.8px,#edeaf8 0 1097px,#f9f5ff 0 1098px,#efeaf1 0 1099.8px,#fbf4f8 0 1101.6px,#fcf4f8 0 1103.6px,#f1e8ee 0 1105.1px,#f0e9f3 0 1107.1px,#e9e3f2 0 1108.5px,#f5f1ff 0 1110.4px,#d9d6e8 0 1112.3px,#e9e7f7 0 1114.2px,#fcfaff 0 1115.9px,#f8f6ff 0 1117.5px,#fdfbff 0 1119.5px,#eeecf4 0 1121px,#f4f2f9 0 1122.5px,#f9f7fc 0 1123.6px,#fbf8fc 0 1124.7px,#fffcfe 0 1126.6px,#fcfafc 0 1128.4px,#f8f6fa 0 1129.6px,#f9f7fc 0 1130.9px,#fcfbff 0 1132.6px,#fefdff 0 1134px,#edebf8 0 1135.5px,#ebe9f7 0 1137px,#dedbe9 0 1138.5px,#fefbff 0 1139.7px,#fefaff 0 1141.1px,#f4f0f4 0 1143px,#f3eef0 0 1144.9px,#fffdfd 0 1147px,#fefafb 0 1148.8px,#fcf8fa 0 1150.9px,#fdfafd 0 1153px,#f6f4f8 0 1155.1px,#fbf9fe 0 1156.7px,#f2eff4 0 1158.6px,#fdf9fe 0 1160.4px,#fcf8fd 0 1161.9px,#f7f3f9 0 1163.2px,#f4eff7 0 1164.7px,#e9e4ed 0 1166.5px,#faf6ff 0 1168.4px,#fefaff 0 1169.7px,#e4dfe7 0 1170.9px,#fbf5fb 0 1172.4px,#f4ecf1 0 1173.8px,#f1e9ec 0 1175.2px,#faf3f8 0 1177.3px,#fbf5fe 0 1179.3px,#f3eefc 0 1180.3px,#f0edfe 0 1181.7px,#c6c3d6 0 1183px,#fcf9ff 0 1185.1px,#f7f3ff 0 1187.3px,#f8f3ff 0 1188.9px,#d4ceda 0 1190px,#f6f0fb 0 1191.1px,#fcf6ff 0 1192.6px,#f4f0fa 0 1194.3px)"></div>
<div class="hc" style="left:587px;width:120px;background:linear-gradient(#a39deb 0 1.2px,#bcb6ff 0 2.8px,#c1bbff 0 4.6px,#c4bfff 0 5.7px,#b7b2f4 0 6.9px,#aba6e9 0 9.1px,#c6c0ff 0 10.2px,#b6b1f3 0 11.4px,#c7c2ff 0 13.7px,#a6a1e3 0 15.5px,#c2bdfd 0 17px,#b5b0ef 0 18.7px,#ccc7ff 0 21.9px,#c7c2ff 0 23.1px,#a39ee3 0 25.1px,#a6a1e7 0 27px,#aba6e9 0 28.7px,#cdc8ff 0 30.8px,#cac5ff 0 32.5px,#c6c2fa 0 34.8px,#c4c0f6 0 36.1px,#c8c3f9 0 37.8px,#cac5fc 0 39.5px,#d3ceff 0 41px,#beb9f7 0 42.7px,#bab5f9 0 44.1px,#a09be3 0 46.1px,#aaa4ee 0 48.3px,#b8b2fa 0 49.5px,#aaa5e9 0 51.1px,#c1bcfc 0 52.5px,#d4cfff 0 53.6px,#c3bff8 0 55.8px,#c4bff7 0 57.3px,#c1bdf4 0 58.5px,#c6c2f7 0 60.4px,#c5c1f3 0 61.7px,#d4d0ff 0 63.9px,#d4d0fe 0 65.2px,#dbd7ff 0 66.2px,#cecaf8 0 67.5px,#c1bdec 0 69px,#cbc7f5 0 70.6px,#e3dfff 0 72.8px,#c7c2f3 0 74.7px,#d2cdff 0 76.2px,#cac5fc 0 77.2px,#b9b4f0 0 78.4px,#bcb6f5 0 80.8px,#b4afef 0 82.4px,#c1bcfb 0 84.3px,#b8b3ef 0 85.4px,#c3bef6 0 86.4px,#d7d2ff 0 88.5px,#c4c0f3 0 90.3px,#d8d4ff 0 91.7px,#c7c3f6 0 93.2px,#c8c4f8 0 94.3px,#b9b4e7 0 95.5px,#c5c1f1 0 96.6px,#ebe7ff 0 98.7px,#d4d0fb 0 100.3px,#d4d0fc 0 101.5px,#d0ccfc 0 103.5px,#d4d0ff 0 104.7px,#b2aee7 0 105.8px,#b0abe7 0 107.6px,#c5c0fb 0 109.8px,#d2cdff 0 110.8px,#c2bdf7 0 112.9px,#c5c0fa 0 114.2px,#bdb8f5 0 115.3px,#c5c0ff 0 116.3px,#bbb5f6 0 117.7px,#b1abee 0 119.7px,#c2bdff 0 121.3px,#aca6eb 0 123.5px,#b4aff3 0 124.8px,#c1bcfd 0 126.2px,#b7b2f2 0 127.5px,#ccc7ff 0 129.8px,#c1bcf9 0 132.1px,#bcb7f4 0 133.5px,#b8b3ef 0 135.1px,#c0bbf4 0 136.5px,#d4d0ff 0 138.5px,#d0ccff 0 139.6px,#bfbbef 0 140.7px,#c8c4f6 0 142.2px,#cfcbfc 0 143.6px,#ccc8f8 0 145.7px,#e1ddff 0 147.7px,#beb9eb 0 149.4px,#ccc8fc 0 151.3px,#cbc7fc 0 153.2px,#c0bbf2 0 155.2px,#b8b3e9 0 157.5px,#d7d2ff 0 158.7px,#d2cdff 0 160.5px,#ccc8f9 0 161.7px,#cfcbfc 0 163.3px,#ccc8fa 0 165.3px,#c6c2f6 0 167.5px,#d4d0ff 0 169.5px,#b0abe5 0 170.6px,#c7c2ff 0 172.1px,#b6b1ee 0 173.3px,#c1bcf9 0 175.6px,#c9c4ff 0 176.8px,#bab5ef 0 178.1px,#bdb9f1 0 179.6px,#cfcaff 0 180.7px,#d1cdfe 0 182.8px,#ccc8f6 0 184.7px,#cac6f1 0 185.9px,#e4e1ff 0 187.6px,#dad7ff 0 188.7px,#d5d1f9 0 190.5px,#c5c2e9 0 191.7px,#dedaff 0 193px,#e8e5ff 0 194.2px,#d0ccf6 0 196.3px,#d8d4ff 0 197.4px,#bdb8eb 0 199.5px,#cdc8ff 0 200.5px,#c9c4ff 0 202.5px,#a9a4e3 0 203.7px,#c5c0ff 0 205.4px,#b1acf0 0 206.6px,#b9b3f6 0 208.8px,#a9a4e4 0 209.9px,#cbc6ff 0 211.5px,#c8c4fa 0 213.3px,#c7c3f5 0 214.9px,#dedaff 0 216.1px,#dad6ff 0 217.5px,#c7c3f6 0 219.7px,#a39ed3 0 220.8px,#dad5ff 0 221.9px,#cecafc 0 224px,#c9c5f4 0 226.1px,#e1ddff 0 228px,#c7c3ef 0 229.6px,#cbc8f2 0 231.8px,#ddd9ff 0 233.3px,#dbd7fd 0 234.3px,#ccc9ec 0 235.9px,#e7e4ff 0 237.6px,#e2dfff 0 239.2px,#f0edff 0 241.4px,#cbc7ee 0 242.5px,#c8c4ef 0 244.5px,#d0ccf9 0 246.2px,#d1cdfb 0 248.1px,#d2cefd 0 249.6px,#d2ceff 0 251px,#cac5fa 0 252.4px,#c1bcf4 0 253.8px,#bcb7f1 0 255.4px,#c9c4fe 0 257.1px,#c1bdf6 0 259.2px,#b3aee5 0 260.4px,#cbc7fa 0 261.9px,#ebe7ff 0 263.6px,#dbd7ff 0 265.7px,#a39fd5 0 267.6px,#bcb8ef 0 269.3px,#d3cfff 0 271.2px,#c5c0f7 0 272.8px,#c8c3f9 0 274.8px,#c8c4f9 0 276.9px,#cac6fb 0 278.6px,#bfbaef 0 279.7px,#d9d5ff 0 281.2px,#b5b1e1 0 282.6px,#c9c5f1 0 283.8px,#eeeaff 0 285.2px,#e8e4ff 0 287.2px,#cdcaf5 0 288.7px,#cbc7f7 0 290.2px,#c1bdf0 0 291.7px,#bdb9ee 0 292.9px,#c5c0f4 0 294.6px,#e0dcff 0 296.2px,#c0bced 0 298.3px,#d5d1ff 0 300.1px,#cdc9f9 0 302.4px,#cfcbfb 0 304.5px,#c0bcec 0 306.1px,#d9d5ff 0 307.1px,#d3cffd 0 308.4px,#d7d3ff 0 309.5px,#c8c4f5 0 311.4px,#b0abdc 0 312.6px,#dad6ff 0 314.4px,#e2deff 0 315.8px,#c9c5f4 0 317.4px,#c6c2f2 0 319.4px,#d5d1ff 0 320.8px,#bcb8e7 0 322px,#dad6ff 0 323.3px,#d7d3ff 0 325.5px,#dbd7ff 0 327.2px,#dcd8ff 0 328.6px,#aca7da 0 329.8px,#cac6f8 0 330.8px,#bfbbea 0 332.3px,#e2deff 0 334px,#dcd9ff 0 335.6px,#dad7f9 0 337.6px,#d6d3f4 0 339.9px,#f9f6ff 0 341.6px,#d5d1f5 0 343.1px,#c3bfe5 0 345.1px,#e5e2ff 0 346.2px,#c0bde2 0 348.1px,#e7e4ff 0 350.3px,#dedafc 0 352.2px,#e7e3ff 0 353.4px,#dfdcff 0 355.1px,#d9d6ff 0 357.1px,#bcb9e6 0 358.6px,#c0bceb 0 360.7px,#dcd8ff 0 361.9px,#d7d3ff 0 363.6px,#d9d5ff 0 365.3px,#cdc9f9 0 367.3px,#bbb6e9 0 368.8px,#c9c5fa 0 370.1px,#cec9ff 0 372px,#cac5fb 0 373.2px,#bfbaef 0 374.6px,#b8b4e7 0 376.2px,#f6f2ff 0 378.2px,#bebaec 0 379.8px,#beb9ec 0 381.5px,#c5c1f4 0 383.3px,#ded9ff 0 385.2px,#bbb7e9 0 387.4px,#dbd7ff 0 389px,#d1cdff 0 390.7px,#b4b0e5 0 391.7px,#cdc9fe 0 393px,#beb9ed 0 394.3px,#d5d1ff 0 395.5px,#dedaff 0 397.2px,#c4c0f5 0 398.4px,#b7b2ea 0 400.2px,#c1bcf7 0 402.2px,#c8c3ff 0 403.3px,#cdc8ff 0 404.6px,#a09bdb 0 406.2px,#a8a3e2 0 407.3px,#d2cdff 0 408.4px,#cac5fc 0 410.2px,#cdc9fc 0 411.7px,#d1cdfd 0 413.8px,#cdc9f8 0 415.5px,#c9c5f1 0 417.5px,#d1cef7 0 418.9px,#e4e1ff 0 420.4px,#e3dfff 0 422.5px,#d6d2fd 0 424.3px,#c0bcea 0 426.4px,#d6d1ff 0 427.7px,#bbb7eb 0 428.9px,#c3bff3 0 430.7px,#ccc8f9 0 431.9px,#c8c4f1 0 433px,#e0dcff 0 434.5px,#e3e0ff 0 436.3px,#d9d5fd 0 437.8px,#cdc9f3 0 439.7px,#cdc9f4 0 442.7px,#e9e5ff 0 444.3px,#cdc9f9 0 446.1px,#c0bcee 0 447.3px,#b9b5e8 0 449px,#d8d4ff 0 450.2px,#c5c1ef 0 452.5px,#d5d1fc 0 454.2px,#dad6fd 0 455.4px,#ebe8ff 0 456.4px,#cac6ea 0 457.7px,#e0dcff 0 459.1px,#d9d6fa 0 460.8px,#dfdbff 0 462.7px,#e0dcff 0 464.6px,#cdc9f6 0 466.1px,#bdb9e9 0 467.9px,#d8d3ff 0 469.6px,#bab6eb 0 471px,#d5d1ff 0 472.3px,#c1bdf4 0 473.8px,#c0bcf3 0 475.6px,#bbb7eb 0 476.8px,#bfbbea 0 478.6px,#e8e5ff 0 479.6px,#eae7ff 0 480.9px,#d7d4f6 0 482.7px,#ece9ff 0 484.7px,#d0cdf3 0 486.7px,#ccc8f1 0 488.6px,#c7c3ed 0 489.9px,#dbd8ff 0 492.1px,#ddd9ff 0 493.9px,#e3e0ff 0 496.1px,#c4c0ea 0 498.3px,#cac7f0 0 499.6px,#c2bfe4 0 501.8px,#f2f0ff 0 502.9px,#f1eeff 0 504.7px,#edebff 0 506px,#dfdcf9 0 507.1px,#d5d2f1 0 508.8px,#d8d5f6 0 510.1px,#eae7ff 0 512.1px,#cbc8ed 0 513.7px,#e4e0ff 0 515px,#dad6ff 0 516px,#bcb8eb 0 517.9px,#b9b5ea 0 519.7px,#c6c2f8 0 521.7px,#d1cdff 0 523.2px,#bab6e5 0 525.4px,#dad6ff 0 526.4px,#e7e3ff 0 528.6px,#e7e4ff 0 530.5px,#c1bde7 0 531.7px,#b5b1dc 0 533.9px,#e7e3ff 0 535px,#e9e6ff 0 537px,#c9c6f0 0 538.3px,#cdc9f5 0 540.1px,#c8c4ef 0 542.2px,#cac6ef 0 543.3px,#eae7ff 0 544.8px,#d6d3f2 0 546.9px,#e5e2fe 0 548.5px,#fbf8ff 0 549.7px,#dedaf4 0 550.8px,#f1ebff 0 551.9px,#c0b7ce 0 553.1px,#ebdeef 0 554.5px,#e5d5de 0 555.8px,#fff2f4 0 557.3px,#fcece8 0 558.4px,#fceee9 0 559.9px,#faeee9 0 561.6px,#fff9f4 0 563.8px,#fff8f4 0 566px,#fff7f2 0 567.8px,#fff5ef 0 569.3px,#ecd7cf 0 571.2px,#eed7ce 0 573.4px,#fde7de 0 575.2px,#fff1e9 0 576.4px,#fff5ee 0 578.1px,#f5e1da 0 579.7px,#ffefe7 0 581.8px,#e8d1c9 0 583.6px,#ffede5 0 585.8px,#fce3da 0 586.9px,#f7ddd3 0 588.7px,#fff1e6 0 589.9px,#edcfc2 0 591.5px,#f5d7ca 0 593.5px,#fadccf 0 595.7px,#fff5e8 0 597px,#f9dbce 0 599px,#f5d6c9 0 600.2px,#ffe3d6 0 601.5px,#e9c9be 0 602.8px,#ffe1d8 0 605px,#ffe4db 0 606.1px,#fadfd6 0 608px,#e6cbc2 0 609.7px,#ffefe6 0 611.5px,#f9e4dd 0 612.6px,#ffefeb 0 614.1px,#f7eae9 0 615.8px,#f1e6e8 0 617.1px,#f7eef1 0 618.9px,#fbf2f4 0 620px,#fcf3f3 0 621.1px,#fcf3f2 0 622.9px,#f6eceb 0 624.1px,#f9f0ef 0 626.2px,#fffbfa 0 627.9px,#f5eceb 0 629.9px,#fcf0ee 0 632px,#fff6f1 0 633.8px,#f7e6df 0 636px,#f0ddd6 0 637.3px,#fff2ea 0 639px,#fff2eb 0 640.1px,#f3e3de 0 642px,#fff0ec 0 644px,#f8e9e5 0 646.1px,#faeae7 0 647.7px,#faeae5 0 649.8px,#fff0ea 0 651.3px,#f5e5dd 0 652.7px,#fff4ed 0 654.6px,#fff1eb 0 656.7px,#ebdcd8 0 657.8px,#fff6f3 0 659.4px,#fff2ef 0 660.9px,#fbeeeb 0 661.9px,#fff7f4 0 663px,#eddfdc 0 665px,#fcefed 0 667.2px,#f9ebeb 0 668.8px,#fff4f3 0 670.1px,#feebe8 0 672.3px,#e7d0ca 0 673.8px,#ffe8df 0 674.9px,#f5dad0 0 676.9px,#f7ded4 0 678.7px,#fee9e0 0 680.6px,#fff8f1 0 682px,#f3e5e1 0 683.3px,#fff5f2 0 684.6px,#fff9f9 0 686.3px,#f2e8e9 0 687.7px,#f0e7e8 0 689.6px,#fff6f7 0 691.7px,#fff7f8 0 693.7px,#f5ebec 0 694.7px,#f3e8e7 0 696.5px,#fff7f4 0 697.5px,#f8ece8 0 698.9px,#fdf1ed 0 700.2px,#fffbf9 0 701.9px,#f1e7e7 0 702.9px,#f5ebed 0 704.1px,#f4eaec 0 706.3px,#fff7f7 0 707.3px,#f6e9e7 0 708.7px,#f5e7e2 0 710.3px,#fff4ee 0 711.4px,#fff3ec 0 712.7px,#f7e9e3 0 714.5px,#f9eee8 0 715.8px,#fffaf5 0 717.5px,#fff8f4 0 719.7px,#fffbf7 0 720.8px,#fff7f3 0 722.6px,#f0e6e1 0 723.6px,#fdf2ed 0 725px,#fffaf6 0 726.9px,#fbf3f0 0 729.1px,#fffbfa 0 730.6px,#f7f0f1 0 732.4px,#f9f1f2 0 733.9px,#fff4f4 0 735.1px,#fff0ee 0 736.1px,#f4ddd7 0 737.8px,#f0d5cb 0 739.9px,#f0d5ca 0 741.2px,#fde4da 0 743.1px,#ffeee5 0 744.8px,#fff7f0 0 746.2px,#f9ebe4 0 748px,#fff0e9 0 749px,#fff6ef 0 750.3px,#f2ded6 0 751.8px,#f4e0d8 0 753.5px,#fae7df 0 754.6px,#fff2eb 0 755.6px,#fff9f5 0 757.7px,#fef6f3 0 759.3px,#faf2f2 0 761.4px,#f9f3f3 0 763.7px,#fffbfc 0 764.8px,#f9f3f5 0 766.3px,#f0e9ec 0 768.5px,#f8f2f5 0 769.5px,#f1ebef 0 771.7px,#f3edf0 0 773.9px,#f1ebee 0 775.8px,#f1eaec 0 777.2px,#e8e1e3 0 779.1px,#f0e8ec 0 780.1px,#e7e0e4 0 781.5px,#f1ecf1 0 782.5px,#f3eff4 0 784px,#eeeaf1 0 785.8px,#f0ecf5 0 786.8px,#efebf4 0 788.5px,#ece7f3 0 790.3px,#f3eefc 0 791.6px,#f0ebfc 0 793.2px,#ebe7fc 0 794.4px,#d3d0e7 0 795.5px,#dddaf1 0 796.9px,#f8f6ff 0 798px,#edebfd 0 799.2px,#f6f4ff 0 800.8px,#e3e1f2 0 801.9px,#f8f7ff 0 804.2px,#efedff 0 806.4px,#e0def4 0 808.5px,#d2d0e5 0 809.9px,#f6f4ff 0 811.7px,#f4f2ff 0 813px,#f0eefb 0 815.4px,#fcf9ff 0 817.4px,#e3e0e9 0 819px,#f9f5fc 0 820.6px,#fcf9ff 0 822.2px,#fffcff 0 824.4px,#fdfaff 0 826.3px,#e6e4f0 0 827.5px,#e6e4f2 0 828.6px,#f6f3ff 0 830.7px,#eae7f3 0 832.2px,#faf6ff 0 833.8px,#fbf7ff 0 835.7px,#faf6ff 0 837.1px,#e1ddec 0 839.1px,#f9f5ff 0 841.1px,#dcd9f0 0 842.3px,#d3d0e9 0 844.1px,#e1def5 0 846.4px,#f9f7ff 0 848.3px,#f0edfa 0 849.7px,#f2eff7 0 851.1px,#fdf9fd 0 853.3px,#fdf7f9 0 855.3px,#faf4f5 0 856.7px,#fdf8fa 0 858.5px,#fcf8fe 0 860px,#faf7ff 0 862.1px,#e2e0ef 0 863.2px,#f1efff 0 864.3px,#d7d4e9 0 866.7px,#eeecff 0 868px,#f4f2ff 0 869.4px,#e6e4f6 0 871.6px,#e3e1f2 0 873.8px,#fdfaff 0 875.6px,#f1eef9 0 876.9px,#f1eef6 0 878.3px,#f4f0f6 0 879.6px,#f8f4fa 0 880.6px,#fffcff 0 881.7px,#f9f7fc 0 883.3px,#f8f6fc 0 885.1px,#fdfbff 0 886.4px,#f1f0f9 0 887.4px,#fbf9ff 0 888.7px,#e6e3f4 0 889.9px,#e7e5fa 0 891.1px,#f1efff 0 892.4px,#dbd8f4 0 893.8px,#c6c3de 0 895px,#eae7ff 0 896.2px,#fcf9ff 0 897.3px,#e3e0f1 0 899px,#f9f6ff 0 900.1px,#f5f2ff 0 902px,#e0ddf0 0 904.3px,#efecff 0 905.6px,#d0cde1 0 906.9px,#f7f4ff 0 909px,#f0edfe 0 910.7px,#f9f6ff 0 911.8px,#efecfe 0 914.1px,#d8d4e6 0 915.2px,#e6e2f2 0 917px,#f9f4ff 0 918.3px,#f8f3ff 0 920.4px,#e9e4f6 0 921.6px,#e2def3 0 923.4px,#ebe8ff 0 925.1px,#d6d3ef 0 926.7px,#eeecff 0 928.3px,#d2d0ec 0 930px,#dedbf6 0 931.4px,#efedff 0 933.1px,#e8e6fd 0 934.3px,#e5e2f8 0 935.5px,#ece9fe 0 937.3px,#e6e4f8 0 939px,#eeecff 0 940.8px,#f6f4ff 0 942.5px,#e5e2f9 0 944.4px,#cecce4 0 945.8px,#f0eeff 0 948.2px,#dfddf1 0 949.6px,#faf9ff 0 950.9px,#fbf9ff 0 952.3px,#ebe8fc 0 953.4px,#f4f0ff 0 955.8px,#d1c9e2 0 958px,#d3c4da 0 960.3px,#f8dfec 0 962px,#f3cfd0 0 963.9px,#efbfb5 0 965.6px,#fcc3b1 0 967.8px,#f1b49e 0 969.5px,#ecae97 0 970.8px,#ffc6b1 0 972.6px,#f8c1ad 0 974.1px,#ffddca 0 975.5px,#eebdaa 0 977.3px,#ffd6c3 0 979.1px,#fdcab6 0 980.1px,#f6c1ad 0 982.3px,#ffd2bd 0 983.3px,#e6ae98 0 985.2px,#ffc9b4 0 986.4px,#f9c1ac 0 988.1px,#ffc9b4 0 989.8px,#f0bca8 0 991.3px,#ffd0bd 0 993.1px,#f7c9b7 0 995.2px,#ffe6d4 0 996.8px,#f7c9b7 0 998px,#f1c2b0 0 999.6px,#ffd0bd 0 1001.7px,#feceba 0 1003.1px,#ffcfbb 0 1004.1px,#ffccb7 0 1005.6px,#f9c0ab 0 1006.9px,#fcbfa9 0 1008.5px,#f8b8a0 0 1009.6px,#f1b099 0 1011.8px,#f6b8a1 0 1013.8px,#fcc2ac 0 1014.8px,#ffceb9 0 1016.9px,#ffd5c2 0 1018px,#efc1ae 0 1018.9px,#ffd8c5 0 1020.9px,#ffd3c1 0 1021.9px,#f3c7b5 0 1023.7px,#ffd7c5 0 1025.2px,#facebc 0 1026.5px,#ffd9c7 0 1027.9px,#ffd1bf 0 1029px,#dcad9b 0 1030.2px,#ffe1d0 0 1031.6px,#facfbe 0 1033.1px,#ffdac9 0 1034.3px,#ffd6c5 0 1035.3px,#ffd6c4 0 1036.4px,#f2c4b1 0 1038.2px,#fdcdb9 0 1040.3px,#fac9b6 0 1042.5px,#efbfad 0 1043.7px,#ffd6c4 0 1045.2px,#ffe1cf 0 1047.4px,#ffd0bd 0 1048.5px,#eeb7a2 0 1050.6px,#fabea8 0 1051.6px,#f4b7a0 0 1053.1px,#f6baa4 0 1054.5px,#fdc3ae 0 1056.4px,#ffd2bc 0 1058.5px,#fcc6b1 0 1060.1px,#f2bda8 0 1062.2px,#fac6b1 0 1064.2px,#ffd1bd 0 1066.2px,#fccab7 0 1067.6px,#ffd0bd 0 1068.6px,#f5c4b1 0 1070.5px,#ffd2bf 0 1071.6px,#f2c4b1 0 1073.1px,#f9cebc 0 1074.9px,#f9d3c2 0 1075.9px,#ffe3d4 0 1077.6px,#ffe9da 0 1079.7px,#fbd8c9 0 1081.5px,#fad5c6 0 1083.6px,#ecc7b7 0 1085.5px,#ffdccd 0 1086.9px,#ffe0d1 0 1088.4px,#f1d1c3 0 1090.1px,#ffeadd 0 1091.6px,#f5d9cd 0 1093.7px,#fee4d8 0 1095.8px,#ffefe3 0 1097px,#fee3d6 0 1098px,#fcdfd1 0 1099.8px,#f5d5c6 0 1101.6px,#fbd8c9 0 1103.6px,#ffe2d2 0 1105.1px,#fcd5c4 0 1107.1px,#f7ccbb 0 1108.5px,#fcd0bd 0 1110.4px,#efc3b1 0 1112.3px,#fad0bf 0 1114.2px,#ffe0d0 0 1115.9px,#fedacb 0 1117.5px,#ffe1d1 0 1119.5px,#ffdccd 0 1121px,#f9d3c3 0 1122.5px,#f0c9b9 0 1123.6px,#fad5c5 0 1124.7px,#ffe0d0 0 1126.6px,#ffe1d2 0 1128.4px,#ffe4d4 0 1129.6px,#ecc6b6 0 1130.9px,#ffd9c8 0 1132.6px,#ffdac9 0 1134px,#eec5b4 0 1135.5px,#ffdac9 0 1137px,#fed6c6 0 1138.5px,#f6cfbf 0 1139.7px,#ffe3d3 0 1141.1px,#ffe0d0 0 1143px,#dcb4a4 0 1144.9px,#f8d1c2 0 1147px,#ffeadb 0 1148.8px,#ffe2d4 0 1150.9px,#fcd9c9 0 1153px,#f9d3c2 0 1155.1px,#f8cfbd 0 1156.7px,#fed3c1 0 1158.6px,#f8cebc 0 1160.4px,#f2cab9 0 1161.9px,#fed9ca 0 1163.2px,#ffe3d4 0 1164.7px,#ffe1d2 0 1166.5px,#ffe9da 0 1168.4px,#f0c8b8 0 1169.7px,#f9cdbb 0 1170.9px,#fdcfbc 0 1172.4px,#fbcbb8 0 1173.8px,#f0c2af 0 1175.2px,#f7cdbc 0 1177.3px,#ffe1d1 0 1179.3px,#f8d6c8 0 1180.3px,#ffefe1 0 1181.7px,#ffddce 0 1183px,#f3cdbd 0 1185.1px,#f6cdbc 0 1187.3px,#ffd4c3 0 1190px,#f5cbb9 0 1191.1px,#f8d0bf 0 1192.6px,#ffdbcb 0 1194.3px)"></div>
<div class="hc" style="left:757px;width:119px;background:linear-gradient(#fac0aa 0 2.1px,#fdc5b0 0 3.4px,#fbc6b1 0 4.8px,#fdc9b5 0 6.6px,#fccab6 0 8px,#fdccb8 0 9.5px,#ffceba 0 10.7px,#fccbb7 0 12px,#fbcab6 0 13.4px,#f8c7b3 0 15.5px,#fccbb7 0 16.8px,#ffd0bd 0 17.8px,#f9cbb7 0 20px,#fccebb 0 21.3px,#fdd0bd 0 22.8px,#fccfbd 0 24.3px,#fdd0be 0 28.2px,#fbcebc 0 29.9px,#facdbb 0 32px,#fed1be 0 33.3px,#fbcebc 0 35px,#fcd1be 0 36.7px,#fdd1bf 0 38px,#fdd3c1 0 40.2px,#fcd2c0 0 41.3px,#fbd1c0 0 42.9px,#fdd3c1 0 46.8px,#fcd3c1 0 50.2px,#fad2c1 0 51.5px,#fed6c5 0 53.2px,#fcd5c5 0 54.8px,#fdd7c6 0 57px,#fdd7c7 0 58.1px,#fdd6c6 0 61.9px,#fbd4c3 0 64.5px,#fcd5c4 0 65.8px,#fcd6c6 0 67.2px,#fed8c8 0 69.3px,#ffdaca 0 71.2px,#fbd5c5 0 74.4px,#fed9c9 0 75.6px,#fbd6c6 0 76.8px,#fcd8c8 0 78px,#fbd7c8 0 79.6px,#fddacb 0 81.2px,#ffdecf 0 82.4px,#fddbcc 0 83.5px,#f9d7c9 0 84.8px,#feddce 0 86.5px,#fcdbcc 0 88.5px,#fddcce 0 90.2px,#fedecf 0 91.6px,#feded0 0 93.1px,#f9d9ca 0 95.1px,#feded0 0 96.8px,#fddfd1 0 98.6px,#fee0d2 0 99.9px,#fbded0 0 101.2px,#fcdfd2 0 102.6px,#fee1d4 0 103.8px,#fee2d5 0 106.1px,#fce0d3 0 107.5px,#fee2d5 0 109.6px,#fbdfd2 0 110.7px,#fde2d5 0 111.8px,#fbe1d4 0 113.9px,#fde4d7 0 116.1px,#ffe6da 0 118px,#fee5d9 0 119.8px,#fce3d7 0 121px,#fbe2d6 0 122.8px,#fde5d9 0 124.1px,#fee7db 0 125.8px,#fde5da 0 127.8px,#fbe5da 0 129px,#fde7dc 0 130.8px,#fde8de 0 132.7px,#fdeae0 0 134.1px,#fdebe1 0 135.5px,#ffede4 0 137.2px,#fcebe3 0 139.1px,#ffefe7 0 141.3px,#feede5 0 143.2px,#feeee6 0 144.5px,#fcece3 0 146.5px,#fdece4 0 147.5px,#fbeae2 0 148.7px,#fff0e8 0 150.4px,#fdede5 0 152.5px,#fff1e9 0 153.6px,#fcede6 0 155px,#feefe8 0 156.2px,#fdefe8 0 157.4px,#fef1ea 0 158.8px,#fef2ec 0 160.8px,#fcf0ea 0 162.7px,#fff5ef 0 166.3px,#fef2ed 0 168.3px,#faefea 0 170.1px,#fcf2ed 0 171.5px,#fef5f0 0 172.7px,#fff7f4 0 174.9px,#fffbf8 0 176.1px,#fffbf9 0 178.3px,#fefaf8 0 179.7px,#fdf9f8 0 180.8px,#fffcfc 0 182.2px,#fffefd 0 183.4px,#fffeff 0 187.5px,#fffdfd 0 189.1px,#fcf7f7 0 190.5px,#fffaf8 0 191.7px,#fdefec 0 193.1px,#f1dfda 0 194.7px,#ffeae4 0 196.8px,#f2d9d2 0 197.9px,#e6cec6 0 199.3px,#fff6ee 0 200.6px,#fff5ec 0 202.5px,#f6e2d9 0 203.8px,#ffeee5 0 205.3px,#efdbd1 0 206.8px,#ffede3 0 208.5px,#fff5ec 0 209.6px,#ffece2 0 211.4px,#f2d8cc 0 213.2px,#f7dacd 0 214.5px,#ffe7da 0 216.7px,#f5d7ca 0 218.6px,#f2d7cb 0 219.8px,#f9e2d8 0 221.1px,#fff6ee 0 222.2px,#fff4ec 0 223.7px,#fff1ea 0 224.7px,#f3e0d8 0 226.5px,#f3dfd6 0 228.7px,#fff7ee 0 230.9px,#f3e0d7 0 232.1px,#fff8ef 0 233.6px,#f0ddd5 0 235.4px,#fff1e9 0 237px,#fff2ea 0 238.6px,#f5e2d9 0 239.7px,#fff4ea 0 241.3px,#fde8df 0 243px,#ead6cc 0 244.6px,#fae8df 0 246.8px,#fffaf3 0 250.1px,#fff0e9 0 251.9px,#f0dfd8 0 252.9px,#f0e1da 0 254.6px,#fff6f1 0 256.3px,#fffaf5 0 258.3px,#fffbf6 0 259.8px,#fff1ea 0 261.7px,#f6e4db 0 263.2px,#fce6dc 0 264.3px,#fbe2d7 0 265.7px,#ffe7db 0 267.9px,#ffe3d6 0 269.5px,#f1d4c7 0 271.3px,#f5d9cc 0 272.3px,#ffeee2 0 274.3px,#ffece2 0 276px,#f0dbd1 0 277.4px,#ffebe3 0 279.4px,#fff4ec 0 281.3px,#f7e8e2 0 282.2px,#fff7f1 0 283.7px,#faece5 0 285.4px,#fff9f1 0 286.6px,#fde9e1 0 288.5px,#e3cec5 0 289.6px,#fbe8e1 0 291.4px,#fff6f1 0 293.4px,#fff5f2 0 295px,#f8f0ef 0 296.1px,#fffcfc 0 297.8px,#f9f4f4 0 299.6px,#fffafa 0 301.1px,#fcf5f4 0 303.1px,#fffbf8 0 305.3px,#fbf0ec 0 306.9px,#f8ebe6 0 308.8px,#fff7f1 0 311px,#ecded9 0 313.2px,#fff8f3 0 314.3px,#fff8f2 0 316.1px,#e9dbd6 0 317.8px,#fef1ed 0 319px,#fff8f5 0 320.9px,#fef4f3 0 322.2px,#f2ebec 0 323.2px,#fef9fd 0 325.2px,#f8f3fc 0 327px,#e8e5ef 0 328.1px,#f0edf7 0 329.4px,#fdf8ff 0 330.7px,#f8f1f5 0 332.2px,#fff8f7 0 333.2px,#f1e2dd 0 334.4px,#ffefe8 0 336.6px,#e9d6ce 0 338.5px,#fff8f1 0 340.5px,#fff0e9 0 342.6px,#fff3ee 0 344.1px,#f7ebe7 0 345.6px,#fbeeeb 0 347.4px,#fdf0ed 0 348.5px,#f1e5e2 0 350.1px,#fff5f5 0 352.1px,#fff8fc 0 353.6px,#fffaff 0 354.7px,#d7d2db 0 355.8px,#faf5fc 0 357.7px,#fffafe 0 359.9px,#f2e8e8 0 361.3px,#fff4f1 0 363.1px,#fff6f1 0 365.3px,#efdcd5 0 367.2px,#f8e2db 0 368.2px,#ffece4 0 369.3px,#f5d9d0 0 371px,#ffe6dc 0 372.7px,#e0c1b7 0 374.4px,#fbe0d7 0 375.4px,#ffe8e2 0 376.9px,#f6e4df 0 378.5px,#fff1ec 0 379.8px,#fff8f3 0 381.4px,#fdf1eb 0 383px,#f7ece7 0 384.5px,#fff5f0 0 385.7px,#fff9f5 0 387.8px,#f9eeeb 0 389.9px,#fdf1ee 0 391.4px,#fdefeb 0 392.8px,#fae9e4 0 394.7px,#fff0e8 0 396.6px,#eed9d1 0 398.6px,#f3dfd7 0 399.7px,#fff4ee 0 401.1px,#fcefeb 0 403.1px,#faf0ef 0 404.7px,#fbf3f3 0 406.1px,#fcf3f3 0 407.9px,#fffbf8 0 409.7px,#fbefea 0 410.9px,#f7e8e2 0 412.1px,#f8e9e1 0 413.2px,#fdefe8 0 414.3px,#faefe9 0 415.5px,#fffcf8 0 417.1px,#fffaf8 0 418.2px,#fffcfc 0 419.3px,#faf4f6 0 421.5px,#f2ebed 0 422.8px,#fdf5f7 0 424.2px,#f1e8e8 0 425.2px,#fff9f7 0 426.7px,#fff6f4 0 428.5px,#f4ebe8 0 430.4px,#f9f0ee 0 432.4px,#fffcfb 0 434.4px,#fffdfe 0 435.4px,#f3f0f2 0 436.5px,#fffdfe 0 438px,#fffbfb 0 439.8px,#fff9f7 0 442px,#eee1dd 0 444.2px,#fff5ef 0 446.3px,#fff2ed 0 448.3px,#f2e4e2 0 449.9px,#f8eced 0 451px,#e9e0e4 0 453.1px,#fffaff 0 454.1px,#f9f2f8 0 455.9px,#f7eef1 0 457.8px,#f9eeef 0 459.4px,#ede1e2 0 461.1px,#fbf0f1 0 463px,#eae1e4 0 464.3px,#fffafd 0 466.4px,#fffcfc 0 468.2px,#fffaf8 0 470px,#eee2dd 0 472.2px,#fbeee9 0 474.1px,#faeeea 0 476.1px,#fffaf7 0 477.5px,#faf3f2 0 478.7px,#fffafd 0 479.7px,#f1eef3 0 481.8px,#fdfbff 0 483.9px,#f9f7ff 0 485.5px,#ebe9f3 0 487.6px,#eae6ef 0 488.9px,#fcf6fc 0 491.1px,#fff9fc 0 492.7px,#e7dddd 0 494.2px,#fff8f6 0 495.3px,#fff9f7 0 496.4px,#fef4f1 0 498.4px,#f6ebe8 0 499.6px,#fff3f0 0 500.7px,#fff8f5 0 501.8px,#efe0de 0 504px,#efe0e0 0 505.9px,#f6ebed 0 507.2px,#efe6eb 0 508.7px,#fffbff 0 510.1px,#fef8fc 0 512.1px,#f5f0f2 0 514.2px,#fef9fc 0 515.4px,#f9f6fa 0 516.5px,#f1eef4 0 517.8px,#fffcff 0 519.9px,#f3eff6 0 521.2px,#f8f1f6 0 522.7px,#fff5f7 0 524.5px,#efe2e1 0 526.6px,#faecea 0 527.8px,#f8ebe9 0 529.1px,#f1e4e4 0 530.9px,#faeeee 0 533px,#fff7f5 0 534.8px,#faedea 0 536.2px,#f4e7e3 0 538.2px,#fcf0ec 0 540.2px,#fff8f4 0 541.4px,#fff7f3 0 542.9px,#f5e8e4 0 544px,#eee2df 0 545.6px,#fffbf9 0 547.3px,#fdf4f4 0 549px,#fffaf9 0 551.1px,#fff4f1 0 552.5px,#ffebe4 0 554.5px,#f2d8cd 0 556.6px,#efcfc2 0 557.9px,#ffe0d1 0 561.2px,#f2cfc0 0 563px,#ffe0d0 0 564.4px,#fad6c7 0 565.7px,#ffdccc 0 566.9px,#fcd7c7 0 568.3px,#f1ccbc 0 570.1px,#ffe4d4 0 571.9px,#fed8c8 0 573.4px,#f7d1c0 0 575.2px,#f8d1c0 0 576.6px,#fed7c6 0 578.4px,#ffdfce 0 579.5px,#f2c9b8 0 580.6px,#ffd6c5 0 581.5px,#efc6b5 0 583.3px,#ffdccb 0 585.4px,#ffd9c9 0 587.4px,#f6d1c2 0 589.1px,#ffe2d3 0 591.2px,#ffdccd 0 592.6px,#f8d3c3 0 594px,#ffddcd 0 595.3px,#f2cbba 0 596.8px,#ffd8c7 0 598.5px,#f8d1c0 0 600.3px,#fbd6c6 0 601.6px,#fad8c9 0 603.7px,#f4d6c9 0 605.6px,#ffebe0 0 606.6px,#fff2e8 0 608.3px,#fff7ed 0 610.4px,#e6cdc2 0 611.5px,#ffe4d9 0 613.5px,#f7dbcf 0 614.6px,#ffe5d9 0 616.2px,#ffe9dd 0 617.6px,#ffebe0 0 618.9px,#ebd2c6 0 620.8px,#ffece1 0 622.8px,#ffede2 0 623.9px,#f6ddd1 0 626.1px,#fce2d6 0 627.2px,#fde0d3 0 628.9px,#ffeadd 0 630.1px,#f8d6c7 0 632.1px,#ecc9ba 0 633.2px,#ffe2d3 0 635.1px,#f0cfc1 0 636.9px,#ffe6d9 0 638.1px,#ffe6da 0 641.9px,#ffe8dd 0 644.1px,#f2dacf 0 645.4px,#ffeee3 0 647.3px,#fce5da 0 649.4px,#ffede2 0 651.4px,#f2dbd0 0 652.9px,#fff2e7 0 654.6px,#f9e0d4 0 656.4px,#ffe7db 0 657.4px,#f4d9cd 0 659.1px,#ffe7db 0 660.9px,#edd3c8 0 662.2px,#ffece2 0 664.4px,#fff2ea 0 665.9px,#feefe9 0 667.5px,#fff3ed 0 668.7px,#fff8f3 0 669.6px,#f5eae4 0 670.8px,#fff9f4 0 672.2px,#fbefe9 0 673.5px,#fff2eb 0 675.6px,#feefe8 0 677.3px,#ffefe7 0 678.8px,#fdebe2 0 680.6px,#ffede4 0 682px,#fae5da 0 683.7px,#f3dcd2 0 685.5px,#ffede3 0 687.7px,#fee7dc 0 689.7px,#f9e3d8 0 691.4px,#fee9df 0 692.5px,#fff0e6 0 693.8px,#efdcd3 0 695.7px,#fff7ef 0 697.7px,#fff0e9 0 698.7px,#fbebe4 0 699.8px,#fff4ec 0 701.2px,#f9e9e1 0 705.4px,#feefe8 0 706.5px,#fff5ee 0 708.1px,#faf0eb 0 710.1px,#fff6f3 0 711.7px,#fffaf7 0 713.7px,#fdf5f3 0 715.9px,#fcf3f1 0 717.2px,#f2e9e6 0 719.4px,#fffaf7 0 720.9px,#fffbf8 0 722.2px,#f4ece9 0 723.6px,#fffbf8 0 725.7px,#fff9f6 0 727.9px,#fdf6f4 0 730.1px,#fff9f6 0 731.2px,#f9f3f0 0 733px,#fff9f6 0 735px,#fef6f3 0 736.1px,#fffbf7 0 738.1px,#f5ece8 0 740.2px,#fcf3ee 0 741.3px,#fffcf8 0 742.4px,#f7f0ed 0 743.6px,#fcf6f5 0 745.1px,#fdf8f8 0 747px,#fffcfd 0 748.9px,#f6f2f4 0 749.9px,#fffbfb 0 751.1px,#fffbfa 0 753px,#f3eae8 0 754.6px,#fffaf7 0 756.2px,#f9f1ef 0 757.3px,#fcf5f4 0 759.2px,#f5f0f0 0 761px,#fffcfc 0 762.3px,#fff9f8 0 763.3px,#fffaf8 0 765px,#fef5f2 0 767px,#efe6e2 0 768.2px,#fff7f4 0 770.2px,#fff9f7 0 771.8px,#fffbf9 0 773.2px,#fffaf8 0 775px,#efe5e2 0 776.7px,#fffaf7 0 778.3px,#f1e7e6 0 779.2px,#f9f1f2 0 780.5px,#fcf7f9 0 782.2px,#fffcff 0 783.8px,#faf7fb 0 785.5px,#fdfbff 0 786.8px,#fefcff 0 788.4px,#f4f2f7 0 789.6px,#fefcff 0 790.6px,#f4f3fa 0 791.9px,#f1f0f8 0 793.4px,#f9f8ff 0 795.5px,#faf9ff 0 796.5px,#f6f5ff 0 798.2px,#eeedf9 0 800.4px,#e4e2ef 0 802.1px,#fcf9ff 0 804.1px,#f0edf5 0 805.5px,#f7f4f9 0 807.5px,#fefbfe 0 809.1px,#fffcff 0 811.2px,#fdf9fe 0 812.6px,#f7f4fb 0 813.8px,#e5e2eb 0 815.6px,#f6f3fd 0 817px,#fbf8ff 0 818px,#f1edf6 0 819.1px,#faf2f8 0 820.7px,#f8ecee 0 822.8px,#ecdbd9 0 824px,#fae6e1 0 825.9px,#fff0e9 0 826.8px,#f0dcd5 0 828.3px,#f5e5e2 0 830.3px,#fff8fb 0 832.1px,#faf2fc 0 833.5px,#e0dbe9 0 835px,#e7e3f3 0 836.9px,#efecfa 0 837.9px,#f2eef9 0 840px,#faf5fd 0 842.1px,#fbf7fc 0 844.2px,#f6f1f7 0 845.3px,#f7f3fb 0 846.6px,#f5f2fd 0 848.2px,#e5e3f1 0 850.4px,#fbf9ff 0 852.2px,#dcdaeb 0 854.3px,#f1efff 0 856.5px,#faf8ff 0 858.7px,#dfddf0 0 859.7px,#f0eeff 0 861.3px,#e4e2f4 0 863.1px,#eeeafa 0 865.1px,#eae4f0 0 866.7px,#fff8ff 0 868.1px,#ede3eb 0 869.5px,#f9f0fa 0 870.6px,#f8f1fe 0 872.9px,#c8c3d4 0 875px,#eeebfd 0 876px,#f9f6ff 0 877.2px,#e8e6f2 0 879.1px,#fcfaff 0 880.9px,#fffdff 0 882px,#fefcfe 0 883.5px,#fffeff 0 884.6px,#fcf9fc 0 886px,#fdfafe 0 888.1px,#eeebf1 0 889.8px,#fdf9ff 0 891.7px,#ece7ec 0 893.4px,#fef7fa 0 895.2px,#f3ebeb 0 896.5px,#faf2f1 0 898.3px,#fffaf8 0 899.7px,#fffbf9 0 901px,#fffaf8 0 902.6px,#fff4f0 0 903.7px,#e4d6d2 0 905.2px,#fff2ed 0 907.2px,#fff8f4 0 908.7px,#fff9f6 0 909.9px,#f6eeeb 0 910.9px,#fffbf9 0 912.8px,#fbf3f3 0 913.9px,#faf3f5 0 915px,#ede8eb 0 917.2px,#fcf8fc 0 919.4px,#fffcff 0 921.6px,#fbf7fb 0 923.6px,#fffafe 0 925.3px,#f2ebee 0 926.4px,#fff6f7 0 927.7px,#ece1e1 0 929.6px,#fff6f6 0 930.8px,#fbf1f2 0 932.9px,#eee5e7 0 934.7px,#f8f0f2 0 935.9px,#fef8f9 0 937.6px,#fcf6f7 0 939.3px,#fffcfe 0 941.3px,#f8f3f7 0 943.2px,#fdf9ff 0 944.5px,#eeeaf5 0 945.8px,#e3e0ed 0 947px,#f4f0fe 0 948px,#e8e4ef 0 949.7px,#fffaff 0 951.7px,#f3ecf1 0 952.7px,#f7f0f2 0 954.5px,#faf3f6 0 956.6px,#fcf7fa 0 958.6px,#f8f4fa 0 960.5px,#faf7ff 0 962px,#e9e7f2 0 963.2px,#f8f6ff 0 964.4px,#e7e5f1 0 965.9px,#fcfaff 0 967.2px,#efedf7 0 969.2px,#f5f2fb 0 971.1px,#f8f4fd 0 972.1px,#f7f3fc 0 973.1px,#f0ecf6 0 974.8px,#faf6ff 0 975.8px,#ded9e3 0 977.6px,#fffaff 0 978.6px,#f4eef4 0 979.8px,#f5eff4 0 981.3px,#f7f1f7 0 982.8px,#ede9f1 0 984.1px,#faf6ff 0 985.7px,#fdfaff 0 987.9px,#ece8f7 0 989.8px,#dad5e6 0 991.8px,#f1ebfb 0 993.7px,#dad5e3 0 995.7px,#fdf9ff 0 997.7px,#fefbff 0 999.1px,#f9f5fb 0 1000.1px,#f8f4f9 0 1001.7px,#f3eff4 0 1003.6px,#f9f6fc 0 1005px,#fbf8ff 0 1006.9px,#fdfaff 0 1008.2px,#e6e2ed 0 1010.3px,#f5f0fd 0 1012.3px,#f2edfc 0 1013.8px,#ddd8e9 0 1015px,#f4f0ff 0 1016.5px,#e0dcf0 0 1017.8px,#dfdbed 0 1019.7px,#f7f4ff 0 1021.6px,#f4f1fe 0 1023.1px,#f5f3fe 0 1024.6px,#f3f1fb 0 1026.2px,#f6f5ff 0 1027.8px,#f7f6ff 0 1029.3px,#f0eefe 0 1031px,#f1efff 0 1032.9px,#d0cee3 0 1035.2px,#e7e4fa 0 1036.8px,#f6f4ff 0 1039px,#f1efff 0 1040.3px,#e3e1f0 0 1041.5px,#f3f0fd 0 1043.5px,#f7f4ff 0 1044.6px,#f7f4fe 0 1046.8px,#f0edf9 0 1049px,#f9f6ff 0 1050px,#e9e6fb 0 1051.7px,#ebe8ff 0 1052.8px,#cac8e5 0 1054.1px,#d1cfed 0 1055.6px,#f9f7ff 0 1057.4px,#d0cee6 0 1059.4px,#f0eeff 0 1060.7px,#f2f0ff 0 1061.7px,#f1f0fe 0 1063.8px,#f7f5ff 0 1065.5px,#f5f3ff 0 1066.5px,#f8f7ff 0 1067.8px,#e8e6f5 0 1069px,#f2f0ff 0 1071px,#e5e3f8 0 1072.5px,#ece9ff 0 1074.7px,#dedbf5 0 1076.3px,#dcd8f2 0 1078.5px,#dcd7ee 0 1080.3px,#efe9fb 0 1081.7px,#f7f1fe 0 1083.2px,#faf4ff 0 1084.6px,#f6f1fd 0 1086px,#ece8f7 0 1088px,#dfdbec 0 1090px,#eae5f7 0 1091.2px,#f3eeff 0 1092.7px,#efeafc 0 1094px,#d5d1e3 0 1095.8px,#f4f0ff 0 1097px,#eae6f3 0 1098.7px,#faf7ff 0 1100.9px,#fefcff 0 1104.5px,#fffcff 0 1106.8px,#fefbff 0 1108.9px,#f1edf1 0 1110.4px,#f8f2f6 0 1111.4px,#f2eaed 0 1113.4px,#faf3f5 0 1115px,#f8f2f6 0 1117.3px,#fef9ff 0 1118.7px,#f6f2fe 0 1120.1px,#e0deeb 0 1121.3px,#edebf8 0 1122.3px,#f5f2fd 0 1123.5px,#fcf9ff 0 1124.8px,#fcf8fd 0 1126.2px,#f5f0f6 0 1127.9px,#fef9ff 0 1129.1px,#efecf6 0 1130.9px,#e8e4f0 0 1132.6px,#ede9f5 0 1133.7px,#f8f3fd 0 1134.7px,#fdf7ff 0 1135.9px,#ede6f0 0 1138.1px,#f5effc 0 1139.5px,#e2ddee 0 1141.1px,#dedaec 0 1142.7px,#eae6f7 0 1144.8px,#fbf6ff 0 1146.9px,#f3edf5 0 1148.1px,#f9f2f4 0 1149.5px,#fbf3f3 0 1150.6px,#f6eeed 0 1152.4px,#fffbfc 0 1154.1px,#fffbff 0 1156.8px,#e9e5f4 0 1158.4px,#d0cbde 0 1160px,#f4f0ff 0 1161.5px,#e2dded 0 1163.5px,#eee9f5 0 1165.4px,#fdf8ff 0 1166.5px,#f8f3f8 0 1168.6px,#fef9fd 0 1170.4px,#f5f1f6 0 1171.7px,#fdf8ff 0 1173.3px,#f0ebf4 0 1175.4px,#f3eef8 0 1177.3px,#f1ebf8 0 1178.4px,#e5dfed 0 1180.6px,#e3deec 0 1182.8px,#f7f4ff 0 1183.8px,#fbf7ff 0 1185.2px,#f0edf7 0 1186.4px,#f8f4fe 0 1188.6px,#fff9ff 0 1190.4px,#daced5 0 1192.3px,#f4e4e6 0 1194.3px)"></div>
<div class="hc" style="left:876px;width:120px;background:linear-gradient(#f4e0d9 0 2.1px,#fff3f0 0 3.4px,#fff7f8 0 4.8px,#fffbff 0 6.6px,#f3ecf6 0 8px,#d2ccd9 0 9.5px,#efe9f7 0 10.7px,#f7f2ff 0 12px,#f9f4ff 0 13.4px,#e4e1ed 0 15.5px,#fcf9ff 0 16.8px,#eae6ef 0 17.8px,#f9f5fc 0 20px,#fcf8fe 0 21.3px,#fbf8fe 0 22.8px,#efecf2 0 24.3px,#fcfaff 0 26.1px,#f8f7fe 0 28.2px,#f7f6fe 0 29.9px,#f4f2fa 0 32px,#f4f1f9 0 33.3px,#f7f3f9 0 35px,#faf5fb 0 36.7px,#f8f2f8 0 38px,#ece5eb 0 40.2px,#f2eaef 0 41.3px,#faf1f4 0 42.9px,#faf1f0 0 44.6px,#fffaf8 0 46.8px,#f5ece9 0 48.8px,#fcf4f3 0 50.2px,#fffbfd 0 51.5px,#f8f4f8 0 53.2px,#faf6fe 0 54.8px,#faf6ff 0 57px,#e0dbe5 0 58.1px,#efeaf3 0 60.3px,#efeaf2 0 61.9px,#fffbff 0 63.3px,#fdfaff 0 64.5px,#f6f4fb 0 65.8px,#f6f3fb 0 67.2px,#f7f3f9 0 69.3px,#f4eef3 0 71.2px,#f8f0f4 0 72.9px,#f4ecef 0 74.4px,#f8f1f4 0 75.6px,#fdf7fa 0 76.8px,#f0ebf0 0 78px,#fdf8fe 0 79.6px,#fffaff 0 81.2px,#eee8ef 0 82.4px,#f2ebf3 0 83.5px,#ebe3ec 0 84.8px,#f6eef8 0 86.5px,#eae3ee 0 88.5px,#f6effb 0 90.2px,#e0dbe7 0 91.6px,#f9f5ff 0 93.1px,#f5f2fd 0 95.1px,#fbf9ff 0 96.8px,#f0edf6 0 98.6px,#f4f2fa 0 99.9px,#fcfaff 0 101.2px,#f1eff8 0 102.6px,#f1eff7 0 103.8px,#fffcff 0 106.1px,#f6f1f6 0 107.5px,#fcf5f9 0 109.6px,#f4eaed 0 110.7px,#ede1e4 0 111.8px,#f5eaee 0 113.9px,#efe5eb 0 116.1px,#f2ebf2 0 118px,#f8f2f7 0 119.8px,#fff9fc 0 121px,#fbf3f3 0 122.8px,#fdf4f3 0 124.1px,#f6eeec 0 125.8px,#f8f0ef 0 127.8px,#fff7f7 0 129px,#fff8fa 0 130.8px,#f5edf1 0 132.7px,#fff8fe 0 134.1px,#e1d8e0 0 135.5px,#f3e8ee 0 137.2px,#ecdfe2 0 139.1px,#fff6f5 0 141.3px,#f5e9e6 0 143.2px,#fff7f3 0 144.5px,#fffbf8 0 146.5px,#fffbf9 0 147.5px,#fff9f8 0 148.7px,#f7f0f0 0 150.4px,#fffafb 0 152.5px,#eee7e9 0 153.6px,#f2ebed 0 155px,#fffbfc 0 156.2px,#fdf7f7 0 157.4px,#fffcfc 0 158.8px,#f7f0ef 0 160.8px,#fff9f8 0 162.7px,#fcf0ed 0 164.4px,#faebe7 0 166.3px,#eadad5 0 168.3px,#fff3ee 0 171.5px,#f3e3e0 0 172.7px,#efe1e1 0 174.9px,#fcf1f6 0 176.1px,#f2ebf4 0 178.3px,#e9e5f0 0 179.7px,#f7f4ff 0 180.8px,#efedf7 0 182.2px,#fffbff 0 183.4px,#fff8fd 0 185.4px,#f7e9e9 0 187.5px,#ffece7 0 189.1px,#ffe0d4 0 190.5px,#e7b4a3 0 191.7px,#f1b39e 0 193.1px,#f9b69f 0 194.7px,#f9b49c 0 196.8px,#fcb79e 0 197.9px,#fbb69e 0 199.3px,#fbb79f 0 200.6px,#fdbaa2 0 202.5px,#fdbba3 0 203.8px,#f9b69f 0 205.3px,#fcbaa3 0 206.8px,#fbb9a1 0 208.5px,#fbbaa2 0 209.6px,#fbbaa3 0 211.4px,#fbbba3 0 213.2px,#fdbea7 0 214.5px,#f9bba4 0 216.7px,#fdc1aa 0 218.6px,#fdc1ab 0 221.1px,#fcc1aa 0 222.2px,#fabfa8 0 223.7px,#fbc0a9 0 226.5px,#fcc0aa 0 228.7px,#ffc3ad 0 230.9px,#fabda7 0 232.1px,#f9bca5 0 233.6px,#fabea7 0 235.4px,#fbc0aa 0 237px,#fec4ae 0 238.6px,#fec5af 0 239.7px,#fdc5af 0 241.3px,#fbc2ad 0 243px,#fbc2ac 0 244.6px,#fcc3ad 0 248.5px,#fec5af 0 250.1px,#fbc2ac 0 251.9px,#fac1ab 0 252.9px,#fbc2ac 0 254.6px,#fdc4af 0 256.3px,#fcc4af 0 258.3px,#fcc5b0 0 261.7px,#fec7b1 0 263.2px,#fbc3ae 0 264.3px,#fbc3ad 0 265.7px,#fac1ac 0 267.9px,#fbc3ad 0 269.5px,#fcc3ae 0 271.3px,#fdc5b0 0 272.3px,#fcc5af 0 274.3px,#fbc4af 0 276px,#fdc6b1 0 277.4px,#fcc6b1 0 279.4px,#fcc5b0 0 282.2px,#fac4ae 0 283.7px,#fcc6b0 0 285.4px,#fcc6b1 0 286.6px,#f9c4af 0 288.5px,#ffcab5 0 289.6px,#fdc8b3 0 291.4px,#fac4af 0 293.4px,#f8c3af 0 295px,#fdc8b4 0 296.1px,#ffccb7 0 297.8px,#fecbb7 0 299.6px,#fac7b2 0 301.1px,#fdcab6 0 303.1px,#fac7b3 0 305.3px,#fcc9b5 0 306.9px,#fdcab6 0 308.8px,#fac8b4 0 311px,#fccbb7 0 313.2px,#fdcdb9 0 314.3px,#fbcbb8 0 316.1px,#fccdb9 0 317.8px,#ffd1bd 0 319px,#fbcbb8 0 320.9px,#f9c9b6 0 322.2px,#fdcebb 0 323.2px,#fccebb 0 325.2px,#fdcfbc 0 327px,#fccfbc 0 328.1px,#fbcebb 0 329.4px,#ffd2bf 0 330.7px,#fbccb9 0 332.2px,#fbcbb8 0 333.2px,#fccdb9 0 334.4px,#fbccb8 0 336.6px,#faccb8 0 338.5px,#facdba 0 340.5px,#ffd2c0 0 342.6px,#fcd1be 0 344.1px,#fed3c1 0 345.6px,#fed3c2 0 347.4px,#f8cebc 0 348.5px,#fad0be 0 350.1px,#ffd6c4 0 352.1px,#fcd3c1 0 353.6px,#fbd2c0 0 354.7px,#ffd6c4 0 355.8px,#fad0bf 0 357.7px,#fcd2c0 0 359.9px,#fcd1bf 0 361.3px,#fed3c1 0 363.1px,#fdd1be 0 365.3px,#fbcfbc 0 367.2px,#facdba 0 368.2px,#fccfbd 0 369.3px,#fdd1be 0 371px,#fcd1bf 0 372.7px,#fbd1bf 0 374.4px,#fcd3c1 0 375.4px,#ffd5c4 0 376.9px,#fbd2c0 0 378.5px,#fcd3c1 0 381.4px,#fed5c3 0 383px,#fdd4c2 0 384.5px,#fdd3c1 0 385.7px,#f9cfbd 0 387.8px,#fcd3c1 0 389.9px,#fbd2c1 0 391.4px,#fed6c5 0 392.8px,#fed8c7 0 394.7px,#fdd7c6 0 396.6px,#fad4c4 0 398.6px,#fed8c8 0 399.7px,#ffd9c8 0 401.1px,#fcd5c5 0 403.1px,#fad3c2 0 404.7px,#fdd5c5 0 406.1px,#fcd5c4 0 407.9px,#fdd6c5 0 409.7px,#fbd5c4 0 410.9px,#fdd8c8 0 412.1px,#fcd7c8 0 413.2px,#ffdbcc 0 414.3px,#fdd9ca 0 415.5px,#fcd9ca 0 417.1px,#fddaca 0 418.2px,#fad8c9 0 419.3px,#fedccd 0 421.5px,#fcdacc 0 422.8px,#fdddce 0 424.2px,#fdddcf 0 425.2px,#fedecf 0 426.7px,#fdddcf 0 428.5px,#fcdccd 0 430.4px,#fcdbcd 0 432.4px,#fbdacb 0 434.4px,#fddccd 0 435.4px,#feded0 0 436.5px,#feddcf 0 438px,#fcdbcc 0 442px,#fddccd 0 444.2px,#fedccd 0 446.3px,#fcdacb 0 448.3px,#fbdacb 0 449.9px,#fbdbcc 0 451px,#fbdcce 0 453.1px,#ffe0d3 0 454.1px,#ffe3d5 0 455.9px,#ffe1d3 0 457.8px,#fbddcf 0 459.4px,#fbdbcd 0 461.1px,#fddecf 0 463px,#fbdbcd 0 464.3px,#fddecf 0 466.4px,#fedfd2 0 468.2px,#fcddd0 0 470px,#fddfd2 0 472.2px,#fde0d2 0 474.1px,#fbded0 0 476.1px,#fee2d4 0 477.5px,#fbdfd2 0 478.7px,#fee2d6 0 479.7px,#ffe4d7 0 481.8px,#fadfd3 0 483.9px,#fce1d4 0 485.5px,#ffe4d8 0 487.6px,#fde3d6 0 488.9px,#fce3d7 0 491.1px,#fee5d9 0 492.7px,#fde4d8 0 494.2px,#fce3d7 0 495.3px,#fee4d8 0 496.4px,#fde3d7 0 498.4px,#fae1d5 0 499.6px,#fde4d8 0 500.7px,#fee5da 0 501.8px,#fde5d9 0 504px,#fde6da 0 505.9px,#fee7db 0 507.2px,#fde5da 0 508.7px,#fde6da 0 510.1px,#fce5d9 0 512.1px,#fde7dc 0 514.2px,#fee7dc 0 515.4px,#fbe5db 0 516.5px,#ffeadf 0 517.8px,#fde8de 0 519.9px,#fde9df 0 521.2px,#fae7de 0 522.7px,#ffeee5 0 524.5px,#feede4 0 526.6px,#ffeee6 0 527.8px,#fdede4 0 530.9px,#ffeee6 0 533px,#fbeae1 0 534.8px,#feede5 0 536.2px,#fcebe3 0 538.2px,#fff0e8 0 540.2px,#fdeee6 0 541.4px,#fff2eb 0 542.9px,#fef0e9 0 544px,#fbede6 0 545.6px,#fdefe8 0 547.3px,#fff2eb 0 549px,#feeee7 0 551.1px,#fff0e7 0 552.5px,#ffeee4 0 554.5px,#f0d1c4 0 556.6px,#fbd8c9 0 557.9px,#fbd5c4 0 559.9px,#f1c9b9 0 561.2px,#ffddcc 0 563px,#f6d1c1 0 564.4px,#ffe0d1 0 566.9px,#ffdbcc 0 568.3px,#ffddcd 0 570.1px,#ebc3b2 0 571.9px,#fbd3c2 0 573.4px,#ffd8c7 0 575.2px,#ffe2d2 0 576.6px,#efc8b7 0 578.4px,#fdd5c4 0 579.5px,#fcd4c3 0 580.6px,#ffd9c8 0 581.5px,#ffd5c3 0 583.3px,#eec2b1 0 585.4px,#ffddcb 0 587.4px,#ffd3c1 0 589.1px,#ebbba8 0 591.2px,#ffd5c2 0 592.6px,#f9c7b3 0 594px,#ecbba7 0 595.3px,#ffd7c4 0 596.8px,#ffddca 0 598.5px,#f2bfac 0 600.3px,#f5c1ae 0 601.6px,#e9b9a7 0 603.7px,#ffd6c5 0 605.6px,#fcdacc 0 606.6px,#fff3e7 0 608.3px,#ffe9df 0 610.4px,#fde9df 0 611.5px,#f8e3da 0 613.5px,#fff5eb 0 614.6px,#ffe7dc 0 616.2px,#f8dbce 0 617.6px,#f4d3c4 0 618.9px,#ffddce 0 620.8px,#fad7c8 0 622.8px,#efcdbf 0 623.9px,#fff1e4 0 626.1px,#eed1c5 0 627.2px,#ffe4d8 0 628.9px,#fff6ea 0 630.1px,#faddd1 0 632.1px,#f5d4c6 0 633.2px,#ffe2d3 0 635.1px,#f1caba 0 636.9px,#fad3c2 0 638.1px,#f0cbbb 0 639.7px,#ffe1d3 0 644.1px,#ffe5d9 0 645.4px,#ffebde 0 647.3px,#faddd0 0 649.4px,#eaccbe 0 651.4px,#ffe5d8 0 652.9px,#ffe8db 0 654.6px,#fadfd3 0 656.4px,#ffe6db 0 657.4px,#f7e0d5 0 659.1px,#fde8dd 0 660.9px,#fde9e0 0 662.2px,#fff3eb 0 664.4px,#ffede5 0 665.9px,#f3ddd5 0 667.5px,#ffede4 0 668.7px,#f1d3c8 0 669.6px,#ffdfd1 0 670.8px,#f2cfc1 0 672.2px,#f6d4c6 0 673.5px,#fbdcce 0 675.6px,#ffecdf 0 677.3px,#ffeade 0 678.8px,#f5d8cd 0 680.6px,#fde1d8 0 682px,#e5cbc4 0 683.7px,#fbe5e1 0 685.5px,#ffefed 0 687.7px,#feecea 0 689.7px,#e5d4d2 0 691.4px,#fff6f2 0 692.5px,#fff4f0 0 693.8px,#f8e9e4 0 695.7px,#f6e8e2 0 697.7px,#fff8f2 0 698.7px,#fff5ee 0 699.8px,#fff1e9 0 701.2px,#ebdad2 0 703.3px,#fff5ed 0 705.4px,#ffefe7 0 706.5px,#f9e9e1 0 708.1px,#fff1ea 0 710.1px,#fff2eb 0 711.7px,#fff3ec 0 713.7px,#f6e7e0 0 715.9px,#fff1ea 0 717.2px,#f6e8e2 0 719.4px,#fffaf5 0 720.9px,#fff5f0 0 722.2px,#fff5f1 0 723.6px,#f1e5e1 0 725.7px,#fff6f2 0 727.9px,#fbedea 0 730.1px,#feeeeb 0 731.2px,#f8e7e3 0 733px,#ebd9d4 0 735px,#ffeeeb 0 736.1px,#fff1ec 0 738.1px,#f0ddd8 0 740.2px,#fae7e0 0 741.3px,#fff4ec 0 742.4px,#fce7df 0 743.6px,#f2ded5 0 745.1px,#f6e4dc 0 747px,#fff4ee 0 748.9px,#fff6f1 0 749.9px,#fff1eb 0 751.1px,#f9ebe5 0 753px,#f2e5df 0 754.6px,#fdf2ee 0 756.2px,#fffcfc 0 757.3px,#fcf8fb 0 759.2px,#f5f2f8 0 761px,#fefcff 0 762.3px,#f1eff9 0 763.3px,#ebe7f0 0 765px,#f4eff5 0 767px,#fef5f7 0 768.2px,#fff3f1 0 770.2px,#fcede8 0 771.8px,#edddd6 0 773.2px,#fff1ea 0 775px,#fff9f5 0 776.7px,#f6ecea 0 778.3px,#fff8f8 0 779.2px,#f1ebee 0 780.5px,#faf6fa 0 782.2px,#fdf9fd 0 783.8px,#f8f4f8 0 785.5px,#fcf9ff 0 786.8px,#f8f4ff 0 788.4px,#efecfb 0 789.6px,#ebe8fc 0 790.6px,#d5d2e8 0 791.9px,#e0def4 0 793.4px,#f6f4ff 0 795.5px,#f3f1ff 0 796.5px,#f9f8ff 0 798.2px,#e5e3f7 0 800.4px,#d2d0e5 0 802.1px,#f0eeff 0 805.5px,#f9f8ff 0 807.5px,#f4f2ff 0 809.1px,#d4d2e6 0 811.2px,#f9f7ff 0 812.6px,#cecbe0 0 813.8px,#faf7ff 0 815.6px,#f1efff 0 817px,#f5f3ff 0 818px,#dddaec 0 819.1px,#f7f3ff 0 820.7px,#dedaea 0 822.8px,#f7f2ff 0 824px,#faf5ff 0 825.9px,#e5dfed 0 826.8px,#f2ecfb 0 828.3px,#eee8f9 0 830.3px,#e2dcee 0 832.1px,#d8d3e5 0 833.5px,#f4effe 0 835px,#f6f2fd 0 836.9px,#f8f4fd 0 837.9px,#fcf9ff 0 840px,#f2eef5 0 842.1px,#f7f3fa 0 844.2px,#f0ecf3 0 845.3px,#fefbff 0 846.6px,#fdfaff 0 848.2px,#e2dfea 0 850.4px,#f8f5ff 0 852.2px,#fbf9ff 0 854.3px,#e2dfe9 0 856.5px,#f9f7fe 0 858.7px,#fdfbff 0 859.7px,#f9f7fc 0 861.3px,#fefcff 0 863.1px,#f5f4f8 0 865.1px,#fdfbff 0 866.7px,#fcfaff 0 868.1px,#edebf5 0 869.5px,#f9f8ff 0 870.6px,#dfddea 0 872.9px,#fbf9ff 0 875px,#f6f4ff 0 876px,#f0eef7 0 877.2px,#f3f1f8 0 879.1px,#faf7fc 0 880.9px,#fffcff 0 883.5px,#f8f3fa 0 884.6px,#e6e1ea 0 886px,#f2edf8 0 888.1px,#f5effc 0 889.8px,#efebf8 0 891.7px,#dedae7 0 893.4px,#f5f1fd 0 895.2px,#fcf8ff 0 896.5px,#f9f5fb 0 898.3px,#faf6fb 0 899.7px,#fbf8fe 0 901px,#edeaf2 0 902.6px,#fdfbff 0 903.7px,#fcfaff 0 905.2px,#e0deea 0 907.2px,#efedf9 0 908.7px,#faf8ff 0 909.9px,#f5f3fc 0 910.9px,#f3f0f8 0 912.8px,#f7f3f8 0 913.9px,#fffcfe 0 915px,#f6efef 0 917.2px,#fffaf9 0 919.4px,#fff8f7 0 921.6px,#f2eaec 0 923.6px,#f4edf1 0 925.3px,#f5f0f5 0 926.4px,#fdf8ff 0 927.7px,#f9f6fd 0 929.6px,#ebe8ef 0 930.8px,#f9f6fc 0 932.9px,#fffcff 0 934.7px,#fff8fb 0 935.9px,#f2eaeb 0 937.6px,#e9e0e0 0 939.3px,#fff8f9 0 941.3px,#fdf5f6 0 943.2px,#f6eef0 0 944.5px,#fffafc 0 945.8px,#eee6ea 0 947px,#f7f1f7 0 948px,#fbf6fe 0 949.7px,#eeebf4 0 951.7px,#f0eef7 0 952.7px,#f6f4fc 0 954.5px,#fdfcff 0 956.6px,#fefdff 0 958.6px,#fbfaff 0 960.5px,#f4f3f9 0 962px,#f8f7fe 0 963.2px,#f8f7ff 0 964.4px,#fcfaff 0 965.9px,#f0eef9 0 967.2px,#e1dfea 0 969.2px,#f6f3fd 0 971.1px,#f9f6ff 0 972.1px,#fbf8ff 0 973.1px,#f9f7ff 0 974.8px,#efedf4 0 975.8px,#f8f5fb 0 977.6px,#fbf6fa 0 978.6px,#fef7f7 0 979.8px,#fff6f5 0 981.3px,#f1e6e3 0 982.8px,#fbf1f0 0 984.1px,#fef6f8 0 985.7px,#ebe6ea 0 987.9px,#fcf8fe 0 989.8px,#fefcff 0 991.8px,#f7f5f8 0 993.7px,#fffbfd 0 995.7px,#fffbfb 0 997.7px,#f8f2f2 0 999.1px,#faf5f4 0 1000.1px,#faf5f5 0 1001.7px,#fffbfc 0 1003.6px,#fffafa 0 1005px,#fffbfb 0 1006.9px,#fff9fa 0 1008.2px,#eadfe1 0 1010.3px,#eee3e6 0 1012.3px,#f6ecf1 0 1013.8px,#f8f2f8 0 1015px,#f1ecf3 0 1016.5px,#faf6fc 0 1017.8px,#f8f4f9 0 1019.7px,#f8f3f6 0 1021.6px,#fffafd 0 1023.1px,#fdf9fe 0 1024.6px,#fdf9ff 0 1026.2px,#e4e1ee 0 1027.8px,#d7d4e3 0 1029.3px,#fefaff 0 1031px,#f6f0f9 0 1032.9px,#f7ecf1 0 1035.2px,#f7e9e8 0 1036.8px,#f2e0dc 0 1039px,#feeae4 0 1040.3px,#fff3ec 0 1041.5px,#f1ddd6 0 1043.5px,#eddad4 0 1044.6px,#ffefeb 0 1046.8px,#fcf0ee 0 1049px,#fff7f7 0 1050px,#fff9fb 0 1051.7px,#fcf8fe 0 1052.8px,#fcf8ff 0 1054.1px,#e4e0f4 0 1055.6px,#ccc8e0 0 1057.4px,#e3e0f9 0 1059.4px,#e8e5fb 0 1060.7px,#eae7f8 0 1061.7px,#f7f2ff 0 1063.8px,#f5f1fb 0 1065.5px,#fefaff 0 1066.5px,#ece8f6 0 1067.8px,#e1deed 0 1069px,#f2f0ff 0 1071px,#efecfa 0 1072.5px,#f4f1fc 0 1074.7px,#faf7ff 0 1076.3px,#efebf1 0 1078.5px,#fffbff 0 1080.3px,#faf5f6 0 1081.7px,#fffcfb 0 1083.2px,#fef9f8 0 1084.6px,#fffaf8 0 1086px,#fffaf7 0 1088px,#eee4e1 0 1090px,#fef4f2 0 1091.2px,#fcf4f4 0 1092.7px,#fffbfe 0 1094px,#e9e5ea 0 1095.8px,#fdfaff 0 1097px,#fcf9ff 0 1098.7px,#e9e6ef 0 1100.9px,#f9f7ff 0 1103.1px,#fefbff 0 1104.5px,#e4e1f1 0 1106.8px,#f1efff 0 1108.9px,#dfdcf4 0 1110.4px,#eae8ff 0 1111.4px,#c9c6de 0 1113.4px,#f4f1ff 0 1115px,#f4f0ff 0 1117.3px,#ede9f3 0 1118.7px,#f4eff5 0 1120.1px,#fefafe 0 1121.3px,#fcf9fb 0 1122.3px,#fffdff 0 1123.5px,#fcfafe 0 1124.8px,#f8f6fa 0 1126.2px,#fbf8fd 0 1127.9px,#faf7fc 0 1129.1px,#f6f2f8 0 1130.9px,#f2edf3 0 1132.6px,#f3eff5 0 1133.7px,#f4f0f6 0 1134.7px,#fcf9ff 0 1135.9px,#f2f0f8 0 1138.1px,#f8f7ff 0 1139.5px,#f7f5ff 0 1141.1px,#edeaf3 0 1142.7px,#f5f2f8 0 1144.8px,#fff9fd 0 1146.9px,#fef6f6 0 1148.1px,#f3e9e7 0 1149.5px,#f4eae7 0 1150.6px,#fffaf7 0 1152.4px,#fffbfb 0 1154.1px,#fffafc 0 1155.1px,#faf6fc 0 1156.8px,#f2eef9 0 1158.4px,#ebe7f5 0 1160px,#ebe7f6 0 1161.5px,#e7e1ef 0 1163.5px,#f6eef9 0 1165.4px,#eae0e8 0 1166.5px,#f2e7eb 0 1168.6px,#fef5f7 0 1170.4px,#fbf2f4 0 1171.7px,#f5edf0 0 1173.3px,#fdf6f9 0 1175.4px,#fbf3f5 0 1177.3px,#faf1f1 0 1178.4px,#f1e8e6 0 1180.6px,#fff6f3 0 1182.8px,#fffcfa 0 1183.8px,#f8f2f1 0 1185.2px,#fdf8f9 0 1186.4px,#fffcff 0 1188.6px,#fcf9ff 0 1190.4px,#e5e3ea 0 1192.3px,#fcfbff 0 1194.3px)"></div>
<div class="hc" style="left:996px;width:118px;background:linear-gradient(#dfdcf6 0 2.1px,#fbf8ff 0 3.4px,#f3f1ff 0 4.8px,#cbc9e3 0 6.6px,#e3e1fd 0 8px,#f0edff 0 9.5px,#ccc9e8 0 10.7px,#dedbfa 0 12px,#ebe8ff 0 13.4px,#e6e2ff 0 15.5px,#d8d4f9 0 16.8px,#bfbbe1 0 17.8px,#d4d1f4 0 20px,#e0ddfa 0 21.3px,#ebe9ff 0 22.8px,#fbf8ff 0 24.3px,#faf7ff 0 26.1px,#f2efff 0 28.2px,#e2dff6 0 29.9px,#cdcae3 0 32px,#e0ddf7 0 33.3px,#f5f3ff 0 35px,#e6e4fa 0 36.7px,#edebff 0 38px,#f4f2ff 0 40.2px,#dddbf0 0 41.3px,#dcdaee 0 42.9px,#f7f5ff 0 44.6px,#efedfe 0 46.8px,#f4f2ff 0 48.8px,#edecfc 0 50.2px,#e0def0 0 51.5px,#f7f5ff 0 53.2px,#eae9f9 0 54.8px,#eeecfe 0 57px,#f1efff 0 58.1px,#f2efff 0 60.3px,#d7d4ed 0 61.9px,#ebe9ff 0 63.3px,#d0cee9 0 64.5px,#e9e7ff 0 65.8px,#e1def7 0 67.2px,#faf8ff 0 69.3px,#dfddf5 0 71.2px,#e9e7ff 0 72.9px,#e4e1fc 0 74.4px,#d0cde9 0 75.6px,#e8e6ff 0 76.8px,#eceaff 0 78px,#dbd9f2 0 79.6px,#e4e1f8 0 81.2px,#edebff 0 82.4px,#eeedfd 0 83.5px,#f0effc 0 84.8px,#f6f4ff 0 86.5px,#fdfcff 0 88.5px,#efedfb 0 90.2px,#f1efff 0 91.6px,#eae8fb 0 93.1px,#e8e5fd 0 95.1px,#e3e0fb 0 96.8px,#d4d2ee 0 98.6px,#dedcf9 0 99.9px,#f4f1ff 0 101.2px,#dfdcfd 0 102.6px,#d4d1f6 0 103.8px,#cecaf2 0 106.1px,#d0ccf4 0 107.5px,#cecaf0 0 109.6px,#e5e2ff 0 110.7px,#d3d0ec 0 111.8px,#faf7ff 0 113.9px,#f4f1ff 0 116.1px,#e5e2f9 0 118px,#d3d1e9 0 119.8px,#efedff 0 121px,#dedcf3 0 122.8px,#f6f4ff 0 124.1px,#e5e2f8 0 125.8px,#eceaff 0 127.8px,#dbd9ed 0 129px,#f6f4ff 0 130.8px,#eeecff 0 134.1px,#faf8ff 0 135.5px,#dcd9fa 0 137.2px,#c1bee6 0 139.1px,#c2bee9 0 141.3px,#d4d0fa 0 143.2px,#d9d5fc 0 144.5px,#d8d5f7 0 146.5px,#e7e4ff 0 147.5px,#f4f1ff 0 148.7px,#d9d7f2 0 150.4px,#f1eeff 0 152.5px,#d7d4f4 0 153.6px,#d4d1f3 0 155px,#ccc8eb 0 156.2px,#e9e6ff 0 158.8px,#d3d0ec 0 160.8px,#f1eeff 0 162.7px,#eceaff 0 164.4px,#d9d6ee 0 166.3px,#ebe8ff 0 168.3px,#f1efff 0 170.1px,#e5e3f8 0 171.5px,#e1dff4 0 172.7px,#fbf9ff 0 174.9px,#e0def5 0 176.1px,#eae8ff 0 178.3px,#dfdcf6 0 179.7px,#e2e0fa 0 180.8px,#cdcbe3 0 182.2px,#fcf9ff 0 183.4px,#f6f4ff 0 185.4px,#e4e1f2 0 187.5px,#f4f0fe 0 189.1px,#e7e0e9 0 190.5px,#fff9fc 0 191.7px,#f4e3e1 0 193.1px,#fce7e0 0 194.7px,#f3ddd4 0 196.8px,#f1dcd3 0 197.9px,#fff9f0 0 199.3px,#fff3ec 0 200.6px,#faebe4 0 202.5px,#fcede5 0 203.8px,#fff4ec 0 205.3px,#fbeae2 0 206.8px,#f3e2da 0 208.5px,#fff4ed 0 209.6px,#feeee8 0 211.4px,#fff1ea 0 213.2px,#fff5ed 0 214.5px,#fae2d8 0 216.7px,#edd0c5 0 218.6px,#ffecdf 0 219.8px,#efcec1 0 221.1px,#e9ccbf 0 222.2px,#ffeee4 0 223.7px,#fff3eb 0 224.7px,#fff6f0 0 226.5px,#f9ebe7 0 228.7px,#f4e8e6 0 230.9px,#fff5f5 0 232.1px,#f9eff0 0 233.6px,#f8edee 0 235.4px,#f1e5e5 0 237px,#f9ebea 0 238.6px,#fcefee 0 239.7px,#f3e7e6 0 241.3px,#f8ecea 0 243px,#fff8f5 0 244.6px,#fcefeb 0 246.8px,#f5e8e2 0 248.5px,#fff4ef 0 250.1px,#fff7f1 0 251.9px,#fcede6 0 252.9px,#f9e9e2 0 254.6px,#f2e0da 0 256.3px,#fff7f0 0 258.3px,#ffeee7 0 259.8px,#efd4cb 0 261.7px,#d7bcb3 0 263.2px,#fff4ec 0 264.3px,#fff7ef 0 265.7px,#ffefe7 0 267.9px,#efdcd4 0 269.5px,#fff1e9 0 271.3px,#f7e8e1 0 272.3px,#fff2ee 0 274.3px,#fffbf9 0 276px,#faf3f3 0 277.4px,#f6f0f2 0 279.4px,#faf5f9 0 281.3px,#f7f3f8 0 282.2px,#f8f4fa 0 283.7px,#fcfaff 0 285.4px,#eceaf4 0 286.6px,#faf8ff 0 288.5px,#e5e2ec 0 289.6px,#f7f2fa 0 291.4px,#f8f1f5 0 293.4px,#fdf5f6 0 295px,#f9f0ee 0 296.1px,#fdf4f2 0 297.8px,#f6eeed 0 299.6px,#fffbfc 0 301.1px,#fffcff 0 303.1px,#f2eff3 0 305.3px,#f9f5fa 0 306.9px,#fef9fd 0 308.8px,#fcf5fa 0 311px,#f5ecf3 0 313.2px,#e8dee8 0 314.3px,#f3e7f5 0 316.1px,#dbcfde 0 317.8px,#e1d4e1 0 319px,#eddfe8 0 320.9px,#f9ecf1 0 322.2px,#fef3f8 0 323.2px,#fff6fd 0 325.2px,#f9eef8 0 327px,#d5c9d5 0 328.1px,#ded0dc 0 329.4px,#f5e6f1 0 330.7px,#eadce3 0 332.2px,#fbedf0 0 333.2px,#fdefee 0 334.4px,#f4e7e3 0 336.6px,#f9edea 0 338.5px,#fff8f5 0 340.5px,#fffaf8 0 342.6px,#fffdfc 0 344.1px,#fffbfd 0 345.6px,#efe9ef 0 347.4px,#fdf7ff 0 348.5px,#d7d2e5 0 350.1px,#ede9ff 0 352.1px,#d8d5ed 0 353.6px,#dbd8ee 0 354.7px,#fcfaff 0 355.8px,#f9f7ff 0 357.7px,#edebf5 0 359.9px,#f4f1f9 0 361.3px,#fffaff 0 363.1px,#fef7fb 0 365.3px,#ede6e9 0 367.2px,#f3edf0 0 368.2px,#fffcff 0 369.3px,#fefafe 0 371px,#f4eff3 0 372.7px,#fef8fb 0 374.4px,#fbf4f8 0 375.4px,#f5edf2 0 376.9px,#dfd7dd 0 378.5px,#fff7fd 0 379.8px,#fbf4f8 0 381.4px,#f6f0f2 0 383px,#fff9fc 0 384.5px,#fcf7fa 0 385.7px,#f6f1f4 0 387.8px,#f8f3f6 0 389.9px,#f7f1f4 0 391.4px,#f5f0f4 0 392.8px,#faf6fb 0 394.7px,#fffcff 0 396.6px,#eeebf6 0 398.6px,#e4e2ee 0 399.7px,#f9f6ff 0 401.1px,#f8f4ff 0 403.1px,#f7f3fc 0 404.7px,#eae5ef 0 406.1px,#f0ebf5 0 407.9px,#f3edf8 0 409.7px,#f3eefb 0 410.9px,#f1edfc 0 412.1px,#e2deee 0 413.2px,#e7e3f3 0 414.3px,#fffbff 0 415.5px,#fcf5ff 0 417.1px,#dcd1dc 0 418.2px,#fff3fa 0 419.3px,#d9cad0 0 421.5px,#fbeef3 0 422.8px,#fff8fe 0 424.2px,#f5eef4 0 425.2px,#f6eff5 0 426.7px,#fdf4f8 0 428.5px,#fff8fa 0 430.4px,#d9cbcd 0 432.4px,#fff7fd 0 434.4px,#f2e9f5 0 435.4px,#e3ddef 0 436.5px,#dedaee 0 438px,#f3f0ff 0 439.8px,#e6e3f4 0 442px,#f7f3ff 0 444.2px,#f2ecf6 0 446.3px,#f5edf4 0 448.3px,#f1e8ed 0 449.9px,#f9f0f3 0 451px,#fff7fb 0 453.1px,#f0e7ed 0 454.1px,#e7e0e9 0 455.9px,#f7f2ff 0 457.8px,#e8e4f2 0 459.4px,#ece9f7 0 461.1px,#f5f2fe 0 463px,#fffcff 0 464.3px,#f8f5ff 0 466.4px,#e9e6f1 0 470px,#f4f2fc 0 472.2px,#fcfbff 0 474.1px,#fbf9ff 0 476.1px,#fbf9fe 0 477.5px,#fdfbff 0 478.7px,#f4f1f5 0 479.7px,#fffbff 0 481.8px,#f0ebf2 0 483.9px,#f8f2fd 0 485.5px,#e4e0ee 0 487.6px,#eae6f8 0 488.9px,#ebe8fc 0 491.1px,#efecff 0 492.7px,#eeebff 0 494.2px,#cdcae7 0 495.3px,#dedbfa 0 496.4px,#e6e3ff 0 498.4px,#e1deff 0 499.6px,#d6d3f5 0 500.7px,#d7d3f4 0 501.8px,#ddd9f6 0 504px,#d5d1e8 0 505.9px,#faf6ff 0 507.2px,#fdf8ff 0 508.7px,#fffbff 0 510.1px,#f3ebef 0 512.1px,#faf1f6 0 514.2px,#e1d8de 0 515.4px,#fff8ff 0 516.5px,#fceff8 0 517.8px,#ded1db 0 519.9px,#e6dae5 0 521.2px,#e6dcea 0 522.7px,#fff8ff 0 524.5px,#f5eeff 0 526.6px,#d3cee3 0 527.8px,#e3def6 0 529.1px,#eeebff 0 530.9px,#dad7ef 0 533px,#f7f4ff 0 534.8px,#ebe8ff 0 536.2px,#dddafc 0 538.2px,#c4c1e7 0 540.2px,#ccc8f1 0 541.4px,#e1deff 0 542.9px,#c1bee2 0 544px,#ebe8ff 0 545.6px,#e3e0f8 0 547.3px,#faf4ff 0 549px,#f4e9f5 0 551.1px,#ffe8ee 0 552.5px,#ffe0de 0 554.5px,#e9aa9e 0 556.6px,#ed9a85 0 557.9px,#e28167 0 559.9px,#f48c6f 0 561.2px,#ff9779 0 563px,#fc9071 0 564.4px,#ff9e7f 0 565.7px,#fa8061 0 566.9px,#ea6748 0 568.3px,#ff8264 0 570.1px,#cf472a 0 571.9px,#ea6a4e 0 573.4px,#ffb398 0 575.2px,#ef8569 0 576.6px,#ffae91 0 578.4px,#ff987b 0 579.5px,#fe9274 0 580.6px,#da6c4e 0 581.5px,#f28667 0 583.3px,#ff9e80 0 585.4px,#fb9c7f 0 587.4px,#ffb498 0 589.1px,#ffaf93 0 591.2px,#f78b6e 0 592.6px,#d86345 0 594px,#ff9273 0 595.3px,#ea6c4c 0 596.8px,#ff8768 0 598.5px,#e7694a 0 600.3px,#ff9d7e 0 601.6px,#f07758 0 603.7px,#dc684a 0 605.6px,#ffa285 0 606.6px,#f99578 0 608.3px,#ffaf92 0 610.4px,#fb9f82 0 611.5px,#f09578 0 613.5px,#faa083 0 614.6px,#fca589 0 616.2px,#ee9b80 0 617.6px,#fbae94 0 618.9px,#ffc0a8 0 620.8px,#ffc5ad 0 622.8px,#e9ad97 0 623.9px,#ffc8b2 0 626.1px,#ffcfb9 0 627.2px,#ffc7b2 0 628.9px,#ffceb7 0 630.1px,#e6a28a 0 632.1px,#dc9780 0 633.2px,#fcbba5 0 635.1px,#ffd1bc 0 636.9px,#ffd8c4 0 638.1px,#ffcab5 0 639.7px,#ffc1ab 0 641.9px,#d4886f 0 644.1px,#fead93 0 645.4px,#f8a68d 0 647.3px,#ffc1a7 0 649.4px,#d88d75 0 651.4px,#ffc2aa 0 652.9px,#fdbea8 0 654.6px,#ffc3af 0 656.4px,#ffcdb9 0 657.4px,#ffe2ce 0 659.1px,#ec9a85 0 660.9px,#b65e48 0 662.2px,#f09a85 0 664.4px,#ffe0ca 0 665.9px,#ffc0aa 0 667.5px,#fdb29b 0 668.7px,#db8e75 0 669.6px,#faad94 0 670.8px,#fdb299 0 672.2px,#ffc7ae 0 673.5px,#f4a990 0 675.6px,#ffb398 0 677.3px,#f4a287 0 678.8px,#f49f84 0 680.6px,#ffab8f 0 682px,#f2a187 0 683.7px,#e9a087 0 685.5px,#f7b8a2 0 687.7px,#ffd7c3 0 689.7px,#ffedda 0 691.4px,#f5c1ae 0 692.5px,#e4ad99 0 693.8px,#fdc4af 0 695.7px,#ffceb9 0 697.7px,#efb7a2 0 698.7px,#ffceb8 0 699.8px,#ffd0ba 0 701.2px,#f8b49c 0 703.3px,#eba188 0 705.4px,#f3a88f 0 706.5px,#e09a82 0 708.1px,#ffc7b1 0 710.1px,#ffd8c4 0 711.7px,#ffdccb 0 713.7px,#fcd4c4 0 715.9px,#fbd2c2 0 717.2px,#ffe7d6 0 719.4px,#f1c1af 0 720.9px,#e8b5a2 0 722.2px,#ffd4c2 0 723.6px,#e4b5a4 0 725.7px,#fbd4c4 0 727.9px,#fff2e5 0 730.1px,#ffe8db 0 731.2px,#ffe4d6 0 733px,#deb1a0 0 735px,#ffdac7 0 736.1px,#f3b5a0 0 738.1px,#ffb9a2 0 740.2px,#ffb49c 0 741.3px,#dc8a71 0 742.4px,#ffbca4 0 743.6px,#d4836b 0 745.1px,#ffdbc4 0 747px,#f9ac96 0 748.9px,#db8e77 0 749.9px,#ffd1b9 0 751.1px,#ffb79d 0 753px,#e48d72 0 754.6px,#e48c71 0 756.2px,#f29e84 0 757.3px,#ffc4ab 0 759.2px,#f1ac94 0 761px,#ffc3ad 0 762.3px,#ffd6c0 0 763.3px,#f2b099 0 765px,#f2af97 0 767px,#e5a089 0 768.2px,#ffcab2 0 770.2px,#ffd2ba 0 771.8px,#faa88f 0 773.2px,#cd765c 0 775px,#e9947a 0 776.7px,#ffbba3 0 778.3px,#ffc9b3 0 779.2px,#ffc8b4 0 780.5px,#d49483 0 782.2px,#ffe0d3 0 783.8px,#e1a7a3 0 785.5px,#d2a2a9 0 786.8px,#e9c5db 0 788.4px,#d4bde0 0 789.6px,#ccbeeb 0 790.6px,#ccc4f6 0 791.9px,#cac5f8 0 793.4px,#cbc7fa 0 795.5px,#cec9fe 0 796.5px,#d0ccff 0 798.2px,#b9b4eb 0 800.4px,#bebaf2 0 802.1px,#d1ccff 0 804.1px,#c2bdf3 0 805.5px,#c1bcf0 0 807.5px,#d4d0ff 0 809.1px,#d0ccfc 0 811.2px,#cbc7f6 0 812.6px,#d2cefc 0 813.8px,#d4d0fd 0 815.6px,#c9c5f2 0 817px,#d1cdfa 0 818px,#dbd7ff 0 819.1px,#d0ccfc 0 820.7px,#cec9fc 0 822.8px,#bcb8ed 0 824px,#c5c0f7 0 825.9px,#bcb7f0 0 826.8px,#d7d2ff 0 828.3px,#d0cbff 0 830.3px,#8d88c4 0 832.1px,#cac6ff 0 833.5px,#d3ceff 0 835px,#ccc7ff 0 836.9px,#bab6ed 0 837.9px,#bdb8ed 0 840px,#cfcbfd 0 842.1px,#dcd8ff 0 844.2px,#cecaf8 0 845.3px,#d2cefc 0 846.6px,#cbc7f6 0 848.2px,#d4d0ff 0 850.4px,#c4c0f3 0 852.2px,#cac5fb 0 854.3px,#c0bcf4 0 856.5px,#cdc9ff 0 858.7px,#aea9e3 0 859.7px,#d0cbff 0 861.3px,#c4c0f9 0 863.1px,#c8c3fb 0 865.1px,#b6b2e8 0 866.7px,#d3ceff 0 868.1px,#cac5f8 0 869.5px,#d4d0ff 0 870.6px,#cac6f6 0 872.9px,#bebaea 0 875px,#e0dcff 0 876px,#d2cefd 0 877.2px,#c5c0f0 0 879.1px,#d6d2ff 0 880.9px,#c1bded 0 882px,#cecaf9 0 883.5px,#ddd9ff 0 884.6px,#c9c5f1 0 886px,#cdc8f2 0 888.1px,#ddd8ff 0 889.8px,#cfcaed 0 891.7px,#f2edff 0 893.4px,#cfcaec 0 895.2px,#dcd8fc 0 896.5px,#dfdbff 0 898.3px,#d2cef9 0 899.7px,#cac6f5 0 901px,#c7c3f6 0 902.6px,#c2bef2 0 903.7px,#c5c1f5 0 905.2px,#d4cfff 0 907.2px,#cdc9fe 0 908.7px,#cdc9ff 0 909.9px,#a9a5dd 0 910.9px,#d1cdff 0 912.8px,#c8c3fc 0 913.9px,#bfbbf2 0 915px,#bfbaf1 0 917.2px,#d3ceff 0 919.4px,#d2cdff 0 921.6px,#bbb6ee 0 923.6px,#b5b0e8 0 925.3px,#d0ccff 0 926.4px,#d1cdff 0 927.7px,#c8c3fa 0 929.6px,#bfbbf2 0 930.8px,#b2aee4 0 932.9px,#dbd7ff 0 934.7px,#d6d2ff 0 935.9px,#c0bbed 0 937.6px,#c5c0f0 0 939.3px,#d5d0fb 0 941.3px,#cfc9ee 0 943.2px,#e5defe 0 944.5px,#eee8ff 0 945.8px,#d7d1ee 0 947px,#e5dfff 0 948px,#d6d2f6 0 949.7px,#dcd8ff 0 951.7px,#c9c5f4 0 952.7px,#bebaed 0 954.5px,#d3cfff 0 956.6px,#b8b4e9 0 958.6px,#ccc8fd 0 960.5px,#c4c0f3 0 962px,#d4d0ff 0 963.2px,#d6d1ff 0 964.4px,#c2bef4 0 965.9px,#c5c0f9 0 967.2px,#c1bcf7 0 969.2px,#b1ace9 0 971.1px,#c3bffa 0 972.1px,#c4c0f9 0 973.1px,#d5d1ff 0 974.8px,#b6b1e8 0 975.8px,#cdc8fe 0 977.6px,#c6c2f5 0 978.6px,#c8c3f3 0 979.8px,#dbd7ff 0 981.3px,#d0ccf5 0 982.8px,#e4e1ff 0 984.1px,#d4d1f3 0 985.7px,#d9d6f7 0 987.9px,#f1eeff 0 989.8px,#d7d4f6 0 991.8px,#d7d4f8 0 993.7px,#d8d5fb 0 995.7px,#cdc9f0 0 997.7px,#dbd7ff 0 999.1px,#e4e1ff 0 1000.1px,#c5c1ed 0 1001.7px,#d8d4ff 0 1003.6px,#c0bcec 0 1005px,#bfbbea 0 1006.9px,#e3e0ff 0 1008.2px,#c0bce1 0 1010.3px,#f4f2ff 0 1012.3px,#dedcf6 0 1013.8px,#faf8ff 0 1015px,#ebe8ff 0 1016.5px,#d8d5f6 0 1017.8px,#d1cef3 0 1019.7px,#cdcaf2 0 1021.6px,#d0ccf5 0 1023.1px,#dedaff 0 1024.6px,#d5d1f9 0 1026.2px,#e2deff 0 1027.8px,#cfcbf6 0 1029.3px,#cac6f4 0 1031px,#d5d1ff 0 1032.9px,#bab6e8 0 1035.2px,#d5d0ff 0 1036.8px,#c8c4f8 0 1039px,#c6c2f6 0 1040.3px,#b9b4e6 0 1041.5px,#cfcbfa 0 1043.5px,#efebff 0 1044.6px,#d1cdfa 0 1046.8px,#cbc7f5 0 1049px,#b5b1e0 0 1050px,#e0dcff 0 1051.7px,#d6d2fe 0 1052.8px,#c9c5f0 0 1054.1px,#dedaff 0 1055.6px,#d4d0fb 0 1057.4px,#c8c5ee 0 1059.4px,#d5d1f9 0 1060.7px,#d6d3f8 0 1061.7px,#efecff 0 1063.8px,#d5d2f6 0 1065.5px,#dcd9ff 0 1066.5px,#d1cdf7 0 1067.8px,#d6d2ff 0 1069px,#c8c4f6 0 1071px,#c7c2f6 0 1072.5px,#bbb6eb 0 1074.7px,#c7c3f6 0 1076.3px,#d3cfff 0 1078.5px,#d5d1ff 0 1080.3px,#d0ccfb 0 1081.7px,#dad6ff 0 1083.2px,#bebaef 0 1084.6px,#c7c2fd 0 1086px,#bcb7f6 0 1088px,#aca7e9 0 1090px,#bdb8f9 0 1091.2px,#aea9e8 0 1092.7px,#c7c3fd 0 1094px,#d7d2ff 0 1095.8px,#cecaff 0 1097px,#b1ade1 0 1098.7px,#d9d5ff 0 1100.9px,#d3cfff 0 1103.1px,#bdb8ef 0 1104.5px,#b7b2e8 0 1106.8px,#cfcafe 0 1108.9px,#d2ceff 0 1110.4px,#cecaf8 0 1111.4px,#d2cef9 0 1113.4px,#d6d2fc 0 1115px,#d8d4fd 0 1117.3px,#e9e5ff 0 1118.7px,#c3bfef 0 1120.1px,#c1bdf1 0 1121.3px,#c8c4fa 0 1122.3px,#c5c1f7 0 1123.5px,#a39fd1 0 1124.8px,#dad7ff 0 1126.2px,#f3f0ff 0 1127.9px,#edeaff 0 1129.1px,#ece9ff 0 1130.9px,#d7d4f7 0 1132.6px,#dedaff 0 1133.7px,#bfbbed 0 1134.7px,#beb9f2 0 1135.9px,#c6c1fe 0 1138.1px,#a8a3e2 0 1139.5px,#cdc8ff 0 1141.1px,#bcb7f6 0 1142.7px,#9e99d5 0 1144.8px,#d0ccff 0 1146.9px,#d9d5ff 0 1148.1px,#ddd9ff 0 1149.5px,#d2cefc 0 1150.6px,#cbc7f7 0 1152.4px,#c7c2f5 0 1154.1px,#cac4f8 0 1155.1px,#c0b9eb 0 1156.8px,#b6aedc 0 1158.4px,#e9e0ff 0 1160px,#dbd3fc 0 1161.5px,#d9d2fe 0 1163.5px,#c4beed 0 1165.4px,#bbb6e6 0 1166.5px,#d1cdfd 0 1168.6px,#d9d5ff 0 1170.4px,#ccc8f4 0 1171.7px,#dad6ff 0 1173.3px,#ccc8f2 0 1175.4px,#dad6ff 0 1177.3px,#ddd9ff 0 1178.4px,#c1bde7 0 1180.6px,#ddd9ff 0 1182.8px,#dad6ff 0 1183.8px,#c4c0ea 0 1185.2px,#cfccf4 0 1186.4px,#dfdbff 0 1188.6px,#e5e2ff 0 1190.4px,#d0ccf1 0 1192.3px,#d9d6fa 0 1194.3px)"></div>
<div class="hc" style="left:1114px;width:120px;background:linear-gradient(#e8e5fb 0 2.1px,#f1efff 0 3.4px,#edeaff 0 4.8px,#cfcde6 0 6.6px,#e0ddf6 0 8px,#f2f0ff 0 9.5px,#eceaff 0 10.7px,#e1e0f2 0 12px,#f2f0ff 0 13.4px,#f3f2fe 0 15.5px,#f5f4fe 0 16.8px,#fcf9ff 0 17.8px,#fdfaff 0 20px,#e8e3ec 0 21.3px,#f2edf6 0 24.3px,#eee9f3 0 26.1px,#f9f4ff 0 28.2px,#f7f3ff 0 29.9px,#e6e3f4 0 32px,#e6e4f6 0 33.3px,#f0eeff 0 35px,#ece9fd 0 36.7px,#dfddf0 0 38px,#efecfe 0 40.2px,#eae8f8 0 41.3px,#faf8ff 0 42.9px,#f5f3ff 0 44.6px,#dcd9ea 0 46.8px,#faf8ff 0 48.8px,#e9e6f9 0 50.2px,#ddd9eb 0 51.5px,#f3f0ff 0 53.2px,#f7f4ff 0 54.8px,#f4f1fd 0 57px,#e7e4f0 0 58.1px,#f9f6ff 0 60.3px,#ebe9f3 0 61.9px,#fdfbff 0 63.3px,#fcfbff 0 64.5px,#faf8fd 0 65.8px,#fbf9fd 0 67.2px,#faf8fc 0 69.3px,#f2f0f5 0 71.2px,#fefcff 0 72.9px,#fcfafe 0 74.4px,#f5f3f7 0 75.6px,#fdfaff 0 76.8px,#f7f4fa 0 78px,#f7f4fb 0 79.6px,#fefaff 0 81.2px,#e0dce7 0 82.4px,#fef8ff 0 83.5px,#e2dae4 0 84.8px,#f1e9ee 0 86.5px,#fff6f9 0 88.5px,#f6eef1 0 90.2px,#f9f3f8 0 91.6px,#fbf6ff 0 93.1px,#f0edf8 0 95.1px,#e7e5f2 0 96.8px,#f9f7ff 0 98.6px,#edeaf7 0 99.9px,#f2eff9 0 101.2px,#f6f1f8 0 102.6px,#fef7fb 0 103.8px,#fef6f8 0 106.1px,#f0e8eb 0 107.5px,#f6eff3 0 109.6px,#f5eff5 0 110.7px,#fdf8ff 0 111.8px,#f7f2fb 0 113.9px,#e3e0ea 0 116.1px,#fbf8ff 0 118px,#eceaf5 0 119.8px,#f9f7ff 0 121px,#fcfbff 0 122.8px,#f0eef8 0 124.1px,#f3f0fb 0 125.8px,#f7f4ff 0 127.8px,#f5f2fe 0 129px,#dfdbea 0 130.8px,#f2efff 0 132.7px,#eceafa 0 135.5px,#f1effd 0 137.2px,#f2f0fc 0 139.1px,#f2eff9 0 141.3px,#fffaff 0 143.2px,#f5edf5 0 144.5px,#ede3ec 0 146.5px,#e3d8e3 0 147.5px,#f1e7f5 0 148.7px,#ebe3f4 0 150.4px,#ddd8eb 0 152.5px,#e7e3f6 0 153.6px,#efecfc 0 155px,#f7f4ff 0 156.2px,#f5f2fc 0 157.4px,#f7f3fc 0 158.8px,#faf6ff 0 160.8px,#eeebf6 0 162.7px,#e8e5f2 0 164.4px,#f1edf9 0 166.3px,#f6f1fc 0 168.3px,#f3eff9 0 170.1px,#f3effa 0 171.5px,#f1eefb 0 172.7px,#edebfb 0 174.9px,#eae7fb 0 176.1px,#edeaff 0 178.3px,#e2e0fa 0 179.7px,#d0cde9 0 180.8px,#dfddf8 0 182.2px,#eeebff 0 183.4px,#dcd9eb 0 185.4px,#f9f5ff 0 187.5px,#f9f5fd 0 189.1px,#fffcff 0 190.5px,#faf4f5 0 191.7px,#f6f0ef 0 193.1px,#fff9f8 0 194.7px,#f9f1f0 0 196.8px,#fff8f8 0 197.9px,#f8f2f3 0 199.3px,#faf5f9 0 200.6px,#edeaf0 0 202.5px,#fcf9ff 0 203.8px,#f6f4fa 0 205.3px,#fcfaff 0 206.8px,#f8f6fc 0 208.5px,#faf7fd 0 209.6px,#f1edf2 0 211.4px,#fff9fd 0 213.2px,#f7f0f3 0 214.5px,#f3ecf0 0 216.7px,#eae4e9 0 218.6px,#f8f4fa 0 219.8px,#fbf9ff 0 221.1px,#fbfaff 0 223.7px,#fdfcff 0 224.7px,#f5f4fc 0 226.5px,#f3f1fa 0 228.7px,#fefbff 0 230.9px,#dfdbe6 0 232.1px,#f1ecf7 0 233.6px,#f3effa 0 235.4px,#f6f2fe 0 237px,#e9e6f3 0 238.6px,#f7f5ff 0 239.7px,#f0eefb 0 241.3px,#fbf9ff 0 243px,#dddae6 0 244.6px,#f9f6ff 0 246.8px,#fbf7ff 0 248.5px,#f8f4fa 0 250.1px,#f3edf1 0 251.9px,#fff7f9 0 252.9px,#f3ebec 0 254.6px,#fff7f9 0 256.3px,#fbf5fa 0 258.3px,#ece7f0 0 259.8px,#f5f1fd 0 261.7px,#ebe8f7 0 263.2px,#f1edfd 0 264.3px,#e3deec 0 265.7px,#f8f3fe 0 267.9px,#f0eaf3 0 269.5px,#f1ecf3 0 271.3px,#fffcff 0 272.3px,#f9f6fd 0 274.3px,#efecf3 0 276px,#fcf8fd 0 277.4px,#fbf5f8 0 279.4px,#f7eff0 0 281.3px,#f3ebed 0 282.2px,#fff9fe 0 283.7px,#f5f0f9 0 285.4px,#e8e4f1 0 286.6px,#dedae7 0 288.5px,#fef9ff 0 289.6px,#f8f1fa 0 291.4px,#eae2eb 0 293.4px,#f9f2fb 0 295px,#f3edfa 0 296.1px,#e2deed 0 297.8px,#f4f1ff 0 299.6px,#f1eefd 0 301.1px,#dfdbe7 0 303.1px,#faf5fe 0 305.3px,#fffaff 0 306.9px,#f4eef0 0 308.8px,#fffbfc 0 311px,#fef9fa 0 313.2px,#fffbfc 0 314.3px,#f9f5f6 0 316.1px,#f5f0f3 0 317.8px,#fefaff 0 319px,#fefbff 0 320.9px,#e5e2ec 0 322.2px,#f2f0fb 0 323.2px,#fbf9ff 0 325.2px,#f1eff8 0 327px,#f6f3fb 0 328.1px,#f9f7fd 0 329.4px,#fefbff 0 330.7px,#e9e6ec 0 332.2px,#fcf8fd 0 333.2px,#fffcff 0 334.4px,#f1ebee 0 336.6px,#fff9fc 0 338.5px,#faf4f8 0 340.5px,#fbf3f9 0 342.6px,#f1e9f0 0 344.1px,#ddd4db 0 345.6px,#fcf3f9 0 347.4px,#f5edf2 0 348.5px,#fbf4fb 0 350.1px,#fdf7ff 0 352.1px,#ece8f6 0 353.6px,#e7e5f6 0 354.7px,#dad7e9 0 355.8px,#f0eeff 0 357.7px,#faf8ff 0 359.9px,#faf9ff 0 361.3px,#e8e6f0 0 363.1px,#f7f5fd 0 365.3px,#fefbff 0 367.2px,#fffbff 0 368.2px,#f5f2f6 0 369.3px,#efebf1 0 371px,#fdfaff 0 372.7px,#faf7ff 0 374.4px,#f1effd 0 375.4px,#e5e3f4 0 376.9px,#f3f0ff 0 378.5px,#d6d3e5 0 379.8px,#eeebfb 0 381.4px,#fbf8ff 0 383px,#f5f1f9 0 384.5px,#fefafe 0 385.7px,#faf5f8 0 387.8px,#fffafe 0 389.9px,#f7f1f9 0 391.4px,#e9e4f1 0 392.8px,#eae6f5 0 394.7px,#dddaea 0 396.6px,#fbf9ff 0 398.6px,#f5f4ff 0 399.7px,#f8f6ff 0 401.1px,#e4e2f1 0 403.1px,#fbf9ff 0 404.7px,#e5e3f5 0 406.1px,#e7e5f7 0 407.9px,#edebfb 0 409.7px,#eae9f7 0 410.9px,#fbfaff 0 412.1px,#fcfaff 0 413.2px,#ebe9f1 0 414.3px,#f9f7ff 0 415.5px,#fdfbff 0 417.1px,#f1effa 0 418.2px,#e9e7f4 0 419.3px,#ebe9f8 0 421.5px,#f9f8ff 0 422.8px,#efedfd 0 424.2px,#ecebfc 0 425.2px,#e9e7fb 0 426.7px,#e9e7fc 0 428.5px,#dddbf1 0 430.4px,#f4f2ff 0 432.4px,#eeecff 0 434.4px,#cdcbe0 0 435.4px,#eae8fb 0 436.5px,#fdfcff 0 438px,#faf9ff 0 439.8px,#f0eff9 0 442px,#f3f1fb 0 444.2px,#fefcff 0 446.3px,#faf7ff 0 448.3px,#e9e5ee 0 449.9px,#f2edf4 0 451px,#eee7ed 0 453.1px,#fcf6fb 0 454.1px,#fbf7fb 0 455.9px,#f9f7fb 0 457.8px,#fbfafe 0 459.4px,#fdfcff 0 461.1px,#f9f7fe 0 463px,#f5f3f9 0 464.3px,#f1eef4 0 466.4px,#faf5fa 0 468.2px,#f8f2f5 0 470px,#fbf4f6 0 472.2px,#fff8fc 0 474.1px,#f4edf6 0 476.1px,#ede7f4 0 477.5px,#e5e0f1 0 478.7px,#d5d1e3 0 479.7px,#f9f5ff 0 481.8px,#fcf9ff 0 483.9px,#e2e0ee 0 485.5px,#f5f4ff 0 487.6px,#f0eefb 0 488.9px,#f1f0fc 0 491.1px,#f8f7ff 0 494.2px,#efeef9 0 495.3px,#f2f0fc 0 496.4px,#fdfbff 0 498.4px,#e0deeb 0 499.6px,#f4f2fe 0 500.7px,#fefcff 0 501.8px,#fbf9ff 0 504px,#dddae5 0 505.9px,#fbf9ff 0 507.2px,#f7f5ff 0 508.7px,#f8f6ff 0 510.1px,#fdfcff 0 512.1px,#f5f3ff 0 514.2px,#c9c7da 0 515.4px,#f9f7ff 0 516.5px,#e6e4f7 0 517.8px,#f8f6ff 0 519.9px,#eae8fa 0 521.2px,#e8e7f8 0 522.7px,#eeecfe 0 524.5px,#f3f0ff 0 526.6px,#dad7e8 0 527.8px,#fbf8ff 0 529.1px,#eae7f3 0 530.9px,#f8f4fe 0 533px,#f6f1fa 0 534.8px,#f0edf3 0 536.2px,#f8f5fb 0 538.2px,#fbf8fd 0 540.2px,#faf7fc 0 541.4px,#fefcff 0 542.9px,#f4f2fa 0 544px,#f3f1fc 0 545.6px,#f8f6ff 0 547.3px,#e8e6f5 0 549px,#dcd9e8 0 551.1px,#faf5ff 0 552.5px,#f9f1f6 0 554.5px,#fdefef 0 556.6px,#ffece6 0 557.9px,#f3dbd1 0 559.9px,#ffe3d7 0 561.2px,#f7dbcf 0 563px,#edd4ca 0 564.4px,#fce8e1 0 565.7px,#fff4f1 0 566.9px,#fff8f8 0 568.3px,#fffcfe 0 571.9px,#f5f1f3 0 573.4px,#fffafb 0 575.2px,#fff8f6 0 576.6px,#e9deda 0 578.4px,#fff7f3 0 579.5px,#fef3ef 0 580.6px,#fdf2ef 0 581.5px,#fff4f1 0 583.3px,#fff3ef 0 585.4px,#fcebe5 0 587.4px,#ffede5 0 589.1px,#ebd6cd 0 591.2px,#f8e3db 0 592.6px,#fff2ec 0 594px,#f3e2dd 0 595.3px,#fff9f4 0 596.8px,#fff0eb 0 598.5px,#ead7d1 0 600.3px,#ffebe4 0 601.6px,#f5e3dc 0 603.7px,#feefeb 0 605.6px,#fff6f3 0 606.6px,#f8f0f0 0 608.3px,#fffbfb 0 610.4px,#fff9f8 0 611.5px,#fff8f6 0 613.5px,#ece1de 0 614.6px,#fff8f4 0 616.2px,#f6eae6 0 617.6px,#fff6f2 0 618.9px,#faf0ec 0 620.8px,#fff6f2 0 622.8px,#fff7f2 0 623.9px,#fbf2ee 0 626.1px,#fff9f4 0 627.2px,#fdf3ed 0 628.9px,#fff5ef 0 630.1px,#fff1eb 0 632.1px,#f9e9e2 0 633.2px,#fdede7 0 635.1px,#f0e1dd 0 636.9px,#fff6f4 0 638.1px,#f8eeee 0 639.7px,#fef3f3 0 641.9px,#fdf0ed 0 644.1px,#fff0ea 0 645.4px,#f8e3db 0 647.3px,#f1dad0 0 649.4px,#ffebe0 0 651.4px,#fce5da 0 652.9px,#fce6db 0 654.6px,#ffefe5 0 656.4px,#ffe7dd 0 657.4px,#efd8ce 0 659.1px,#f4ded5 0 660.9px,#fff7ee 0 662.2px,#fff0e8 0 664.4px,#fff0e7 0 665.9px,#fde7de 0 667.5px,#f3dad0 0 668.7px,#f1d9ce 0 669.6px,#fff5eb 0 670.8px,#efd9d0 0 672.2px,#fff6ee 0 673.5px,#f8e7e0 0 675.6px,#fff1ea 0 677.3px,#fff2ec 0 678.8px,#fff9f3 0 680.6px,#f9eae4 0 682px,#f3e3de 0 683.7px,#fff1ec 0 685.5px,#f4e6e2 0 687.7px,#fff5f2 0 689.7px,#f9efee 0 691.4px,#fbf3f5 0 692.5px,#fffafe 0 693.8px,#fffaff 0 695.7px,#dbd0d6 0 697.7px,#eee0e2 0 698.7px,#fbebe9 0 699.8px,#fff6f1 0 701.2px,#efdbd5 0 703.3px,#f9e5de 0 705.4px,#ffebe5 0 706.5px,#feebe5 0 708.1px,#f0ddd8 0 710.1px,#fcebe6 0 711.7px,#f4e6e2 0 713.7px,#fcf1ef 0 715.9px,#fffaf9 0 719.4px,#fcf7f6 0 720.9px,#fffdfb 0 722.2px,#fffaf8 0 723.6px,#efe6e5 0 725.7px,#faf2f2 0 727.9px,#fffafd 0 730.1px,#eae4e9 0 731.2px,#fdf8fd 0 733px,#f9f3f7 0 735px,#f8f2f5 0 736.1px,#fbf5f6 0 738.1px,#f7f1f3 0 740.2px,#fffcfe 0 741.3px,#faf5f7 0 742.4px,#f8f2f4 0 743.6px,#f3edee 0 745.1px,#fffbfc 0 747px,#faf2f1 0 748.9px,#fdf4f3 0 749.9px,#f7edea 0 751.1px,#fff7f4 0 753px,#f5ecec 0 754.6px,#fff7fa 0 756.2px,#ebe4e9 0 757.3px,#f6eff4 0 759.2px,#fff8fa 0 761px,#fff4f3 0 762.3px,#f5e6e1 0 763.3px,#eeded7 0 765px,#fff6ef 0 768.2px,#faeee8 0 770.2px,#fdf2ed 0 771.8px,#fff8f4 0 773.2px,#fff8f5 0 775px,#f0e7e6 0 776.7px,#fff8f9 0 778.3px,#f0e7ea 0 779.2px,#f7edf2 0 782.2px,#f9ebf0 0 783.8px,#ffecf0 0 785.5px,#eed1d1 0 786.8px,#e8c0ba 0 788.4px,#f1bfb3 0 789.6px,#f5bead 0 790.6px,#fcc2ad 0 791.9px,#fdc3ad 0 793.4px,#fbc1ab 0 795.5px,#fbc1ac 0 796.5px,#fcc4ae 0 798.2px,#fcc3ae 0 800.4px,#fcc4af 0 802.1px,#fdc6b1 0 804.1px,#fbc4ae 0 805.5px,#fdc6b1 0 807.5px,#fac3ae 0 809.1px,#fbc4ae 0 811.2px,#fbc4af 0 812.6px,#fcc6b1 0 813.8px,#fac6b1 0 815.6px,#fcc9b4 0 817px,#ffccb8 0 818px,#fcc9b5 0 822.8px,#fbc7b3 0 824px,#fbc8b4 0 825.9px,#fdcab6 0 826.8px,#fac8b4 0 828.3px,#fccbb8 0 830.3px,#fdcdba 0 832.1px,#ffd0bd 0 833.5px,#fccebb 0 836.9px,#fdcfbc 0 837.9px,#fccebb 0 840px,#fdcfbc 0 842.1px,#f9cab7 0 844.2px,#fdd0bd 0 845.3px,#f9ccba 0 846.6px,#fcd1c0 0 848.2px,#fed5c4 0 850.4px,#fad3c2 0 852.2px,#ffdccb 0 854.3px,#fed8c7 0 856.5px,#fbd4c3 0 859.7px,#fbd3c2 0 863.1px,#fed7c6 0 865.1px,#fcd5c4 0 866.7px,#ffd8c7 0 868.1px,#fbd3c3 0 869.5px,#fad2c2 0 870.6px,#fbd5c4 0 872.9px,#fcd7c6 0 875px,#fedaca 0 876px,#fddaca 0 877.2px,#fedacb 0 879.1px,#fbd7c8 0 880.9px,#fcd8c8 0 882px,#fbd7c8 0 883.5px,#fad7c7 0 884.6px,#fedccd 0 886px,#feddce 0 888.1px,#ffded0 0 889.8px,#fbdacb 0 891.7px,#fcdbcc 0 893.4px,#fadacb 0 895.2px,#ffe0d1 0 896.5px,#fddfd1 0 898.3px,#fedfd2 0 899.7px,#fcded0 0 901px,#fee0d2 0 902.6px,#fcded1 0 903.7px,#fcdfd1 0 905.2px,#fcdfd2 0 907.2px,#fde1d3 0 908.7px,#fee2d5 0 909.9px,#fce1d4 0 910.9px,#fbe0d4 0 912.8px,#fde4d7 0 913.9px,#fce3d7 0 915px,#fee6da 0 917.2px,#fee7dc 0 919.4px,#fde7dc 0 921.6px,#fde8dd 0 923.6px,#fee8de 0 925.3px,#fce7dc 0 926.4px,#fee9df 0 927.7px,#fbe6dc 0 929.6px,#ffebe0 0 930.8px,#feeae0 0 932.9px,#fee9df 0 934.7px,#fae5db 0 935.9px,#fce7dd 0 937.6px,#ffebe1 0 939.3px,#ffece2 0 941.3px,#fae7dd 0 943.2px,#feebe2 0 944.5px,#fdebe2 0 945.8px,#fdece3 0 947px,#feede5 0 948px,#feeee6 0 949.7px,#fdefe7 0 951.7px,#fdefe8 0 952.7px,#fef1eb 0 954.5px,#fdf1ec 0 956.6px,#fff4f1 0 958.6px,#fcf3f2 0 960.5px,#fbf3f5 0 962px,#eae4e8 0 963.2px,#fbf6fd 0 964.4px,#f7f2fb 0 965.9px,#f8f3fe 0 967.2px,#e8e3f0 0 969.2px,#e6e2ef 0 971.1px,#f5f1fd 0 972.1px,#ede9f3 0 973.1px,#f9f6fd 0 974.8px,#fbf8fe 0 975.8px,#fbf9fe 0 977.6px,#fefdff 0 978.6px,#f3f2f8 0 979.8px,#f7f6fd 0 981.3px,#f3f2f9 0 982.8px,#fcfaff 0 984.1px,#f6f5fc 0 985.7px,#fdfbff 0 987.9px,#efecf3 0 989.8px,#f5f1f7 0 991.8px,#f9f3f9 0 993.7px,#fbf5fa 0 995.7px,#e8e2e7 0 997.7px,#f5eff4 0 999.1px,#fffaff 0 1000.1px,#faf6ff 0 1001.7px,#ebe7f3 0 1003.6px,#e6e2ef 0 1005px,#f8f4ff 0 1006.9px,#f5f1fd 0 1008.2px,#e3e0eb 0 1010.3px,#f5f2fd 0 1012.3px,#fefcff 0 1013.8px,#fdfbff 0 1015px,#e2e0ec 0 1016.5px,#fcf8ff 0 1017.8px,#e3dee9 0 1019.7px,#f3edf5 0 1021.6px,#faf4fa 0 1023.1px,#fbf6fb 0 1024.6px,#fdf8fd 0 1026.2px,#eae4ea 0 1027.8px,#f5eff5 0 1029.3px,#fff9ff 0 1031px,#f7f1fa 0 1032.9px,#e0dae4 0 1035.2px,#f1eaf4 0 1036.8px,#eee7ef 0 1039px,#fff9fd 0 1040.3px,#fff8fa 0 1041.5px,#f6eff0 0 1043.5px,#fff9f9 0 1044.6px,#fef8fb 0 1046.8px,#faf6fc 0 1049px,#f9f5ff 0 1050px,#d5d2df 0 1051.7px,#f8f6ff 0 1052.8px,#f2f0fb 0 1054.1px,#fcfbff 0 1055.6px,#f1f0f9 0 1057.4px,#faf9ff 0 1059.4px,#f5f3fd 0 1060.7px,#f8f6ff 0 1061.7px,#e6e2ed 0 1063.8px,#f3edf6 0 1065.5px,#fef6fc 0 1066.5px,#e9e0e3 0 1067.8px,#faf0f3 0 1069px,#fdf4f8 0 1071px,#fff8ff 0 1072.5px,#f5eefc 0 1074.7px,#d8d3e5 0 1076.3px,#d7d3e7 0 1078.5px,#f0ecff 0 1080.3px,#f0edfd 0 1081.7px,#f4effb 0 1083.2px,#fef8ff 0 1084.6px,#fcf4fb 0 1086px,#eae1e9 0 1088px,#dcd4de 0 1090px,#f6f0fc 0 1091.2px,#fffbff 0 1092.7px,#ece9f6 0 1094px,#f6f4ff 0 1095.8px,#efedfb 0 1097px,#eeecf9 0 1098.7px,#f3f0fc 0 1100.9px,#ece9f3 0 1103.1px,#fefaff 0 1104.5px,#f3eff6 0 1106.8px,#f0ebf4 0 1108.9px,#f9f5ff 0 1110.4px,#efecf5 0 1111.4px,#f0eef7 0 1113.4px,#fcfaff 0 1115px,#fefcff 0 1117.3px,#f4f2fb 0 1118.7px,#fcfaff 0 1120.1px,#e2dfed 0 1121.3px,#f3f0fe 0 1122.3px,#f9f3ff 0 1123.5px,#ddd6e2 0 1124.8px,#eae3ed 0 1126.2px,#f8f1f8 0 1127.9px,#f9f5fa 0 1129.1px,#fffdff 0 1132.6px,#fefdff 0 1133.7px,#fdfbff 0 1134.7px,#f8f6fe 0 1135.9px,#e9e6f0 0 1138.1px,#ebe8f2 0 1139.5px,#fefaff 0 1141.1px,#f8f2fa 0 1142.7px,#eae3e9 0 1144.8px,#f9f0f4 0 1146.9px,#fcf2f4 0 1148.1px,#fff4f6 0 1149.5px,#e6d9dc 0 1150.6px,#fff5fc 0 1152.4px,#dcd2db 0 1154.1px,#fcf3fb 0 1155.1px,#eee4ea 0 1156.8px,#f9ecef 0 1158.4px,#f7eae9 0 1160px,#f7eae7 0 1161.5px,#fff3f0 0 1163.5px,#f7ebe8 0 1165.4px,#fef3f0 0 1166.5px,#f5ecea 0 1168.6px,#fffbf9 0 1170.4px,#fcf6f6 0 1171.7px,#fbf6f9 0 1173.3px,#fbf7fd 0 1175.4px,#e3e0e8 0 1177.3px,#fbf8ff 0 1178.4px,#fbf9ff 0 1180.6px,#faf8ff 0 1182.8px,#f9f7ff 0 1183.8px,#f1eefa 0 1185.2px,#e6e4f2 0 1186.4px,#eae7f7 0 1188.6px,#f5f2ff 0 1190.4px,#e5e2ed 0 1192.3px,#fcf9ff 0 1194.3px)"></div>
<div class="hc" style="left:1234px;width:119px;background:linear-gradient(#b1aced 0 2.1px,#cfcaff 0 3.4px,#cbc7ff 0 4.8px,#cbc7fc 0 6.6px,#d1cdff 0 8px,#b4afe4 0 9.5px,#d2ceff 0 10.7px,#cecafc 0 12px,#cbc7f7 0 13.4px,#d0ccfa 0 15.5px,#d8d4ff 0 16.8px,#c4c0ed 0 17.8px,#dfdbff 0 20px,#d5d1ff 0 21.3px,#cbc7fa 0 22.8px,#beb9ef 0 24.3px,#b9b4eb 0 26.1px,#cdc8fe 0 28.2px,#c7c3f5 0 29.9px,#d1cdfb 0 32px,#d5d1fc 0 33.3px,#dfdbff 0 35px,#dbd7ff 0 36.7px,#cecaf3 0 38px,#d5d1fc 0 40.2px,#d4d0fd 0 41.3px,#d5d1ff 0 42.9px,#bdb8e8 0 44.6px,#ccc8f9 0 46.8px,#dedaff 0 48.8px,#c0bced 0 50.2px,#ccc8f8 0 51.5px,#d3cffe 0 53.2px,#c8c4f0 0 54.8px,#d2cef8 0 57px,#dbd7fd 0 58.1px,#e6e2ff 0 60.3px,#dfdcfe 0 61.9px,#dedafd 0 63.3px,#d0ccf0 0 64.5px,#d9d6f9 0 65.8px,#dcd9f9 0 67.2px,#e2dffd 0 69.3px,#e5e2fe 0 71.2px,#e8e5ff 0 72.9px,#e6e3ff 0 74.4px,#dedbf8 0 75.6px,#e2dffd 0 76.8px,#d5d2f2 0 78px,#e0ddfe 0 79.6px,#e8e5ff 0 81.2px,#d1cef1 0 82.4px,#dfdcff 0 83.5px,#d6d2f8 0 84.8px,#d3cff5 0 86.5px,#d2cff3 0 88.5px,#dcd9fb 0 90.2px,#e6e3ff 0 91.6px,#e4e1ff 0 93.1px,#ece9ff 0 95.1px,#d6d3f7 0 96.8px,#bfbbe1 0 98.6px,#d9d6fb 0 99.9px,#dad7fa 0 101.2px,#e6e3ff 0 102.6px,#f0edff 0 103.8px,#e0ddff 0 106.1px,#c3c0e4 0 107.5px,#d4d1f6 0 109.6px,#dad6fb 0 110.7px,#ebe7ff 0 111.8px,#d2cef2 0 113.9px,#d8d4fa 0 116.1px,#e8e5ff 0 118px,#c5c1ed 0 119.8px,#cdc9f8 0 121px,#c6c2f1 0 122.8px,#c6c2ef 0 124.1px,#dcd8ff 0 125.8px,#dbd7fe 0 127.8px,#dcd8fd 0 129px,#dfdcff 0 130.8px,#d4d0f6 0 132.7px,#d9d5fc 0 134.1px,#dad6ff 0 135.5px,#cac6ef 0 137.2px,#d1cdf5 0 139.1px,#d2cff3 0 141.3px,#e6e3ff 0 143.2px,#edeaff 0 144.5px,#e8e5ff 0 147.5px,#dedbf9 0 148.7px,#d9d6f7 0 150.4px,#d9d6f9 0 152.5px,#d0cdf2 0 153.6px,#e3e0ff 0 155px,#dad7fb 0 156.2px,#d0cdf0 0 157.4px,#d2cff0 0 158.8px,#eae7ff 0 160.8px,#f7f4ff 0 162.7px,#dedbfa 0 164.4px,#c7c4e6 0 166.3px,#dedbfe 0 168.3px,#d7d4f5 0 170.1px,#d0cdea 0 171.5px,#faf8ff 0 172.7px,#f6f3ff 0 174.9px,#dedbf4 0 176.1px,#dedcf5 0 178.3px,#dddbf5 0 179.7px,#eae7ff 0 180.8px,#e6e4fe 0 182.2px,#efedff 0 183.4px,#d6d3ef 0 185.4px,#d8d6f2 0 187.5px,#ebe8ff 0 189.1px,#dfddf7 0 190.5px,#eeebff 0 191.7px,#dedcf6 0 193.1px,#f1eeff 0 194.7px,#dad7f6 0 196.8px,#cfccee 0 197.9px,#dfdcff 0 199.3px,#dedaff 0 200.6px,#d5d1fa 0 202.5px,#c7c3ed 0 203.8px,#c6c2eb 0 205.3px,#ece8ff 0 206.8px,#d0ccf2 0 208.5px,#dcd9fd 0 209.6px,#e3dfff 0 211.4px,#e7e3ff 0 213.2px,#b9b5e2 0 214.5px,#cac6f4 0 216.7px,#c8c4f3 0 218.6px,#dbd7ff 0 219.8px,#cfccf7 0 221.1px,#c7c3ec 0 222.2px,#e0dcff 0 223.7px,#e4e1ff 0 224.7px,#e6e2ff 0 226.5px,#c6c3e9 0 228.7px,#d5d2f9 0 230.9px,#d1cdf4 0 232.1px,#dedaff 0 233.6px,#e4e0ff 0 235.4px,#d5d2fa 0 237px,#ccc8f3 0 238.6px,#cbc7f5 0 239.7px,#d5d1ff 0 241.3px,#d3cfff 0 243px,#b5b1e2 0 244.6px,#cac6f6 0 246.8px,#d6d2ff 0 248.5px,#dedbff 0 250.1px,#d1cdf6 0 251.9px,#d5d2f9 0 252.9px,#dedbff 0 254.6px,#d0cdf5 0 256.3px,#dbd7ff 0 258.3px,#d1cdf6 0 259.8px,#d3cff8 0 261.7px,#d6d2fb 0 263.2px,#d8d4fd 0 264.3px,#d4d1f9 0 265.7px,#d6d2fa 0 267.9px,#cfcbf0 0 269.5px,#d7d4f6 0 271.3px,#f0edff 0 272.3px,#eae7ff 0 274.3px,#d2cef3 0 276px,#c9c5ee 0 277.4px,#dbd7ff 0 279.4px,#c8c4ee 0 281.3px,#c6c3eb 0 282.2px,#e5e2ff 0 286.6px,#e9e6ff 0 288.5px,#c1bee3 0 289.6px,#d3d0f6 0 291.4px,#d5d1f6 0 293.4px,#ece9ff 0 295px,#d1ceee 0 296.1px,#dad7f3 0 297.8px,#eceaff 0 299.6px,#f1efff 0 303.1px,#f0edff 0 305.3px,#e2e0fb 0 306.9px,#ccc9e8 0 308.8px,#dbd8f9 0 311px,#e9e6ff 0 313.2px,#e1deff 0 314.3px,#bdbae3 0 316.1px,#c7c4ec 0 317.8px,#dedaff 0 319px,#e3e0ff 0 320.9px,#e0ddff 0 322.2px,#dfdcfd 0 323.2px,#d4d0f2 0 325.2px,#dbd8fc 0 327px,#ebe7ff 0 328.1px,#d5d1f9 0 329.4px,#bab6df 0 330.7px,#d1cef5 0 332.2px,#e9e5ff 0 333.2px,#e3e0ff 0 334.4px,#d0cdf1 0 336.6px,#d7d3f8 0 338.5px,#dfdcff 0 340.5px,#d4d1f7 0 342.6px,#dad6fd 0 344.1px,#d6d3fb 0 345.6px,#d8d4ff 0 347.4px,#d4d0fe 0 348.5px,#bebae9 0 350.1px,#c3bfed 0 352.1px,#d4d1fc 0 353.6px,#e2dfff 0 354.7px,#cdcaed 0 355.8px,#f3f0ff 0 357.7px,#dbd8f7 0 359.9px,#d3d1ec 0 361.3px,#e6e4fc 0 363.1px,#f2f0ff 0 365.3px,#f6f4ff 0 367.2px,#eceaff 0 368.2px,#e4e2f9 0 369.3px,#dcd9f3 0 371px,#e2dffc 0 372.7px,#e6e3ff 0 374.4px,#d8d5f7 0 375.4px,#e4e1ff 0 376.9px,#c5c1e8 0 378.5px,#d1cdf4 0 379.8px,#d8d5f9 0 381.4px,#e2dfff 0 383px,#e3e0ff 0 384.5px,#e9e6ff 0 385.7px,#dddafa 0 387.8px,#c7c4e5 0 389.9px,#efecff 0 391.4px,#d5d2f3 0 392.8px,#e1deff 0 394.7px,#e0ddff 0 396.6px,#dbd7fc 0 398.6px,#d4d0f7 0 399.7px,#d2cef6 0 401.1px,#c7c3e9 0 403.1px,#dad6f9 0 404.7px,#f6f3ff 0 406.1px,#e5e2ff 0 407.9px,#d4d1f2 0 409.7px,#d8d5f7 0 410.9px,#dad7f9 0 412.1px,#dbd8fa 0 413.2px,#e2dfff 0 414.3px,#e1deff 0 415.5px,#d7d3f4 0 417.1px,#c9c6e5 0 418.2px,#f4f1ff 0 419.3px,#eeebff 0 421.5px,#dfdcf7 0 422.8px,#e5e3ff 0 424.2px,#dbd8f6 0 425.2px,#dbd8f8 0 426.7px,#f3f0ff 0 428.5px,#c1bee1 0 430.4px,#d3d0f3 0 432.4px,#e2deff 0 434.4px,#e9e6ff 0 435.4px,#d9d5fa 0 436.5px,#d3cff6 0 438px,#d7d4fc 0 439.8px,#cac6ee 0 442px,#d0ccf2 0 444.2px,#e3e0ff 0 446.3px,#dad7f3 0 448.3px,#f0eeff 0 449.9px,#f5f3ff 0 451px,#f3f1ff 0 454.1px,#d9d7ed 0 455.9px,#e1def6 0 457.8px,#e4e2f8 0 459.4px,#f2f0ff 0 461.1px,#e5e3f6 0 463px,#f8f6ff 0 464.3px,#e7e5f8 0 466.4px,#f0eeff 0 468.2px,#e5e3f9 0 470px,#e2e0f7 0 472.2px,#dddbf2 0 474.1px,#eceaff 0 476.1px,#f5f3ff 0 477.5px,#f0edff 0 478.7px,#c4c2d8 0 479.7px,#f8f6ff 0 481.8px,#f6f4ff 0 483.9px,#e2e0f7 0 485.5px,#e8e6ff 0 487.6px,#e9e7ff 0 488.9px,#c2bfe2 0 491.1px,#d7d3f9 0 492.7px,#dfdbff 0 494.2px,#d6d2f8 0 495.3px,#cdc9ef 0 496.4px,#dddafd 0 498.4px,#e6e3ff 0 499.6px,#e2dfff 0 500.7px,#d0cdef 0 501.8px,#f2eeff 0 504px,#c9c6eb 0 505.9px,#cecaf1 0 507.2px,#dedaff 0 508.7px,#d8d5fc 0 510.1px,#d3cff5 0 512.1px,#d3cff2 0 514.2px,#dcd9f8 0 515.4px,#faf7ff 0 516.5px,#dfdcf9 0 517.8px,#dcd9f8 0 519.9px,#d2cff0 0 521.2px,#e4e0ff 0 522.7px,#e1deff 0 524.5px,#d1cef3 0 526.6px,#d1cdf4 0 527.8px,#dcd8ff 0 529.1px,#d0ccf1 0 530.9px,#d4d0f2 0 533px,#efecff 0 534.8px,#eeebff 0 536.2px,#dedbfd 0 538.2px,#c0bde1 0 540.2px,#e1deff 0 541.4px,#cbc7ea 0 542.9px,#eeebff 0 544px,#dedbf8 0 545.6px,#e7e4fe 0 547.3px,#e3e0f7 0 549px,#efecff 0 551.1px,#eeeaf9 0 552.5px,#eee7f2 0 554.5px,#fff8ff 0 556.6px,#e5dadd 0 557.9px,#f8eeee 0 559.9px,#fff9f8 0 561.2px,#fff9f7 0 563px,#f5e9e5 0 564.4px,#fff7f1 0 565.7px,#f5e4de 0 566.9px,#fff2eb 0 568.3px,#f2dfd8 0 570.1px,#f8e7e1 0 571.9px,#fdf0ec 0 573.4px,#fff6f4 0 575.2px,#fff9f7 0 578.4px,#fffaf7 0 579.5px,#f4eae6 0 580.6px,#fdf2ee 0 581.5px,#f8edea 0 583.3px,#fff4f2 0 585.4px,#fff5f2 0 587.4px,#f8ebe6 0 589.1px,#fdeee8 0 591.2px,#f7e7e0 0 592.6px,#fbebe3 0 594px,#fff9f2 0 595.3px,#fae8e1 0 596.8px,#f8e6df 0 598.5px,#feede8 0 600.3px,#f2e3e0 0 601.6px,#f2e5e4 0 603.7px,#fff6f6 0 606.6px,#fbf4f3 0 608.3px,#fffcfc 0 610.4px,#f8f3f4 0 611.5px,#fffafe 0 613.5px,#efeaef 0 614.6px,#f5eff5 0 616.2px,#f4edf3 0 617.6px,#f5eef4 0 618.9px,#f9f2f8 0 620.8px,#ede8ec 0 622.8px,#f9f5f9 0 623.9px,#fffdff 0 626.1px,#fcfafc 0 627.2px,#faf9fb 0 628.9px,#fffeff 0 630.1px,#fdfafd 0 632.1px,#fffbff 0 633.2px,#eae5eb 0 635.1px,#f4eff6 0 636.9px,#fcf8ff 0 638.1px,#f7f4ff 0 639.7px,#f5f3ff 0 641.9px,#cfcdda 0 644.1px,#fcfaff 0 645.4px,#fdfcff 0 647.3px,#fffdff 0 649.4px,#fffcfe 0 651.4px,#fffafa 0 652.9px,#f3eeec 0 654.6px,#fffbf9 0 656.4px,#fff9f6 0 657.4px,#fffcf8 0 659.1px,#f9eee9 0 660.9px,#f7ebe5 0 662.2px,#fff8f1 0 664.4px,#faede6 0 665.9px,#f6eae4 0 667.5px,#fdf3ef 0 668.7px,#fffcf9 0 669.6px,#fffaf9 0 670.8px,#fffcfd 0 672.2px,#f9f4f6 0 673.5px,#fbf6f8 0 675.6px,#f4eef0 0 677.3px,#fbf4f6 0 678.8px,#faf3f4 0 680.6px,#fbf4f5 0 682px,#faf1f3 0 683.7px,#f6ebec 0 685.5px,#fcf0ef 0 687.7px,#f2e4e1 0 689.7px,#f7eae6 0 691.4px,#fff8f6 0 692.5px,#fdf3f3 0 693.8px,#f2eaec 0 695.7px,#f8f0f4 0 697.7px,#fff9fd 0 698.7px,#e8dee1 0 699.8px,#f3e7e8 0 701.2px,#f3e7e7 0 703.3px,#fffaf9 0 705.4px,#fdf2f2 0 706.5px,#efe6e7 0 708.1px,#fff9fb 0 710.1px,#f4edf1 0 711.7px,#f6f0f5 0 713.7px,#fdf6fa 0 715.9px,#f4ecef 0 717.2px,#f0e6e8 0 719.4px,#fcf2f2 0 720.9px,#fbf1ef 0 722.2px,#f9f0ee 0 723.6px,#fffcfb 0 725.7px,#fbf3f3 0 727.9px,#f4edef 0 730.1px,#f7f2f4 0 731.2px,#fdf8fb 0 733px,#fbf6f9 0 735px,#fbf7fa 0 736.1px,#f6f1f5 0 738.1px,#fef8fd 0 740.2px,#f1eaef 0 741.3px,#f9f1f5 0 742.4px,#eee6e9 0 743.6px,#fffafc 0 745.1px,#f8f1f1 0 747px,#fff8f8 0 748.9px,#fbf4f3 0 749.9px,#faf3f2 0 751.1px,#fffbfa 0 753px,#fcf7f8 0 754.6px,#fefbfd 0 756.2px,#f7f4f9 0 757.3px,#f7f5fc 0 759.2px,#f9f8ff 0 761px,#f7f4ff 0 762.3px,#eae7f1 0 763.3px,#ede9f2 0 765px,#f8f2f8 0 767px,#fff7f9 0 768.2px,#fff6f4 0 770.2px,#fbe9e3 0 771.8px,#ebd6cf 0 773.2px,#ecd8d0 0 775px,#fff8f3 0 776.7px,#fff7f5 0 778.3px,#faf3f3 0 779.2px,#fffcfe 0 780.5px,#fbf8fc 0 782.2px,#f6f4f9 0 783.8px,#f5f3f9 0 785.5px,#f9f8ff 0 786.8px,#f8f7ff 0 788.4px,#f4f3fc 0 789.6px,#faf9ff 0 790.6px,#f6f4ff 0 791.9px,#dbd9e3 0 793.4px,#faf8ff 0 795.5px,#fcf9ff 0 796.5px,#fcf9fe 0 798.2px,#fefbff 0 800.4px,#f8f5f9 0 802.1px,#f4f0f4 0 804.1px,#f7f3f6 0 805.5px,#fffcfe 0 807.5px,#fdf9fa 0 809.1px,#fdf8f9 0 811.2px,#f5f0f3 0 812.6px,#fdf9fd 0 813.8px,#f7f3f9 0 815.6px,#efecf4 0 817px,#f1eef7 0 818px,#faf7ff 0 819.1px,#f1eef7 0 820.7px,#f4f1fa 0 822.8px,#f7f4fc 0 824px,#faf7ff 0 825.9px,#f3f0f8 0 826.8px,#faf8ff 0 828.3px,#f9f6ff 0 830.3px,#f9f4fd 0 832.1px,#e4dce3 0 833.5px,#fbf1f6 0 835px,#e9dcdf 0 836.9px,#f9ecec 0 837.9px,#fff3f2 0 840px,#fff8f5 0 842.1px,#f8eeea 0 844.2px,#fffbf6 0 845.3px,#faeeea 0 848.2px,#f9eeeb 0 850.4px,#f9eeec 0 852.2px,#fff9f7 0 854.3px,#f6ebe8 0 856.5px,#f7ebe7 0 858.7px,#fff7f4 0 859.7px,#fff4f3 0 861.3px,#eee5e5 0 863.1px,#f8f0f1 0 865.1px,#fdf7f8 0 866.7px,#fffbfb 0 868.1px,#fffafa 0 869.5px,#fffaf8 0 870.6px,#f5eeeb 0 872.9px,#fff8f6 0 875px,#fff9f6 0 877.2px,#fff9f5 0 879.1px,#f1e4df 0 880.9px,#f7e8e3 0 882px,#fff1ec 0 883.5px,#f4e5e1 0 884.6px,#fff8f5 0 886px,#efe3e2 0 888.1px,#f9eff0 0 889.8px,#fffafc 0 891.7px,#f3ecef 0 893.4px,#f3edf0 0 895.2px,#fefafe 0 896.5px,#fbf8ff 0 898.3px,#f4f1fa 0 899.7px,#f4f1fc 0 901px,#eeebf6 0 902.6px,#ede9f1 0 903.7px,#fdf7fd 0 905.2px,#fffbfe 0 907.2px,#efe8ea 0 908.7px,#faf3f6 0 909.9px,#f9f4f8 0 910.9px,#f5f2f7 0 912.8px,#fbf8fe 0 913.9px,#fbf8fd 0 915px,#f1edf2 0 917.2px,#fef9fd 0 919.4px,#fff8fa 0 921.6px,#f4e9e9 0 923.6px,#f0e2e0 0 925.3px,#fcede8 0 926.4px,#fff4ee 0 927.7px,#fff0e9 0 929.6px,#e3d2cc 0 930.8px,#fff5f0 0 932.9px,#fffbf8 0 934.7px,#fff9f7 0 935.9px,#fef3f0 0 937.6px,#fbede9 0 939.3px,#eeddd6 0 941.3px,#ffeee7 0 943.2px,#fff0e8 0 944.5px,#f0e1da 0 945.8px,#fff6f1 0 947px,#fff6f2 0 948px,#faf0ee 0 949.7px,#fdf5f6 0 951.7px,#fcf5f9 0 952.7px,#f1eaf1 0 954.5px,#e8e0e7 0 956.6px,#fff8fc 0 958.6px,#fff7f6 0 960.5px,#f3dcd4 0 962px,#f6d8cc 0 963.2px,#ffddce 0 964.4px,#f3cebf 0 965.9px,#eecbbb 0 967.2px,#ffe5d7 0 969.2px,#ffe8da 0 971.1px,#fcded0 0 972.1px,#ffe1d3 0 973.1px,#f7d4c5 0 974.8px,#f0ccbd 0 975.8px,#ffe6d7 0 977.6px,#fcd7c7 0 978.6px,#f8d2c1 0 979.8px,#ffdac9 0 981.3px,#f1c8b7 0 982.8px,#ffd5c4 0 984.1px,#ffdfcd 0 985.7px,#f8cab7 0 987.9px,#feccb8 0 989.8px,#f2bda8 0 991.8px,#ffc7b2 0 993.7px,#f9c1ac 0 995.7px,#f1bba6 0 997.7px,#ffd1bd 0 999.1px,#f9c8b5 0 1000.1px,#ffd0be 0 1001.7px,#ffd8c5 0 1003.6px,#f9cab7 0 1005px,#f4c5b2 0 1006.9px,#fecfbc 0 1008.2px,#fcccb9 0 1010.3px,#ffd4c0 0 1012.3px,#f7c6b3 0 1013.8px,#ffcdba 0 1015px,#ffccb7 0 1016.5px,#fac3ae 0 1017.8px,#f5bda8 0 1019.7px,#f3bba6 0 1021.6px,#fbc6b2 0 1023.1px,#ffd0bc 0 1024.6px,#ffd6c3 0 1026.2px,#fecbb8 0 1027.8px,#fcc7b3 0 1029.3px,#e2ae9a 0 1031px,#fdcdba 0 1032.9px,#ffddcb 0 1035.2px,#fad2c1 0 1036.8px,#ffe1d1 0 1039px,#fed5c4 0 1040.3px,#ffd4c1 0 1041.5px,#fdcab7 0 1043.5px,#f4bca7 0 1044.6px,#f8bda7 0 1046.8px,#fbbfa9 0 1049px,#efb7a2 0 1050px,#f6c4b2 0 1051.7px,#f8cebe 0 1052.8px,#fff3e5 0 1054.1px,#ffe2d5 0 1055.6px,#f8d9cc 0 1057.4px,#fddccd 0 1059.4px,#ffdbcc 0 1060.7px,#fcd6c6 0 1061.7px,#fdd5c4 0 1063.8px,#f0c7b5 0 1065.5px,#ffdac8 0 1066.5px,#ffd8c6 0 1067.8px,#fecfbc 0 1069px,#e9b9a6 0 1071px,#f5c5b2 0 1072.5px,#ffdecb 0 1074.7px,#fcd0be 0 1076.3px,#fad0be 0 1078.5px,#f1c7b6 0 1080.3px,#ffe3d2 0 1081.7px,#f8cfbf 0 1083.2px,#ffd6c5 0 1084.6px,#ffddcb 0 1086px,#eebeab 0 1088px,#f7c5b1 0 1090px,#f8c4b0 0 1091.2px,#ffd6c2 0 1092.7px,#f4c2af 0 1094px,#f6c6b3 0 1095.8px,#fdcfbd 0 1097px,#ffd3c1 0 1098.7px,#ffdbc9 0 1100.9px,#f4cbba 0 1103.1px,#f3cbba 0 1104.5px,#ffe0cf 0 1106.8px,#fad6c6 0 1108.9px,#ffdfd0 0 1110.4px,#fad8c9 0 1111.4px,#ffddcd 0 1113.4px,#f7d4c4 0 1115px,#ffe3d4 0 1117.3px,#f2d0c1 0 1118.7px,#f8d6c8 0 1120.1px,#ffe3d5 0 1121.3px,#ffecde 0 1122.3px,#eecdbe 0 1123.5px,#ffdecf 0 1124.8px,#f4d1c2 0 1126.2px,#ffe1d2 0 1127.9px,#fcd8c8 0 1129.1px,#ffe4d4 0 1130.9px,#f4cbba 0 1132.6px,#f9cdbb 0 1133.7px,#fccebb 0 1134.7px,#f6c9b6 0 1135.9px,#f1c6b4 0 1138.1px,#ffe4d4 0 1139.5px,#f3cebf 0 1141.1px,#ffe3d4 0 1142.7px,#ffe2d2 0 1144.8px,#f6d0c0 0 1146.9px,#f4ccbb 0 1148.1px,#fdd5c4 0 1149.5px,#fdd6c5 0 1150.6px,#f9d3c3 0 1152.4px,#fedaca 0 1154.1px,#ffdccc 0 1155.1px,#ffe4d4 0 1156.8px,#fbd5c5 0 1158.4px,#e6c0b0 0 1160px,#fed9ca 0 1161.5px,#ffe5d6 0 1163.5px,#ffe2d3 0 1165.4px,#ffd8c7 0 1166.5px,#f1c3b1 0 1168.6px,#f3c2af 0 1170.4px,#f4c4b1 0 1171.7px,#ffd2c0 0 1173.3px,#fdd4c3 0 1175.4px,#ffdecd 0 1177.3px,#fcd7c8 0 1178.4px,#fbd7c8 0 1180.6px,#fdd9c9 0 1182.8px,#ffdecd 0 1183.8px,#fed6c5 0 1185.2px,#efc5b4 0 1186.4px,#ffd6c4 0 1188.6px,#fed4c3 0 1190.4px,#f8cfbe 0 1192.3px,#fed5c4 0 1194.3px)"></div>
<div class="hc" style="left:1404px;width:121px;background:linear-gradient(#fbc9b5 0 1.2px,#fbcab7 0 3px,#fcceba 0 4.1px,#fdd0bd 0 5.1px,#fdd1bf 0 6.2px,#fdd2c0 0 8.1px,#fcd2c0 0 9.2px,#fcd2c1 0 10.3px,#fed5c4 0 11.4px,#fcd4c3 0 13.2px,#fed6c5 0 15.2px,#fbd3c2 0 17.4px,#fad2c2 0 18.9px,#fdd6c5 0 21px,#fad5c5 0 22.2px,#ffdbcb 0 24.2px,#fedbcb 0 25.5px,#fddacb 0 27.3px,#fbd8c9 0 28.4px,#fcdacb 0 30px,#fddbcc 0 31.3px,#fedccd 0 33.3px,#fcdacb 0 34.4px,#fddacb 0 36px,#fbd9ca 0 38.2px,#fddbcc 0 40.3px,#fbd9cb 0 41.4px,#ffdfd0 0 42.8px,#fcdcce 0 45.9px,#fdded0 0 47px,#fcded0 0 48.4px,#fde0d2 0 50px,#ffe3d5 0 52px,#ffe2d5 0 54.2px,#faddcf 0 56.2px,#fcded0 0 58.2px,#fadccf 0 59.8px,#fee2d4 0 61.3px,#fce1d4 0 62.7px,#ffe4d7 0 63.8px,#fee4d7 0 65px,#fbe1d4 0 66.2px,#fde2d6 0 68.4px,#fee4d8 0 69.6px,#fbe1d5 0 71.6px,#fce3d7 0 72.7px,#ffe7db 0 74.7px,#fbe3d7 0 76.6px,#fee7dc 0 77.9px,#fde6db 0 80px,#fde7dc 0 81.5px,#fde8de 0 85.6px,#ffebe1 0 88.8px,#fde9df 0 90.2px,#fae7dd 0 92px,#fde9e0 0 93.4px,#ffede3 0 95.3px,#ffece2 0 96.8px,#fde9e0 0 97.9px,#fdeae0 0 99px,#fbe7dd 0 100.8px,#fde9df 0 102.1px,#feebe1 0 103.6px,#ffece3 0 105.1px,#feece3 0 107px,#fceae1 0 109.1px,#feede4 0 110.3px,#fdebe3 0 112.4px,#fdece3 0 113.4px,#fcebe3 0 114.8px,#feede5 0 116.9px,#ffefe7 0 118.8px,#fdede5 0 120.2px,#fbebe3 0 122.1px,#feeee7 0 123.8px,#fceee7 0 125.9px,#fff2eb 0 127.6px,#fef1ea 0 129.3px,#fef1eb 0 130.5px,#fff2ec 0 131.8px,#fef1eb 0 135.1px,#fcf0ea 0 137px,#fef2eb 0 138.4px,#fff3ee 0 140.7px,#fff4ee 0 142.3px,#fcf0ea 0 143.4px,#fcf1eb 0 144.9px,#fef3ee 0 146.6px,#fdf3ee 0 148.7px,#fcf3ef 0 150.9px,#fff8f5 0 153px,#fff9f6 0 154.3px,#fef8f6 0 155.6px,#fffaf8 0 157.2px,#fff9f7 0 159.5px,#fffaf7 0 161px,#fcf8f5 0 162.4px,#fefaf8 0 163.7px,#fffbfa 0 165.3px,#fffefc 0 167.5px,#fffdfc 0 168.9px,#fdfbfb 0 170.9px,#fefcfc 0 172.6px,#fffdfe 0 174px,#fefdfe 0 177.7px,#fefdfd 0 181.7px,#fffeff 0 184.4px,#fbfafd 0 185.7px,#faf9fd 0 186.8px,#faf6f9 0 187.9px,#fdf6f7 0 189px,#fff8f5 0 190.5px,#feeae3 0 192.6px,#edd4ca 0 194.7px,#edd2c7 0 195.7px,#ffe8dc 0 196.7px,#ffe9de 0 198.5px,#fff2e7 0 200.4px,#f4dbd0 0 202.5px,#ffe9dd 0 204.6px,#fde0d3 0 206.1px,#efd0c2 0 207.5px,#ffe1d3 0 209.2px,#fdded1 0 210.7px,#ffe2d5 0 212.4px,#ffe1d3 0 213.8px,#ffdfd0 0 216px,#f5d3c4 0 217.1px,#f8d6c7 0 218.7px,#fddcce 0 220.5px,#ffe3d5 0 221.5px,#f8dbce 0 222.9px,#f8ded2 0 225px,#ffefe4 0 226px,#fae4d9 0 227.8px,#fff0e5 0 229px,#f5dfd4 0 230.4px,#fde6db 0 232.5px,#ffebe0 0 234px,#f8e1d5 0 235.4px,#fee7db 0 237.5px,#fbe4d9 0 238.7px,#fce5da 0 240.3px,#fff0e6 0 241.3px,#fae3d8 0 243.4px,#f6dfd4 0 245.1px,#ffeadf 0 247.1px,#ffe7dc 0 248.2px,#fde5da 0 249.5px,#f6dfd4 0 251.1px,#ffeee3 0 253.3px,#ffe8dc 0 255.1px,#f1d8cc 0 256.6px,#ffe6db 0 258.6px,#ffe7dc 0 261.9px,#ffe9dd 0 263px,#fbe4d9 0 264.4px,#f1dbd0 0 266.2px,#ffeee4 0 267.5px,#fff0e8 0 268.9px,#ffeee6 0 271px,#fff1e9 0 272.7px,#fbe9e0 0 273.9px,#ffece3 0 275.6px,#f8e2d8 0 277.8px,#f9e3d9 0 279.5px,#ffebe0 0 281.7px,#fde8de 0 283.7px,#fae6dd 0 285px,#ffede5 0 286.7px,#fbebe3 0 287.9px,#fdefe9 0 289.7px,#fff9f3 0 291.8px,#fff7f0 0 293px,#fdeee6 0 294.2px,#fcebe2 0 296px,#f6e3db 0 297.8px,#f8e6de 0 299.3px,#fff1e9 0 301.1px,#fcefe9 0 302.6px,#fff9f4 0 304.6px,#fff7f1 0 306.2px,#fef3ee 0 308px,#f8ede7 0 309.1px,#fff8f2 0 310.3px,#f5eae5 0 311.9px,#fffbf5 0 313.8px,#fff8f2 0 315.2px,#fff3ec 0 317.1px,#edddd5 0 318.6px,#fff2ea 0 319.9px,#fceae2 0 321.8px,#f7e7df 0 323.8px,#fff0e9 0 325.2px,#fffaf3 0 327px,#fdefe7 0 328px,#fbece4 0 330.1px,#f9e9e1 0 332.9px,#fff5ee 0 334.2px,#fff6ee 0 336.3px,#f0e1d9 0 338.1px,#fff5ee 0 339.4px,#fbece5 0 340.9px,#fbeee7 0 342.1px,#fdf1eb 0 343.3px,#fff5f0 0 344.7px,#fff9f4 0 346.8px,#fdf3ee 0 348.2px,#fff8f3 0 350px,#fff3ed 0 351.9px,#f5e5de 0 352.9px,#ffeee5 0 355.1px,#f9e6dc 0 356.3px,#ffeee4 0 357.7px,#f9e3d8 0 359.9px,#fce6db 0 361.4px,#f6e0d6 0 363px,#fce9df 0 364.7px,#fff2ea 0 365.9px,#fff3eb 0 367.5px,#f8e9e2 0 369.6px,#fff6ef 0 371.2px,#f9e9e1 0 372.5px,#fff1e9 0 373.5px,#fceae2 0 374.7px,#f2e1d9 0 376.2px,#fcede6 0 377.2px,#fff4ee 0 378.6px,#fffaf5 0 380.4px,#fdf3ee 0 382.1px,#fdf2ed 0 384.2px,#f9eee9 0 385.7px,#fff8f3 0 387.7px,#fef3ee 0 390.2px,#f7ebe6 0 391.2px,#fff7f3 0 392.3px,#fbf0ec 0 393.3px,#f8eeea 0 395.2px,#fff8f4 0 396.5px,#fbf3f1 0 398.6px,#fff9f7 0 399.7px,#fffcfb 0 401.6px,#fcf5f4 0 403.8px,#fff7f5 0 405.3px,#f7eeeb 0 406.7px,#fff6f2 0 408.5px,#fdf3ef 0 409.8px,#fef5f0 0 410.8px,#f7eee9 0 412px,#fffcf8 0 413.5px,#fff9f6 0 415.1px,#f9f3f1 0 416.7px,#fffcfb 0 418.8px,#fcf6f5 0 420.4px,#fef7f5 0 421.7px,#fcf4f0 0 423.7px,#fdf3ef 0 425.1px,#faf0eb 0 426.5px,#fef4ef 0 428.7px,#fcf3ee 0 430.2px,#fff9f5 0 432px,#fffbf7 0 433.7px,#fcf3ef 0 435px,#fff8f4 0 436.3px,#f7eeea 0 438.5px,#fcf4f1 0 440px,#fffaf8 0 441.6px,#fffcfb 0 443.6px,#faf6f6 0 445.7px,#fdf9f9 0 447.6px,#fefaf9 0 450.6px,#fdf9f7 0 451.9px,#fdf9f8 0 453.7px,#fffefd 0 455.7px,#fdfafa 0 456.7px,#fffdfd 0 458.9px,#fef9f9 0 460px,#fff9f8 0 462.1px,#f3ecea 0 464px,#fffcfa 0 466.2px,#fffbf8 0 467.4px,#fffaf8 0 469.1px,#fcf5f3 0 470.5px,#f8f2ef 0 471.6px,#fef8f6 0 473.5px,#faf5f4 0 475.4px,#fffbfa 0 476.8px,#fffdfd 0 478.9px,#fffefe 0 480.1px,#fffcfd 0 481.1px,#f5f2f4 0 483.3px,#f9f6f7 0 485.2px,#fefcfd 0 487px,#faf7f9 0 488.3px,#fffdfe 0 490.5px,#fefdfe 0 492.4px,#fffeff 0 494px,#fefdfd 0 495.2px,#fffeff 0 497.1px,#fdfafb 0 499.1px,#f9f6f7 0 500.7px,#fcfafb 0 502px,#fffcfe 0 504.1px,#fbf9fc 0 505.8px,#f8f6f8 0 507.5px,#fefcfd 0 508.6px,#fffefe 0 510px,#fcf8f8 0 511.5px,#f9f5f6 0 512.7px,#fbf7f9 0 514.1px,#faf7f9 0 516.1px,#fbf8fb 0 517.4px,#faf8fb 0 519.5px,#faf8fa 0 520.6px,#fefcfe 0 522.7px,#fffdfe 0 524.6px,#f9f6f7 0 526.6px,#fefbfc 0 528.7px,#fdfafb 0 530.1px,#fbf8fa 0 532px,#fbf9fa 0 533.7px,#fefdff 0 534.9px,#fffeff 0 535.9px,#faf9fc 0 536.9px,#fcfbff 0 538.5px,#f7f6fb 0 539.7px,#f6f4fa 0 541.2px,#f2f1f7 0 542.9px,#fdfbff 0 544.9px,#faf8fc 0 546.1px,#fefcff 0 547.6px,#fef9fc 0 549.6px,#fff9fb 0 551.1px,#f7e7e7 0 552.9px,#ffeeea 0 554.5px,#e7c1b7 0 555.9px,#f7c5b6 0 557.1px,#f9c1ad 0 558.4px,#ecb09b 0 560.3px,#ffc6b0 0 561.4px,#fcc1ab 0 563.4px,#ffc6b1 0 565.2px,#f9c0aa 0 567.4px,#fdc4ae 0 569.1px,#fcc3ad 0 570.9px,#ffc8b2 0 572.3px,#f1b9a4 0 573.3px,#f5c0ab 0 575.2px,#ffcebb 0 576.8px,#ffd2c0 0 578.8px,#fdd5c4 0 579.8px,#f7d3c4 0 581.1px,#ffe3d5 0 582.4px,#ffe0d2 0 583.8px,#ffe3d5 0 585.3px,#f4d3c4 0 587.2px,#ffe0d0 0 589.1px,#f6d1c1 0 590.6px,#ffd9c9 0 592.4px,#ffd5c4 0 594.3px,#f5c8b6 0 595.5px,#ffd5c2 0 597.3px,#f1c0ad 0 598.6px,#ffcdba 0 600.6px,#ffd2be 0 602.2px,#efbba7 0 603.5px,#f5c2ae 0 604.6px,#feceba 0 606.1px,#ffd2bf 0 607.1px,#ffd6c3 0 609.1px,#f7cab8 0 610.7px,#faccba 0 612.7px,#ffd8c5 0 614.4px,#f6c6b3 0 616.2px,#f8c7b3 0 617.6px,#f9c8b4 0 618.9px,#ffd3bf 0 621px,#facab7 0 622.7px,#facbb7 0 624.6px,#fbcdba 0 626.4px,#fdd2bf 0 627.7px,#fcd3c2 0 629.5px,#f5cfbf 0 631.5px,#ffe4d4 0 633.2px,#f9d6c7 0 634.5px,#ffe8d9 0 636.6px,#fdd6c7 0 638.2px,#eec7b6 0 640.1px,#f1c9b9 0 641.9px,#ffe0d0 0 643.4px,#ffe1d1 0 644.5px,#fad7c8 0 646.1px,#f7d4c5 0 648.1px,#ffe0d1 0 650.1px,#ffdbcb 0 652.2px,#fbd6c6 0 653.5px,#ffd9c9 0 654.8px,#edc4b3 0 656.3px,#ffd9c8 0 658.2px,#ffd7c7 0 659.8px,#ffd9c8 0 661.1px,#f2cab9 0 662.2px,#fed7c7 0 664.4px,#f8d3c3 0 666.6px,#ffdfd0 0 668.2px,#ffe3d5 0 669.9px,#f8d9cc 0 671.1px,#f8dbce 0 672.8px,#ffe6d9 0 676.3px,#fde1d4 0 677.6px,#f7dacd 0 678.5px,#f6dacd 0 680.7px,#fae0d4 0 682.7px,#fff0e5 0 684.4px,#ffe9de 0 685.4px,#fbe3d8 0 686.6px,#fee4d9 0 687.9px,#fde3d7 0 689.1px,#f6dcd0 0 691.1px,#f1dacf 0 693.1px,#ffeee6 0 694.7px,#fff8f2 0 696.1px,#faefea 0 697.1px,#fffcf7 0 698.7px,#fffbf6 0 699.9px,#f8ebe4 0 701.7px,#feede4 0 702.8px,#fce8df 0 704.3px,#f9e3d9 0 705.7px,#f7e1d7 0 707.8px,#ffefe5 0 710px,#fbe7de 0 712.1px,#fff2e8 0 714.2px,#fbe6dc 0 716.1px,#f9e4da 0 717.5px,#f5e1d7 0 719.1px,#ffece3 0 721.1px,#fff4eb 0 722.1px,#ffefe6 0 723.1px,#f9e4da 0 724.8px,#ffe8de 0 727px,#fae2d6 0 728px,#f1d9ce 0 729.4px,#ffeae0 0 731.1px,#fff4ea 0 732.4px,#fce8df 0 734.6px,#f4e0d7 0 736.4px,#fff4eb 0 737.7px,#ffeee5 0 739.3px,#f1ddd3 0 740.6px,#ffebe1 0 741.8px,#feeae1 0 742.9px,#fbe7dd 0 744.6px,#fff3e9 0 746.2px,#ffe8dd 0 747.6px,#f4dacf 0 748.7px,#f3dacf 0 750.2px,#f8e1d7 0 751.6px,#fff4eb 0 753px,#fff2eb 0 754.6px,#fbf0eb 0 756.5px,#fffaf6 0 758.3px,#fef5f1 0 759.9px,#fff8f4 0 761.7px,#f7ede9 0 763.1px,#f9efeb 0 765.3px,#fffaf6 0 766.7px,#fdf6f2 0 768.4px,#fffbf9 0 770.3px,#fffaf7 0 771.8px,#fcf7f5 0 772.9px,#fffcfa 0 774.7px,#fffbf9 0 775.8px,#fdf7f4 0 778px,#faf3f0 0 780.1px,#fffbf8 0 782px,#fbf3f0 0 783.4px,#fff9f5 0 785.4px,#fff9f6 0 786.8px,#f4e9e6 0 788.8px,#faeeec 0 790.7px,#ece1e0 0 792.6px,#fff8f8 0 796px,#fdf7f8 0 797.5px,#fffbfd 0 799.7px,#f3ecee 0 801.6px,#f3ebeb 0 803.1px,#fff5f4 0 804.1px,#f9eeec 0 805.7px,#fff4f1 0 807.9px,#fff5f1 0 809.7px,#fff4f0 0 810.9px,#ede2e0 0 812.1px,#fef5f6 0 813.6px,#f9f3f5 0 815.2px,#faf7fa 0 817.4px,#fffcff 0 819.3px,#fcf8fa 0 821px,#fffbfb 0 822.1px,#fffaf8 0 823.9px,#f8ebe8 0 825.5px,#ecddd9 0 827.1px,#fdeeea 0 829.1px,#fff4ef 0 830.7px,#fdeee9 0 831.8px,#f7e9e3 0 833.1px,#fdf0ea 0 834.5px,#fcf1ec 0 836.3px,#fff9f6 0 838.5px,#f9f2f2 0 840.2px,#faf5f8 0 842.2px,#fcf8fe 0 843.4px,#ebe8ef 0 845.3px,#f8f5fc 0 846.6px,#f9f7fd 0 848.3px,#f9f7fc 0 849.5px,#fcfbfe 0 850.9px,#fcfafe 0 852.2px,#fefdff 0 853.2px,#fdfcff 0 854.7px,#f6f4fb 0 855.9px,#eae8ef 0 857.5px,#faf6fd 0 858.8px,#f8f2f8 0 860.3px,#fff8fc 0 862.2px,#ebe1e4 0 864.4px,#eee3e4 0 866.3px,#f6ecec 0 867.7px,#fffcfb 0 869.9px,#fffbfb 0 871.2px,#fffafa 0 872.4px,#fdf8f8 0 874.6px,#fffafa 0 876.1px,#f5f0f1 0 877.4px,#faf5f7 0 879.2px,#fffafc 0 880.6px,#f7f2f4 0 881.8px,#fffafc 0 883.9px,#f7f2f4 0 886.4px,#faf6f8 0 888.5px,#faf7f9 0 889.7px,#fffcfe 0 891.1px,#fbf8fc 0 893.1px,#f8f6fc 0 894.1px,#fcfaff 0 896.1px,#e6e5f0 0 898px,#fbfaff 0 899px,#f1effd 0 900.9px,#dad8e6 0 902.7px,#f7f4ff 0 904.5px,#fcf7ff 0 905.5px,#fef7fb 0 906.5px,#ebe4e6 0 907.9px,#fffafc 0 909.9px,#faf5f8 0 911.3px,#f2eff2 0 912.4px,#fffdff 0 914.1px,#fdfafc 0 915.5px,#fffafb 0 916.7px,#faf4f4 0 918.8px,#fdf6f6 0 920.6px,#f1eaeb 0 922.3px,#f6eff0 0 923.3px,#fdf6f7 0 924.9px,#fffcfb 0 926.6px,#fff4f1 0 927.6px,#ebddda 0 929.2px,#fff9f5 0 931.3px,#f6eae8 0 933.4px,#f4e9e8 0 935.5px,#fdf3f3 0 937.3px,#f8f0f0 0 938.3px,#fff9fa 0 940.1px,#f8f0f2 0 942px,#f8f1f3 0 944.1px,#f2eaec 0 945.7px,#f9f2f5 0 948px,#f6f0f4 0 949.6px,#fbf7fc 0 951.4px,#faf7fd 0 953.2px,#f6f4f9 0 954.2px,#fbf8fd 0 955.5px,#f8f4f8 0 957.2px,#f1ecf0 0 959.2px,#fcf7fd 0 960.9px,#fcf8ff 0 962px,#eae8f1 0 963.4px,#f5f4ff 0 966.7px,#f9f7ff 0 968.2px,#e2e0f0 0 969.7px,#e0deee 0 971.2px,#f8f6ff 0 972.5px,#fbfaff 0 973.6px,#f4f3fd 0 975.3px,#e7e5ee 0 976.8px,#fefcff 0 978.9px,#f8f6fa 0 980.2px,#fefcff 0 981.8px,#f8f6f9 0 983.5px,#fefcff 0 984.5px,#fbf9fc 0 985.6px,#fefcff 0 987.7px,#f8f6fa 0 989.3px,#f6f3fb 0 990.4px,#faf8ff 0 992.4px,#e5e3f0 0 994.2px,#edebfa 0 995.6px,#edebfb 0 996.6px,#fbf9ff 0 998.3px,#dddbec 0 999.7px,#f1f0ff 0 1001.4px,#efedfc 0 1003.2px,#f2f1fd 0 1005.3px,#edebf5 0 1006.7px,#fffdff 0 1008.9px,#fffcff 0 1010px,#faf8fb 0 1011.5px,#f8f6f9 0 1013.7px,#fcfafe 0 1014.9px,#fcf9ff 0 1016.8px,#f1eff9 0 1018.6px,#edeaf7 0 1020.7px,#f8f4ff 0 1022.9px,#dad6e6 0 1024.8px,#e7e3f2 0 1026.8px,#f7f3fe 0 1027.9px,#fcf8ff 0 1029.9px,#faf6fa 0 1032.1px,#fdf8fb 0 1033.1px,#f7f1f3 0 1034.5px,#f4eeef 0 1036px,#f9f2f3 0 1037.5px,#fffafa 0 1039.2px,#f8f0f0 0 1040.7px,#fbf4f4 0 1042.4px,#fcf5f5 0 1044.3px,#fcf6f6 0 1045.7px,#faf4f5 0 1046.8px,#f7f1f3 0 1048.8px,#fdf8fd 0 1050.7px,#f7f3fc 0 1052.8px,#eeecf8 0 1054.7px,#edeaf9 0 1056.1px,#eeecfc 0 1057.6px,#e4e2f1 0 1059.2px,#f0edfa 0 1060.3px,#fbf7ff 0 1061.8px,#f9f4fa 0 1064px,#f1ecf0 0 1065.9px,#f6f0f3 0 1068px,#fffbfd 0 1069.5px,#fffdfe 0 1071.3px,#fcf9fa 0 1072.5px,#fbf9fa 0 1073.5px,#fdfbfe 0 1074.6px,#f9f7fc 0 1076.1px,#fbfaff 0 1077.3px,#edecf4 0 1078.7px,#f4f2fc 0 1079.7px,#f5f3fd 0 1081.6px,#f9f6ff 0 1082.7px,#faf7ff 0 1083.9px,#ddd8e4 0 1085.8px,#ede7f1 0 1087.9px,#fdf5fa 0 1088.9px,#fff4f4 0 1091px,#faece8 0 1092.9px,#ffefe8 0 1094.7px,#ffede5 0 1095.8px,#edd8d1 0 1096.9px,#efdcd8 0 1098.7px,#fff7f8 0 1100.7px,#ede3e7 0 1101.9px,#f8f0f7 0 1104px,#fcf4fd 0 1105.9px,#ebe3ed 0 1107.9px,#e9e2ef 0 1109.7px,#eee8f8 0 1111.4px,#e4e1f2 0 1112.6px,#e9e6f6 0 1114.2px,#f6f4ff 0 1115.8px,#f4f3ff 0 1117.4px,#fbfaff 0 1118.5px,#f9f8ff 0 1119.8px,#f1efff 0 1121.5px,#eceaff 0 1123.2px,#dddaf8 0 1124.6px,#c3c0e1 0 1126px,#e4e1ff 0 1127.2px,#d7d4f3 0 1128.8px,#d7d3ed 0 1130.8px,#f8f5ff 0 1132.6px,#f7f4ff 0 1134.6px,#e8e5f2 0 1136.7px,#f2f0fa 0 1137.9px,#faf7ff 0 1139.6px,#f9f7ff 0 1141.6px,#fcfaff 0 1143.4px,#f4f2fc 0 1145.5px,#e5e3ef 0 1147.5px,#f2f0fb 0 1149.6px,#f5f2fc 0 1151.7px,#fbf8ff 0 1153.4px,#f7f3fb 0 1154.7px,#f4f0f8 0 1155.7px,#faf7ff 0 1156.7px,#ede9f4 0 1158.3px,#f5f1fe 0 1159.3px,#f3edfc 0 1161.2px,#d8d2e2 0 1163.3px,#e4deed 0 1164.8px,#f7f2fe 0 1166.9px,#f4f0f8 0 1168px,#fffbff 0 1169.1px,#f8f5fa 0 1170.9px,#f8f5fb 0 1173.1px,#f5f3fa 0 1174.6px,#f9f7ff 0 1176.8px,#eceaf7 0 1178px,#fbf9ff 0 1179.1px,#f1efff 0 1180.7px,#c7c4db 0 1181.6px,#dbd7ed 0 1183.8px,#f9f4ff 0 1185.4px,#f7f2ff 0 1187px,#ede8f3 0 1188.6px,#f8f3fc 0 1189.6px,#ebe8f0 0 1190.6px,#f8f6fe 0 1192.2px,#fbf9ff 0 1194.3px)"></div>
<div class="hc" style="left:1525px;width:122px;background:linear-gradient(#fcfbff 0 1.2px,#f9f8ff 0 3px,#c5c3d3 0 4.1px,#faf9ff 0 5.1px,#f8f7ff 0 6.2px,#f8f6ff 0 8.1px,#fcfaff 0 9.2px,#f3f2f8 0 10.3px,#fcfbff 0 13.2px,#f5f3fb 0 15.2px,#e8e7ee 0 17.4px,#fefdff 0 18.9px,#fdfbff 0 21px,#fffdff 0 22.2px,#fbf7fc 0 24.2px,#faf4fa 0 25.5px,#f4ecf2 0 27.3px,#e6dde5 0 28.4px,#eee5ef 0 30px,#e8e1ea 0 31.3px,#fdf8ff 0 33.3px,#fef9ff 0 36px,#fbf6fe 0 38.2px,#e1dce5 0 40.3px,#ebe4ee 0 41.4px,#f4edf5 0 42.8px,#faf4fb 0 44px,#f7f2f9 0 45.9px,#fdf9ff 0 47px,#ebe9f2 0 48.4px,#f0eef8 0 50px,#f8f5fe 0 52px,#fffbff 0 54.2px,#f8f3fa 0 56.2px,#e1dbe2 0 58.2px,#faf4f9 0 59.8px,#fef8fc 0 61.3px,#fdf7f9 0 62.7px,#faf4f6 0 63.8px,#fffafd 0 65px,#faf3f9 0 66.2px,#e4dee6 0 68.4px,#f6f0fc 0 69.6px,#f4effd 0 71.6px,#dedae9 0 72.7px,#eae7f5 0 74.7px,#fdfbff 0 77.9px,#faf7fb 0 80px,#fdf7fa 0 81.5px,#fff7f9 0 83.5px,#eae1e3 0 85.6px,#fdf5f9 0 87.2px,#ede7ed 0 88.8px,#f7f2fa 0 90.2px,#f9f5fd 0 92px,#f3eef7 0 93.4px,#f4eff7 0 95.3px,#f4eff6 0 96.8px,#f1ebf2 0 97.9px,#fffbff 0 99px,#eae5ee 0 100.8px,#f3eefa 0 102.1px,#f5f0ff 0 103.6px,#e4e0f3 0 105.1px,#dcd8ed 0 107px,#e1def3 0 109.1px,#f0edff 0 110.3px,#f9f7ff 0 112.4px,#e0deef 0 113.4px,#eeecfb 0 114.8px,#f9f7ff 0 116.9px,#f4f2fe 0 118.8px,#e6e2ec 0 120.2px,#fef9ff 0 122.1px,#fffafe 0 123.8px,#f1eaec 0 125.9px,#fbf4f4 0 127.6px,#fff9f9 0 129.3px,#f6f1f2 0 130.5px,#fffcfe 0 131.8px,#fcf9fd 0 133.2px,#f4f1f8 0 135.1px,#fbf8ff 0 137px,#e4e0e9 0 138.4px,#f6f0f6 0 140.7px,#fffafd 0 142.3px,#fcefee 0 143.4px,#f1e2de 0 144.9px,#f3e3e2 0 146.6px,#fff4f7 0 148.7px,#f8eef7 0 150.9px,#ded6e5 0 153px,#f8f1ff 0 154.3px,#cec7d7 0 155.6px,#f3ecf9 0 157.2px,#f3ecf5 0 159.5px,#fcf6fb 0 161px,#fffbfe 0 162.4px,#f8f3f8 0 163.7px,#fcf8ff 0 165.3px,#efecf8 0 167.5px,#f2efff 0 168.9px,#dcd9ec 0 170.9px,#e3e1f3 0 172.6px,#eeecfb 0 174px,#fffcff 0 176.2px,#faf7ff 0 177.7px,#e6e2e9 0 179.9px,#f8f4fb 0 181.7px,#fffcff 0 183px,#f3f0f5 0 184.4px,#f8f4fa 0 185.7px,#f9f4f8 0 186.8px,#fcf2f6 0 187.9px,#fff0f0 0 189px,#ffeae6 0 190.5px,#e8c0b6 0 192.6px,#f0beae 0 194.7px,#f5bca9 0 195.7px,#f9bea9 0 196.7px,#ffc5af 0 198.5px,#fcc1ab 0 202.5px,#fec3ac 0 204.6px,#fbbfa9 0 206.1px,#f9bda6 0 207.5px,#fabea8 0 209.2px,#fec3ac 0 210.7px,#f9bea8 0 212.4px,#ffc3ad 0 213.8px,#fdc1ab 0 216px,#fabea7 0 217.1px,#fabea8 0 218.7px,#fabfa8 0 220.5px,#fcc1ab 0 221.5px,#fdc4ae 0 222.9px,#fcc4ae 0 225px,#fcc5af 0 226px,#fdc7b2 0 227.8px,#fcc6b1 0 230.4px,#fbc5b0 0 232.5px,#fec7b1 0 234px,#fbc3ad 0 237.5px,#f9c1ac 0 240.3px,#fdc7b2 0 241.3px,#fec9b4 0 243.4px,#fdc9b4 0 245.1px,#fcc9b4 0 247.1px,#fcc9b5 0 248.2px,#fcc9b4 0 249.5px,#fac7b2 0 251.1px,#ffcdb8 0 253.3px,#fdcab6 0 255.1px,#f8c5b0 0 256.6px,#fecbb6 0 258.6px,#fcc8b4 0 260.3px,#fac6b2 0 261.9px,#fac7b3 0 263px,#fdccb7 0 264.4px,#fecdba 0 266.2px,#fcccb9 0 268.9px,#fbcbb8 0 271px,#ffcfbb 0 272.7px,#fdccb8 0 273.9px,#fdcbb7 0 275.6px,#fac7b3 0 277.8px,#f8c6b1 0 279.5px,#feccb8 0 281.7px,#fccbb8 0 283.7px,#feceba 0 285px,#fcccb8 0 286.7px,#fcccb9 0 287.9px,#fccdb9 0 289.7px,#fbccb9 0 291.8px,#faccb9 0 293px,#fdd0bd 0 294.2px,#fed2bf 0 296px,#fbd0bd 0 297.8px,#fbd0be 0 299.3px,#fbd1bf 0 301.1px,#fed5c3 0 302.6px,#fcd4c3 0 304.6px,#ffd7c6 0 306.2px,#fcd4c3 0 308px,#fdd5c4 0 309.1px,#fbd3c2 0 310.3px,#fcd4c3 0 311.9px,#fdd5c4 0 313.8px,#fdd6c5 0 315.2px,#fcd5c5 0 317.1px,#fcd5c4 0 318.6px,#fed6c6 0 319.9px,#fcd4c3 0 321.8px,#fad2c1 0 323.8px,#fcd4c3 0 325.2px,#ffd7c6 0 327px,#fdd6c5 0 328px,#f9d2c1 0 330.1px,#fdd7c6 0 331.1px,#ffdaca 0 332.9px,#fed7c7 0 334.2px,#fad3c2 0 336.3px,#f9d2c1 0 338.1px,#fbd4c4 0 339.4px,#fdd7c7 0 340.9px,#ffdbcb 0 342.1px,#fcd8c8 0 343.3px,#fbd8c8 0 344.7px,#fddaca 0 346.8px,#fcd9ca 0 348.2px,#ffddce 0 350px,#fcdacb 0 351.9px,#fad8c9 0 352.9px,#feddce 0 356.3px,#fddbcc 0 359.9px,#fbd9ca 0 363px,#fddccd 0 364.7px,#fadacb 0 365.9px,#fedfd1 0 367.5px,#fdded1 0 369.6px,#fddfd2 0 371.2px,#ffe1d3 0 372.5px,#fbdccf 0 373.5px,#fddfd1 0 376.2px,#fcddcf 0 377.2px,#fedfd1 0 378.6px,#fbdcce 0 380.4px,#fcded0 0 382.1px,#fee0d2 0 384.2px,#fddfd1 0 385.7px,#fee0d2 0 387.7px,#fcded0 0 388.8px,#fee0d2 0 390.2px,#fadccf 0 391.2px,#fddfd1 0 392.3px,#fee1d4 0 393.3px,#faded1 0 395.2px,#fee3d6 0 396.5px,#fde3d6 0 398.6px,#ffe5d8 0 399.7px,#fce2d6 0 401.6px,#fde2d6 0 403.8px,#ffe4d7 0 405.3px,#f8ddd0 0 406.7px,#fce2d5 0 408.5px,#ffe5d9 0 409.8px,#fce4d8 0 410.8px,#fde6db 0 412px,#fde8dd 0 413.5px,#ffebe1 0 415.1px,#fde9de 0 416.7px,#fbe6dc 0 418.8px,#ffeae0 0 420.4px,#ffe9df 0 421.7px,#fae4da 0 423.7px,#fde8dd 0 425.1px,#fde7dd 0 426.5px,#ffe9df 0 430.2px,#fce6db 0 433.7px,#fde7dc 0 435px,#fce6db 0 436.3px,#ffeadf 0 438.5px,#fbe6db 0 440px,#ffeae0 0 441.6px,#feeae0 0 445.7px,#feeae1 0 447.6px,#fbe7dd 0 449.4px,#feeae1 0 450.6px,#fce9e0 0 451.9px,#ffede4 0 453.7px,#ffede5 0 455.7px,#ffeee5 0 456.7px,#fbe8df 0 458.9px,#fdeae1 0 462.1px,#fdebe2 0 464px,#feece2 0 466.2px,#fcebe2 0 467.4px,#feece4 0 469.1px,#fdece4 0 470.5px,#ffeee6 0 471.6px,#fdede5 0 473.5px,#feeee6 0 475.4px,#fdeee7 0 476.8px,#fdefe8 0 478.9px,#fff4ed 0 480.1px,#fef1eb 0 481.1px,#fbeee8 0 483.3px,#fcf0ea 0 485.2px,#fff4ee 0 487px,#fff7f2 0 488.3px,#fdf4ef 0 490.5px,#fef5f0 0 492.4px,#fff6f2 0 494px,#fff6f1 0 495.2px,#fef5f0 0 497.1px,#fff5f0 0 499.1px,#fcf1ec 0 500.7px,#fdf3ee 0 502px,#fff5f0 0 504.1px,#fff4ef 0 505.8px,#fef3ee 0 507.5px,#fcf1ec 0 508.6px,#fef2ed 0 510px,#fef3ee 0 511.5px,#fdf2ed 0 512.7px,#fef4ef 0 514.1px,#fff5f0 0 516.1px,#fdf4ef 0 517.4px,#fef5f0 0 519.5px,#fff9f5 0 520.6px,#fdf4f0 0 522.7px,#fef5f1 0 524.6px,#fbf3ef 0 526.6px,#fef6f3 0 528.7px,#fffbf8 0 530.1px,#fdf8f5 0 532px,#fffbf9 0 533.7px,#fef8f6 0 534.9px,#fffaf8 0 535.9px,#fef9f6 0 536.9px,#fdf7f5 0 538.5px,#fdf8f6 0 539.7px,#fdf9f7 0 541.2px,#fffdfb 0 542.9px,#fffdfc 0 546.1px,#fffefe 0 547.6px,#fefcfb 0 549.6px,#fffdfc 0 551.1px,#fffcf8 0 552.9px,#fff5ee 0 554.5px,#f8dbd1 0 555.9px,#f6d0c2 0 557.1px,#ebbead 0 558.4px,#efc1af 0 560.3px,#ffe1cf 0 561.4px,#fbd0be 0 563.4px,#f1c9b8 0 565.2px,#fed9c9 0 567.4px,#ffe3d4 0 569.1px,#f7d8ca 0 570.9px,#ffe4d7 0 572.3px,#f6dbcf 0 573.3px,#ffeade 0 575.2px,#ffe5d9 0 576.8px,#ffe4d8 0 578.8px,#ffe7da 0 579.8px,#eeccbd 0 581.1px,#fad6c6 0 582.4px,#fad5c6 0 583.8px,#ffdecf 0 585.3px,#fad8c9 0 587.2px,#f3d3c5 0 589.1px,#ffecdf 0 590.6px,#f9ddd1 0 592.4px,#ffe9dd 0 594.3px,#ffe7da 0 595.5px,#f5d6c8 0 597.3px,#fad7c8 0 598.6px,#ffdbca 0 600.6px,#ffdccb 0 602.2px,#f8c9b6 0 603.5px,#eebba8 0 604.6px,#fdcab6 0 606.1px,#eebda9 0 607.1px,#ffdbc8 0 609.1px,#ffd7c5 0 610.7px,#f3c7b5 0 612.7px,#ffd8c6 0 614.4px,#facfbe 0 616.2px,#eec5b4 0 617.6px,#ffe0cf 0 618.9px,#ffdbcb 0 621px,#f9d4c5 0 622.7px,#ffe2d3 0 624.6px,#edc9b9 0 626.4px,#fedacb 0 627.7px,#ffdfd0 0 629.5px,#ffdfcf 0 631.5px,#f1cbba 0 633.2px,#ffd8c7 0 634.5px,#f8d1c0 0 636.6px,#f5cfbf 0 638.2px,#fedbcc 0 640.1px,#fee0d2 0 641.9px,#f8ded2 0 643.4px,#ffefe5 0 644.5px,#feebe2 0 646.1px,#fff4eb 0 648.1px,#ffeee4 0 650.1px,#f9e3d9 0 652.2px,#ffe6db 0 653.5px,#f4d9cd 0 654.8px,#ffe8db 0 656.3px,#fde0d2 0 658.2px,#f4d6c9 0 659.8px,#fcdfd1 0 661.1px,#ffe6d9 0 662.2px,#fcded1 0 664.4px,#ffe8da 0 666.6px,#f6d4c6 0 668.2px,#f6d2c3 0 669.9px,#ffdccd 0 671.1px,#f4d2c3 0 672.8px,#f5d7ca 0 674.2px,#ffe9df 0 676.3px,#ffefe6 0 677.6px,#fff6ee 0 678.5px,#ffefe7 0 680.7px,#fdebe3 0 682.7px,#eedbd3 0 684.4px,#fff0e8 0 685.4px,#fff6ee 0 686.6px,#ffeee6 0 687.9px,#f1e1da 0 689.1px,#fcede6 0 691.1px,#fffaf3 0 693.1px,#fffaf2 0 694.7px,#f7e1d8 0 696.1px,#f7ddd2 0 697.1px,#f2d4c8 0 698.7px,#ffefe2 0 699.9px,#edccbf 0 701.7px,#fcdbce 0 702.8px,#f9dacd 0 704.3px,#ffede0 0 705.7px,#fbded1 0 707.8px,#f6dacd 0 710px,#fbe0d4 0 712.1px,#ffe9de 0 714.2px,#f6dfd4 0 716.1px,#fff2e8 0 717.5px,#fde8de 0 719.1px,#fde7dd 0 721.1px,#f6e1d7 0 722.1px,#fde9df 0 723.1px,#fbe8e0 0 724.8px,#fff7ef 0 727px,#fbebe5 0 728px,#faeae4 0 729.4px,#f6e7e1 0 731.1px,#fff0eb 0 732.4px,#fff3ed 0 734.6px,#fceae3 0 736.4px,#f3e0d8 0 737.7px,#fce9e0 0 739.3px,#fff3e9 0 740.6px,#fae7de 0 741.8px,#fce9e0 0 742.9px,#fbe9e0 0 744.6px,#fff1e9 0 746.2px,#feede5 0 747.6px,#f5e4dd 0 748.7px,#fff7ef 0 750.2px,#fff4ec 0 751.6px,#f3e0d7 0 753px,#ffebe1 0 754.6px,#fce7dd 0 756.5px,#f1ddd5 0 758.3px,#fbebe5 0 759.9px,#fffbf7 0 761.7px,#fef5f3 0 763.1px,#fdf6f5 0 765.3px,#fef8f7 0 766.7px,#fcf5f3 0 768.4px,#f9f0ed 0 770.3px,#fffbf7 0 771.8px,#f7ebe6 0 772.9px,#f8ede8 0 774.7px,#faefec 0 775.8px,#fffaf9 0 778px,#fbf6f8 0 780.1px,#f6f3f6 0 782px,#fcfafd 0 783.4px,#fffdff 0 785.4px,#fbf8fa 0 786.8px,#f8f4f7 0 788.8px,#fdf8fb 0 790.7px,#fdf8fe 0 792.6px,#f9f3fd 0 793.9px,#d2cddb 0 796px,#f2edfc 0 797.5px,#f7f2ff 0 799.7px,#dedae8 0 801.6px,#f7f3ff 0 803.1px,#f6f3fd 0 804.1px,#f9f5fd 0 805.7px,#f5f1f8 0 807.9px,#f2eef4 0 809.7px,#fffcff 0 810.9px,#fbf9ff 0 812.1px,#f0eef7 0 813.6px,#f9f8ff 0 815.2px,#eae9f3 0 817.4px,#f7f6ff 0 819.3px,#fcfbff 0 821px,#f3f1fd 0 822.1px,#e9e6f2 0 823.9px,#ebe7f1 0 825.5px,#fef8ff 0 827.1px,#fcf4f7 0 829.1px,#fcf0f0 0 830.7px,#f0e2e0 0 831.8px,#feefed 0 833.1px,#eddfdf 0 834.5px,#fcf1f3 0 836.3px,#fef7fb 0 838.5px,#f5f0f6 0 840.2px,#fffbff 0 842.2px,#e7e3ed 0 843.4px,#fcf7ff 0 845.3px,#f2edf7 0 846.6px,#e1dde7 0 848.3px,#fbf8ff 0 849.5px,#f3f0f9 0 850.9px,#f7f5fc 0 852.2px,#fcf9ff 0 854.7px,#faf6fd 0 855.9px,#f4edf5 0 857.5px,#f6edf6 0 858.8px,#e4dbe5 0 860.3px,#e7dfea 0 862.2px,#eae3ee 0 864.4px,#f9f6ff 0 866.3px,#fefcff 0 867.7px,#f5f4fa 0 869.9px,#fefeff 0 872.4px,#fdfcff 0 874.6px,#f6f5fb 0 876.1px,#fdfcff 0 877.4px,#eeedf5 0 879.2px,#eceaf3 0 880.6px,#faf8ff 0 881.8px,#faf8fe 0 883.9px,#fdfbff 0 885px,#f0eef4 0 886.4px,#f8f6fd 0 888.5px,#faf9ff 0 889.7px,#f9f7fd 0 891.1px,#fcfaff 0 893.1px,#f7f5f9 0 894.1px,#f7f4f8 0 896.1px,#fcf9fc 0 898px,#fffbfe 0 899px,#f8f5f8 0 900.9px,#faf7fb 0 902.7px,#fbf9fe 0 904.5px,#eceaf0 0 905.5px,#fdfbff 0 906.5px,#faf8fe 0 907.9px,#fffdff 0 909.9px,#fdfbff 0 911.3px,#ebe8ee 0 912.4px,#f7f4fb 0 914.1px,#f4f0f8 0 915.5px,#f7f3fb 0 916.7px,#efeaf0 0 918.8px,#f7f2f6 0 920.6px,#fffdfe 0 922.3px,#fcf7f7 0 923.3px,#fdf8f7 0 924.9px,#fefaf9 0 926.6px,#fdf8f8 0 927.6px,#fffcfc 0 929.2px,#f6f2f4 0 931.3px,#fdf9fb 0 933.4px,#f7f4f5 0 935.5px,#fffbfc 0 937.3px,#fffafa 0 938.3px,#fff7f6 0 940.1px,#f3eae8 0 942px,#fef4f1 0 944.1px,#f9efed 0 945.7px,#fcf2f1 0 948px,#f9f0ee 0 949.6px,#f5eceb 0 951.4px,#fff9f8 0 953.2px,#fff7f6 0 954.2px,#fcf5f4 0 955.5px,#f5eeed 0 957.2px,#fef8f8 0 959.2px,#fffdfe 0 960.9px,#f7f3f7 0 962px,#faf7fc 0 963.4px,#faf8fe 0 965.1px,#f5f2fa 0 966.7px,#f4f2fb 0 968.2px,#f0edf6 0 969.7px,#f2eff5 0 971.2px,#fffbfe 0 972.5px,#f9f2f2 0 973.6px,#faf2f0 0 975.3px,#fff8f5 0 976.8px,#f9f2f0 0 978.9px,#fffaf8 0 980.2px,#fffcfb 0 981.8px,#fffcfc 0 983.5px,#f4eff1 0 984.5px,#fdf9fd 0 985.6px,#f4f1f7 0 987.7px,#f8f5ff 0 989.3px,#f5f3ff 0 990.4px,#ebe9f6 0 992.4px,#eae7f5 0 994.2px,#f2f0fb 0 995.6px,#fbf8ff 0 996.6px,#f8f5ff 0 998.3px,#ebe8f2 0 999.7px,#f3f0fa 0 1001.4px,#f2eef7 0 1003.2px,#f8f3f9 0 1005.3px,#fffcfe 0 1006.7px,#f7f0f0 0 1008.9px,#f7f1ef 0 1010px,#fffbf9 0 1011.5px,#fffdfd 0 1013.7px,#fdf9f9 0 1014.9px,#fbf7f8 0 1016.8px,#fbf7fa 0 1018.6px,#f9f4f8 0 1020.7px,#f5eff3 0 1022.9px,#f8f1f5 0 1024.8px,#f6eeef 0 1026.8px,#fdf2f2 0 1027.9px,#f8edeb 0 1029.9px,#f5e9e7 0 1032.1px,#fff4f3 0 1033.1px,#f8eded 0 1034.5px,#fcf0ef 0 1036px,#f7e8e5 0 1037.5px,#f8e7e3 0 1039.2px,#f0e0da 0 1040.7px,#fff6f1 0 1042.4px,#fbeeea 0 1044.3px,#fff4f0 0 1045.7px,#fff3ee 0 1046.8px,#fceee9 0 1048.8px,#fcede7 0 1050.7px,#f1e2de 0 1052.8px,#fff6f2 0 1054.7px,#f6eae8 0 1056.1px,#f2e7e6 0 1057.6px,#fff7f6 0 1059.2px,#fffbfa 0 1060.3px,#fffcfc 0 1061.8px,#f5eff2 0 1064px,#faf5fa 0 1065.9px,#e7e3ea 0 1068px,#fffbff 0 1069.5px,#faf5fc 0 1071.3px,#efe9ee 0 1072.5px,#fdf5f7 0 1073.5px,#fbf0f0 0 1074.6px,#f7ebe7 0 1076.1px,#f7eae5 0 1077.3px,#fff8f3 0 1078.7px,#faefeb 0 1079.7px,#fff8f4 0 1081.6px,#efe5e2 0 1082.7px,#fff6f4 0 1083.9px,#fff9f8 0 1085.8px,#f7efef 0 1087.9px,#f9f1f3 0 1088.9px,#fcf5f9 0 1091px,#f1e9ee 0 1092.9px,#f2eaee 0 1094.7px,#efe6e9 0 1095.8px,#fcf3f5 0 1096.9px,#fff9fb 0 1098.7px,#fff9fd 0 1100.7px,#ebe4e9 0 1101.9px,#fff8fc 0 1104px,#e8e0e4 0 1105.9px,#f7eff4 0 1107.9px,#fef8ff 0 1109.7px,#f8f4fd 0 1111.4px,#f6f4ff 0 1112.6px,#dfdeea 0 1114.2px,#faf8ff 0 1115.8px,#f5f4ff 0 1117.4px,#faf8ff 0 1118.5px,#deddea 0 1119.8px,#f1f0fb 0 1121.5px,#fbfaff 0 1123.2px,#fcfbff 0 1124.6px,#fdfcff 0 1126px,#f4f3ff 0 1127.2px,#efedfc 0 1128.8px,#dedbec 0 1130.8px,#eae7f7 0 1132.6px,#f3f0ff 0 1134.6px,#f7f4ff 0 1136.7px,#e5e2ee 0 1137.9px,#fdfbff 0 1139.6px,#f5f4fc 0 1141.6px,#f3f2fa 0 1143.4px,#fdfbff 0 1145.5px,#f9f7fd 0 1147.5px,#f9f7fe 0 1149.6px,#efecf3 0 1151.7px,#f0edf4 0 1153.4px,#fdf9ff 0 1154.7px,#fcf8fb 0 1155.7px,#fffafb 0 1156.7px,#fdf6f5 0 1158.3px,#fff4f3 0 1159.3px,#f9ecea 0 1161.2px,#e9dbd7 0 1163.3px,#fdefeb 0 1164.8px,#fff7f3 0 1166.9px,#f9f0ee 0 1168px,#fbf5f6 0 1169.1px,#fdf9fc 0 1170.9px,#f5f2f8 0 1173.1px,#fefcff 0 1174.6px,#eceaf4 0 1176.8px,#edecf6 0 1178px,#f6f4fd 0 1179.1px,#fdfbff 0 1180.7px,#f9f6f9 0 1181.6px,#fef8f8 0 1183.8px,#fffbf8 0 1185.4px,#f5e9e4 0 1187px,#fff5ef 0 1188.6px,#f9e9e2 0 1189.6px,#f3e3dc 0 1190.6px,#fff6ef 0 1192.2px,#fff2eb 0 1194.3px)"></div>
<div class="hc" style="left:1647px;width:121px;background:linear-gradient(#fffbf9 0 1.2px,#ece5e5 0 3px,#fcf5f6 0 4.1px,#fbf5f8 0 5.1px,#f1ecf0 0 6.2px,#f8f4f8 0 8.1px,#fffcff 0 9.2px,#fbf7fa 0 10.3px,#f5f1f6 0 11.4px,#f0ecf2 0 13.2px,#faf7fe 0 15.2px,#f5f3fb 0 17.4px,#f0eff7 0 18.9px,#faf9ff 0 21px,#fefcff 0 22.2px,#f9f8ff 0 24.2px,#f8f7ff 0 25.5px,#f5f3fd 0 27.3px,#eeecf8 0 28.4px,#f1eefc 0 30px,#f8f4ff 0 31.3px,#dbd7e8 0 33.3px,#dbd6e6 0 34.4px,#fef9ff 0 36px,#f7f3fc 0 38.2px,#f8f4fb 0 40.3px,#fefaff 0 41.4px,#e7e4ec 0 42.8px,#fbf8ff 0 44px,#fdfbff 0 45.9px,#f3f1f9 0 47px,#eceaf2 0 48.4px,#fdfaff 0 50px,#fffcff 0 52px,#f6f1f8 0 54.2px,#ede7f0 0 56.2px,#e3dde8 0 58.2px,#f4effb 0 59.8px,#f0edf8 0 61.3px,#f5f2fc 0 62.7px,#fdfbff 0 63.8px,#f3f1f8 0 65px,#f9f7fc 0 66.2px,#f7f5fa 0 68.4px,#fdfcff 0 69.6px,#f9f8ff 0 71.6px,#f3f2fd 0 72.7px,#fcfaff 0 74.7px,#dbd9ec 0 76.6px,#efedff 0 77.9px,#d0cee4 0 80px,#f5f3ff 0 81.5px,#e9e6f7 0 83.5px,#f7f4ff 0 85.6px,#f6f3fb 0 87.2px,#f9f6fa 0 88.8px,#fffcff 0 90.2px,#fefbfd 0 92px,#faf7fb 0 93.4px,#ece8ee 0 95.3px,#fdf9ff 0 96.8px,#fcf8ff 0 97.9px,#f4f0fa 0 99px,#dedae7 0 100.8px,#f8f4ff 0 102.1px,#efebfb 0 103.6px,#ebe7f8 0 105.1px,#e8e3f6 0 107px,#f2edff 0 109.1px,#ded9f2 0 110.3px,#e5e0fd 0 112.4px,#d4d0f0 0 113.4px,#c1bedd 0 114.8px,#efecff 0 116.9px,#fcf9ff 0 118.8px,#e6e3fa 0 120.2px,#dedcf1 0 122.1px,#e2dff2 0 123.8px,#fdf9ff 0 125.9px,#f2eefb 0 127.6px,#f5f0fc 0 129.3px,#e9e4f2 0 130.5px,#f6f1ff 0 131.8px,#d3cee5 0 133.2px,#eae6fe 0 135.1px,#cdcae2 0 137px,#f7f4ff 0 138.4px,#f6f5ff 0 140.7px,#f1efff 0 142.3px,#e9e7fa 0 143.4px,#e3e1f5 0 144.9px,#dfddf2 0 146.6px,#efedff 0 148.7px,#f3f1ff 0 150.9px,#f8f6ff 0 153px,#d4d1ec 0 154.3px,#c4c2de 0 155.6px,#ebe9ff 0 157.2px,#eae8fe 0 159.5px,#fbf9ff 0 161px,#f1efff 0 162.4px,#f4f2ff 0 163.7px,#d6d3e3 0 165.3px,#f5f2ff 0 167.5px,#f5f1fd 0 168.9px,#f5f1fc 0 170.9px,#f7f3ff 0 172.6px,#f1eefc 0 174px,#dad7e7 0 176.2px,#f5f3ff 0 177.7px,#fdfbff 0 179.9px,#ebeafb 0 181.7px,#dbd9ec 0 183px,#f1efff 0 184.4px,#e5e3f5 0 185.7px,#f7f5ff 0 186.8px,#efecf8 0 187.9px,#f9f4fc 0 189px,#f8f0f3 0 190.5px,#fef2f0 0 192.6px,#fae9e3 0 194.7px,#f3ded5 0 195.7px,#fee7dd 0 196.7px,#fbe4d9 0 198.5px,#ffe9de 0 200.4px,#fbe6db 0 202.5px,#ffebe1 0 204.6px,#ffeae0 0 206.1px,#f6e1d6 0 207.5px,#ffebe2 0 209.2px,#f6e3da 0 210.7px,#fff0e8 0 212.4px,#fff1ea 0 213.8px,#fff7f0 0 216px,#fef0e9 0 217.1px,#fceee6 0 218.7px,#f6e7e0 0 220.5px,#fff3ed 0 221.5px,#faede8 0 222.9px,#fbf1ed 0 225px,#fff8f5 0 226px,#fffbf9 0 227.8px,#fffaf7 0 229px,#fff9f6 0 230.4px,#f6eeea 0 232.5px,#fff6f2 0 234px,#fff5f0 0 235.4px,#fff7f2 0 237.5px,#fdede6 0 238.7px,#ebdad3 0 240.3px,#f9e9e3 0 241.3px,#fef2ee 0 243.4px,#fff8f7 0 245.1px,#fdf7f6 0 247.1px,#fffafa 0 248.2px,#fffaf8 0 249.5px,#fff6f2 0 251.1px,#f2e6e1 0 253.3px,#fbefe9 0 255.1px,#fff7f2 0 256.6px,#fff4ee 0 258.6px,#fdf1ec 0 260.3px,#fcf1eb 0 261.9px,#fffbf6 0 263px,#f2e7e2 0 264.4px,#fffaf6 0 266.2px,#fff6f3 0 267.5px,#fffaf7 0 268.9px,#f5ece9 0 271px,#fef5f3 0 272.7px,#f7eeec 0 273.9px,#fef7f5 0 275.6px,#fffbf9 0 277.8px,#fffaf9 0 279.5px,#fefaf9 0 281.7px,#fdf9f9 0 283.7px,#fcf8f9 0 285px,#f9f6f7 0 286.7px,#fbf8fb 0 287.9px,#fffdff 0 289.7px,#fcfaff 0 291.8px,#ebeaf2 0 293px,#f8f7ff 0 294.2px,#f4f3fd 0 296px,#f9f8ff 0 297.8px,#eeedf8 0 299.3px,#f9f8ff 0 301.1px,#eae8f5 0 302.6px,#ebe9f5 0 304.6px,#fbfaff 0 306.2px,#f4f3fb 0 308px,#fdfcff 0 309.1px,#f8f7fe 0 310.3px,#f8f8fe 0 311.9px,#f7f7fc 0 313.8px,#fcfbff 0 315.2px,#fdfdff 0 317.1px,#efeff4 0 318.6px,#fefdff 0 321.8px,#fefcff 0 323.8px,#f4f0f2 0 325.2px,#fffbfb 0 327px,#f7f0f0 0 328px,#fef7f6 0 330.1px,#fbf5f4 0 331.1px,#fcf7f8 0 332.9px,#fffbfc 0 334.2px,#f7f3f5 0 336.3px,#f9f5f6 0 338.1px,#fffdfd 0 339.4px,#f9f5f6 0 340.9px,#fffbfe 0 342.1px,#f5f2f7 0 343.3px,#fbf8ff 0 344.7px,#ebe8f1 0 346.8px,#f3f0f9 0 348.2px,#f6f3fb 0 350px,#fbf8ff 0 351.9px,#f6f2fa 0 352.9px,#efecf4 0 355.1px,#f8f5fe 0 356.3px,#efedf6 0 357.7px,#f7f6fe 0 359.9px,#f6f5fd 0 361.4px,#fdfcff 0 363px,#f9f9ff 0 364.7px,#fdfdff 0 365.9px,#f5f4fc 0 367.5px,#f3f2fb 0 369.6px,#f1eff9 0 371.2px,#f8f5fe 0 372.5px,#f1eef5 0 373.5px,#fffbff 0 374.7px,#f2edf3 0 376.2px,#f7f2f8 0 377.2px,#f1edf4 0 378.6px,#fbf7ff 0 380.4px,#f8f4fd 0 382.1px,#e7e4ed 0 384.2px,#faf7ff 0 385.7px,#fcfaff 0 387.7px,#f0effa 0 390.2px,#f1effc 0 391.2px,#f0effa 0 392.3px,#f6f5ff 0 393.3px,#f2f0fb 0 395.2px,#f9f8ff 0 396.5px,#f5f4fe 0 398.6px,#f9f7ff 0 399.7px,#f0eff8 0 401.6px,#f1f0f8 0 403.8px,#f8f7fe 0 405.3px,#fefdff 0 406.7px,#fffdff 0 408.5px,#fbf9fe 0 409.8px,#f9f7fe 0 410.8px,#efecf6 0 412px,#f4f2fd 0 413.5px,#e7e5f2 0 415.1px,#f3f1fe 0 418.8px,#fbfaff 0 420.4px,#eae8f4 0 421.7px,#f2f0fc 0 423.7px,#faf7ff 0 425.1px,#edeafa 0 426.5px,#dfdcee 0 428.7px,#eae6f9 0 430.2px,#f9f6ff 0 432px,#dddaec 0 433.7px,#eae7f8 0 435px,#f7f4ff 0 436.3px,#edeaf8 0 438.5px,#f9f6ff 0 440px,#ece9f9 0 441.6px,#f0edff 0 443.6px,#e6e3f7 0 445.7px,#dddbf0 0 447.6px,#e7e5fa 0 449.4px,#f8f5ff 0 450.6px,#eeecff 0 451.9px,#d7d5eb 0 453.7px,#efedff 0 455.7px,#e2e0f5 0 456.7px,#f2f1ff 0 458.9px,#e2e0f1 0 460px,#fcfaff 0 462.1px,#f8f6ff 0 464px,#e8e6f3 0 466.2px,#eeecf6 0 467.4px,#fbf9ff 0 470.5px,#f9f7ff 0 471.6px,#f1effb 0 473.5px,#e7e5f5 0 475.4px,#edebfe 0 476.8px,#f4f1ff 0 478.9px,#d6d3ed 0 480.1px,#ebe8ff 0 481.1px,#d6d4f1 0 483.3px,#d8d5f1 0 485.2px,#e5e2fd 0 487px,#f3f0ff 0 488.3px,#e6e4fa 0 490.5px,#eae8fd 0 492.4px,#edebff 0 494px,#e3e1f7 0 495.2px,#e2e0f5 0 497.1px,#efedff 0 500.7px,#e9e7f8 0 502px,#ebeaf8 0 504.1px,#f6f5ff 0 505.8px,#fdfcff 0 507.5px,#f5f4fe 0 508.6px,#f3f2fc 0 510px,#f4f3fe 0 511.5px,#f0effa 0 512.7px,#edecf7 0 514.1px,#fdfcff 0 516.1px,#f6f5ff 0 517.4px,#ebe9f7 0 519.5px,#ebeaf9 0 520.6px,#f2f0ff 0 522.7px,#edecfe 0 524.6px,#e7e5fa 0 526.6px,#eeecff 0 528.7px,#dcdaf5 0 530.1px,#dcd9f6 0 532px,#dddaf7 0 533.7px,#dddaf6 0 534.9px,#e8e6fe 0 535.9px,#e9e7fd 0 536.9px,#eeecff 0 538.5px,#edecfd 0 539.7px,#f6f4ff 0 541.2px,#eae8f9 0 542.9px,#eae8fa 0 544.9px,#e8e6f9 0 546.1px,#ede9fb 0 547.6px,#eee6f6 0 549.6px,#fff2ff 0 551.1px,#ffdfe7 0 552.9px,#ffc8c7 0 554.5px,#ce6f64 0 555.9px,#e16854 0 557.1px,#f0664b 0 558.4px,#f66445 0 560.3px,#fc6747 0 561.4px,#fc6847 0 563.4px,#fa6745 0 565.2px,#fb6a49 0 567.4px,#fa6b4a 0 569.1px,#f96c4b 0 570.9px,#fe7352 0 572.3px,#fc7352 0 573.3px,#fa7453 0 575.2px,#f97453 0 576.8px,#ff7c5c 0 578.8px,#fb7858 0 579.8px,#fb7958 0 581.1px,#fb7a59 0 582.4px,#f97857 0 583.8px,#f97958 0 585.3px,#fc7d5d 0 587.2px,#fc7e5e 0 589.1px,#fc805f 0 590.6px,#f77c5c 0 592.4px,#fd8363 0 594.3px,#f77e5e 0 595.5px,#fc8463 0 597.3px,#fb8564 0 598.6px,#f98464 0 600.6px,#f98565 0 602.2px,#fa8868 0 603.5px,#fc8b6b 0 604.6px,#fd8d6d 0 606.1px,#f98a6a 0 607.1px,#fb8c6c 0 609.1px,#f68868 0 610.7px,#f78a6a 0 612.7px,#ff9575 0 614.4px,#fb9374 0 616.2px,#fa9475 0 617.6px,#fa9677 0 618.9px,#fa9779 0 621px,#fb997a 0 622.7px,#fb9a7b 0 624.6px,#fc9b7c 0 626.4px,#fa9a7c 0 627.7px,#f9987a 0 629.5px,#f8997a 0 631.5px,#fb9d7f 0 633.2px,#f99c7e 0 634.5px,#fca083 0 636.6px,#fda184 0 638.2px,#f89d80 0 640.1px,#faa083 0 641.9px,#fca285 0 643.4px,#fba285 0 644.5px,#f8a185 0 646.1px,#f6a185 0 648.1px,#faa88d 0 650.1px,#ffb196 0 652.2px,#fcaf94 0 653.5px,#f9ac92 0 654.8px,#ffb399 0 656.3px,#fcaf94 0 658.2px,#fbad92 0 659.8px,#f7a98f 0 661.1px,#f8aa90 0 662.2px,#fcaf95 0 664.4px,#fdb298 0 666.6px,#fab096 0 668.2px,#fbb39a 0 669.9px,#fab39a 0 671.1px,#fab59c 0 672.8px,#fbb89f 0 674.2px,#febca5 0 676.3px,#fbbaa2 0 677.6px,#fcbca5 0 680.7px,#fcbda6 0 682.7px,#fabca5 0 684.4px,#fcbea8 0 685.4px,#fdc0a9 0 686.6px,#fabea7 0 687.9px,#f9bda7 0 689.1px,#fcc1ab 0 691.1px,#fbc2ac 0 693.1px,#fcc5af 0 694.7px,#fec8b2 0 696.1px,#fbc6b1 0 697.1px,#fec9b4 0 698.7px,#fdc8b3 0 699.9px,#f8c4af 0 701.7px,#fac6b2 0 702.8px,#fecbb7 0 704.3px,#fbc9b5 0 705.7px,#fbcab6 0 707.8px,#fdcebb 0 710px,#fbcebb 0 712.1px,#ffd3c0 0 714.2px,#fbcfbd 0 716.1px,#fcd2c0 0 717.5px,#fdd3c2 0 719.1px,#fcd3c2 0 721.1px,#fdd6c5 0 722.1px,#fed7c6 0 723.1px,#fed7c7 0 724.8px,#fbd5c4 0 728px,#fad5c5 0 729.4px,#fedbcb 0 731.1px,#fddbcc 0 732.4px,#fddcce 0 734.6px,#fdddcf 0 736.4px,#fcded0 0 737.7px,#fee1d3 0 739.3px,#fce0d3 0 740.6px,#fbe0d3 0 741.8px,#ffe4d8 0 742.9px,#fbe0d4 0 744.6px,#ffe5d9 0 746.2px,#fee5d9 0 747.6px,#fce3d7 0 748.7px,#fae1d5 0 750.2px,#fee5da 0 751.6px,#ffe7dc 0 753px,#fce5da 0 754.6px,#fee8dc 0 756.5px,#fee7dc 0 758.3px,#fce6db 0 759.9px,#fde7dd 0 761.7px,#fee9de 0 763.1px,#fce6dc 0 765.3px,#fee9de 0 766.7px,#fde8dd 0 768.4px,#fee9df 0 770.3px,#f9e5db 0 771.8px,#feebe2 0 772.9px,#fbeae2 0 774.7px,#fdeee7 0 775.8px,#fff3ed 0 778px,#fef4ef 0 780.1px,#fff9f6 0 782px,#fdf7f7 0 783.4px,#fef9fe 0 785.4px,#f9f6ff 0 786.8px,#ebe8f8 0 788.8px,#e9e6fa 0 790.7px,#d2cfe5 0 792.6px,#ece9fe 0 793.9px,#f6f4ff 0 796px,#eeecfe 0 797.5px,#f3f1ff 0 799.7px,#e7e5f8 0 801.6px,#dcdaec 0 803.1px,#f7f5ff 0 804.1px,#f5f3ff 0 805.7px,#e5e3f5 0 807.9px,#edebfc 0 809.7px,#efedfe 0 810.9px,#eeecfd 0 812.1px,#f4f2ff 0 813.6px,#dcdaec 0 815.2px,#f4f2ff 0 817.4px,#efeefe 0 819.3px,#efedfd 0 821px,#f8f6ff 0 822.1px,#e2e0f2 0 823.9px,#edebfe 0 825.5px,#eeecfe 0 827.1px,#e4e1f2 0 829.1px,#ece9f9 0 830.7px,#f9f7ff 0 831.8px,#f3f0ff 0 833.1px,#efedfd 0 834.5px,#e8e5f8 0 836.3px,#eae8fc 0 838.5px,#e5e3f8 0 840.2px,#e5e3f9 0 842.2px,#e4e2f7 0 843.4px,#f0eeff 0 846.6px,#dbd9f0 0 848.3px,#eae8ff 0 849.5px,#e8e5fe 0 850.9px,#e6e3fc 0 852.2px,#d8d5ed 0 853.2px,#eae8fe 0 854.7px,#ecebfd 0 855.9px,#eeecfb 0 857.5px,#f7f6ff 0 858.8px,#faf9ff 0 860.3px,#fcfbff 0 862.2px,#f9f8ff 0 864.4px,#e5e4ef 0 866.3px,#f7f6ff 0 867.7px,#eeedfc 0 869.9px,#f9f7ff 0 871.2px,#e9e6fb 0 872.4px,#d4d2e9 0 874.6px,#f0edff 0 876.1px,#e1def5 0 877.4px,#eceaff 0 879.2px,#eceafe 0 880.6px,#edebff 0 881.8px,#e6e4fa 0 883.9px,#f2f0ff 0 885px,#d7d5f0 0 886.4px,#d1ceeb 0 888.5px,#edebff 0 889.7px,#dcdaf4 0 891.1px,#eceaff 0 893.1px,#edebff 0 894.1px,#e2dff7 0 896.1px,#e8e5fe 0 898px,#e0def6 0 899px,#eae8ff 0 900.9px,#e3e1f8 0 902.7px,#dfddf2 0 904.5px,#f3f1ff 0 905.5px,#f4f2ff 0 907.9px,#e3e1f4 0 909.9px,#ebe9fe 0 911.3px,#e8e5fc 0 912.4px,#e5e2fb 0 914.1px,#e1def8 0 915.5px,#dbd8f1 0 916.7px,#eeecff 0 918.8px,#f0eeff 0 920.6px,#e8e5fb 0 922.3px,#e0def3 0 923.3px,#eeecff 0 926.6px,#e4e2f4 0 927.6px,#f5f4ff 0 929.2px,#f0eefe 0 931.3px,#f0eefd 0 933.4px,#ecebfa 0 935.5px,#fcfaff 0 937.3px,#e6e4f7 0 938.3px,#e2dff6 0 940.1px,#e3e0f9 0 942px,#efecff 0 944.1px,#d8d5f1 0 945.7px,#e5e2ff 0 948px,#dcd9f8 0 949.6px,#d8d5f5 0 951.4px,#e9e6ff 0 953.2px,#d5d2f2 0 954.2px,#dcd9f9 0 955.5px,#e5e2ff 0 957.2px,#d6d3f2 0 959.2px,#e6e3ff 0 960.9px,#eae7ff 0 962px,#d4d1f0 0 963.4px,#e0ddfd 0 965.1px,#e1defe 0 966.7px,#d9d5f7 0 968.2px,#e3e0ff 0 969.7px,#d7d3f7 0 971.2px,#d1cef1 0 972.5px,#d3d0f1 0 973.6px,#f2efff 0 975.3px,#dfdcf8 0 976.8px,#eae7ff 0 978.9px,#dad7f1 0 980.2px,#e5e2fb 0 981.8px,#e9e6ff 0 983.5px,#edebff 0 984.5px,#e6e4fe 0 985.6px,#dedbf7 0 987.7px,#d4d1ee 0 989.3px,#e6e3ff 0 990.4px,#e1defa 0 992.4px,#eeebff 0 994.2px,#e8e5ff 0 995.6px,#cdcae9 0 996.6px,#e0ddfd 0 998.3px,#dedbfb 0 999.7px,#e2dfff 0 1001.4px,#dcd9f8 0 1003.2px,#dbd8f7 0 1005.3px,#edeaff 0 1006.7px,#dad7f5 0 1008.9px,#d4d1ef 0 1010px,#f4f1ff 0 1011.5px,#dddaf9 0 1013.7px,#dbd8f8 0 1014.9px,#d0cded 0 1016.8px,#e7e4ff 0 1018.6px,#e0ddfa 0 1020.7px,#efecff 0 1022.9px,#e3e0fe 0 1024.8px,#d8d5f5 0 1026.8px,#dddafd 0 1027.9px,#d2cff3 0 1029.9px,#cecbee 0 1032.1px,#e2dfff 0 1033.1px,#dedbf7 0 1034.5px,#eceaff 0 1036px,#edebff 0 1037.5px,#f2f0ff 0 1039.2px,#e5e3f7 0 1040.7px,#e8e6fb 0 1042.4px,#f6f3ff 0 1044.3px,#dfddfa 0 1045.7px,#d4d1f2 0 1046.8px,#d1cef1 0 1048.8px,#d5d2f5 0 1050.7px,#e0ddfd 0 1052.8px,#e0ddf9 0 1054.7px,#e7e4fe 0 1056.1px,#f4f2ff 0 1057.6px,#efecff 0 1059.2px,#dad8f5 0 1060.3px,#c6c3e2 0 1061.8px,#e4e2ff 0 1064px,#e9e6ff 0 1065.9px,#e7e5fc 0 1068px,#eeecff 0 1069.5px,#e9e7fb 0 1071.3px,#e6e4f7 0 1072.5px,#f5f3ff 0 1073.5px,#e8e6f8 0 1074.6px,#eceafb 0 1076.1px,#ebeafa 0 1077.3px,#eceafa 0 1078.7px,#fcfaff 0 1079.7px,#f9f7ff 0 1081.6px,#dfddf5 0 1082.7px,#cdcbe5 0 1083.9px,#dfdcf7 0 1085.8px,#f1efff 0 1087.9px,#e4e2fb 0 1088.9px,#eceaff 0 1091px,#d6d3ee 0 1092.9px,#e8e6ff 0 1094.7px,#dcd9f4 0 1095.8px,#efecff 0 1096.9px,#e6e4fe 0 1098.7px,#e4e1fd 0 1100.7px,#d0cdea 0 1101.9px,#eae7ff 0 1104px,#dedbf9 0 1105.9px,#e8e5ff 0 1107.9px,#e2dfff 0 1109.7px,#c7c4e6 0 1111.4px,#d4d1f1 0 1112.6px,#e6e3ff 0 1114.2px,#f8f5ff 0 1115.8px,#e5e2fb 0 1117.4px,#e0def5 0 1118.5px,#dcdaf1 0 1119.8px,#f9f7ff 0 1121.5px,#e6e4fa 0 1123.2px,#edeaff 0 1124.6px,#e5e2fc 0 1126px,#d5d2ee 0 1127.2px,#e3e0fb 0 1128.8px,#e6e3fd 0 1130.8px,#e2dff8 0 1132.6px,#f3f1ff 0 1134.6px,#ebe8ff 0 1136.7px,#dedbf9 0 1137.9px,#d1ceee 0 1139.6px,#d7d4f6 0 1141.6px,#e0ddfd 0 1143.4px,#e3e0ff 0 1145.5px,#dbd8f7 0 1147.5px,#e4e1ff 0 1149.6px,#e2dffe 0 1151.7px,#dad7f6 0 1153.4px,#e0ddfd 0 1154.7px,#dddafa 0 1155.7px,#dbd8f9 0 1156.7px,#d7d4f5 0 1158.3px,#f1eeff 0 1159.3px,#d9d6f8 0 1161.2px,#c9c6e8 0 1163.3px,#d9d6f6 0 1164.8px,#ece9ff 0 1166.9px,#e3e1fd 0 1168px,#e2e0fb 0 1169.1px,#ece9ff 0 1170.9px,#d6d4ed 0 1173.1px,#e4e2fb 0 1174.6px,#f1eeff 0 1176.8px,#edebff 0 1178px,#dddaf5 0 1179.1px,#dfdcf9 0 1180.7px,#dad7f5 0 1181.6px,#ebe8ff 0 1183.8px,#cecbe9 0 1185.4px,#e6e3ff 0 1187px,#ebe8ff 0 1188.6px,#e3e0ff 0 1189.6px,#cdcae9 0 1190.6px,#dedbfa 0 1192.2px,#e4e2ff 0 1194.3px)"></div>
<div class="hc" style="left:1768px;width:120px;background:linear-gradient(#eeedfa 0 1.2px,#fdfbff 0 3px,#ecebf4 0 4.1px,#fefcff 0 5.1px,#fdfbff 0 6.2px,#fbf9ff 0 8.1px,#dddbe6 0 9.2px,#f3f0fc 0 10.3px,#fcf8ff 0 11.4px,#ece7ef 0 13.2px,#f2ecf2 0 15.2px,#fef8fd 0 17.4px,#f5eff5 0 18.9px,#f5eff7 0 21px,#f6f1fd 0 22.2px,#f4f0ff 0 24.2px,#dfdbf3 0 25.5px,#e6e3ff 0 27.3px,#d1ceed 0 28.4px,#d1ceee 0 30px,#e9e5ff 0 31.3px,#e0ddf4 0 33.3px,#ebe8f9 0 34.4px,#fdf9ff 0 36px,#f6f2fa 0 38.2px,#f8f4fc 0 40.3px,#fbf6ff 0 41.4px,#eee9f7 0 42.8px,#f3eeff 0 44px,#d0cae2 0 45.9px,#d5d0e8 0 47px,#e4e0f6 0 48.4px,#f7f3ff 0 50px,#f0edfd 0 52px,#f1eefe 0 54.2px,#f1efff 0 56.2px,#eeecff 0 58.2px,#dcd9f1 0 59.8px,#f2f0ff 0 61.3px,#c9c7e0 0 62.7px,#ece9ff 0 63.8px,#f7f4ff 0 65px,#d8d5e6 0 66.2px,#fdfaff 0 68.4px,#f8f5ff 0 69.6px,#f2effa 0 71.6px,#e1dfe9 0 72.7px,#fcfaff 0 74.7px,#fefdff 0 76.6px,#f5f4fb 0 77.9px,#fbfaff 0 80px,#f3f2fc 0 81.5px,#faf8ff 0 83.5px,#eeecfd 0 85.6px,#e0def2 0 87.2px,#f0eeff 0 88.8px,#d7d5ee 0 90.2px,#d6d4ec 0 92px,#f8f6ff 0 93.4px,#eeecff 0 95.3px,#e7e5f7 0 96.8px,#fbfaff 0 97.9px,#e4e2f5 0 99px,#f3f1ff 0 100.8px,#d7d5ea 0 102.1px,#f7f4ff 0 103.6px,#d8d4e6 0 105.1px,#faf6ff 0 107px,#f7f1fc 0 109.1px,#ede6ef 0 110.3px,#f7f1fb 0 112.4px,#faf6ff 0 113.4px,#e2def1 0 114.8px,#dfdcf2 0 116.9px,#e4e1f7 0 118.8px,#e8e6fa 0 120.2px,#efeeff 0 122.1px,#f8f6ff 0 123.8px,#f9f7ff 0 125.9px,#d7d5e2 0 127.6px,#fdfbff 0 129.3px,#faf7ff 0 131.8px,#d9d7e7 0 133.2px,#ebe9fa 0 135.1px,#f7f4ff 0 137px,#e9e7f9 0 138.4px,#f4f1ff 0 140.7px,#dbd7e9 0 142.3px,#f2eeff 0 143.4px,#d8d4e6 0 144.9px,#fcf9ff 0 146.6px,#eae7f9 0 148.7px,#efedff 0 150.9px,#e9e7fb 0 153px,#e3e1f6 0 154.3px,#f5f3ff 0 155.6px,#dcd9f2 0 157.2px,#dcdaf4 0 159.5px,#eeecff 0 161px,#e2dffb 0 162.4px,#d1cfea 0 163.7px,#dddaf3 0 165.3px,#fcf9ff 0 167.5px,#ece9fb 0 168.9px,#f5f2ff 0 170.9px,#e5e1ed 0 172.6px,#f5f1fa 0 174px,#eee9f1 0 176.2px,#fbf7fd 0 177.7px,#fefbff 0 179.9px,#fffcff 0 181.7px,#ebe8f3 0 183px,#f2f0fd 0 184.4px,#eeecfa 0 185.7px,#f2f0ff 0 187.9px,#dcdaec 0 189px,#e7e5f5 0 190.5px,#f7f5ff 0 192.6px,#faf8ff 0 194.7px,#faf7ff 0 195.7px,#f0eef9 0 196.7px,#edebf9 0 198.5px,#f0eefd 0 200.4px,#e8e6f6 0 202.5px,#ebe9f8 0 204.6px,#efecf9 0 206.1px,#f8f5ff 0 207.5px,#f9f6ff 0 209.2px,#dedce8 0 210.7px,#f5f3ff 0 212.4px,#fbf9ff 0 213.8px,#f4f3ff 0 216px,#ecebf8 0 217.1px,#eeedfa 0 218.7px,#f1effc 0 220.5px,#f5f3ff 0 221.5px,#f9f8ff 0 222.9px,#f0eefc 0 225px,#e3e1ee 0 226px,#f1eefa 0 227.8px,#fefbff 0 229px,#f8f5fb 0 230.4px,#fbf7fd 0 232.5px,#f6f2f9 0 234px,#eae5ef 0 235.4px,#f8f5ff 0 237.5px,#f1eefe 0 238.7px,#e5e3f4 0 240.3px,#efedff 0 241.3px,#eceafe 0 243.4px,#d7d5ea 0 245.1px,#f4f2ff 0 247.1px,#f0eeff 0 248.2px,#e4e2f4 0 249.5px,#eeecfd 0 251.1px,#f0effd 0 253.3px,#f6f4ff 0 255.1px,#f3f1fd 0 256.6px,#fefbff 0 258.6px,#e0dce8 0 260.3px,#f4f0fb 0 261.9px,#efebf7 0 263px,#fbf8ff 0 264.4px,#edebf8 0 266.2px,#e9e7f4 0 267.5px,#f2f0fd 0 268.9px,#f7f5ff 0 271px,#fcf9ff 0 272.7px,#f0ecfa 0 273.9px,#d8d3e1 0 275.6px,#f7f2fe 0 277.8px,#f3eef7 0 279.5px,#fff9ff 0 281.7px,#f4eff7 0 283.7px,#f4effb 0 285px,#e9e5f5 0 286.7px,#e1ddf0 0 287.9px,#f4f0ff 0 289.7px,#d9d5e6 0 291.8px,#f5f1ff 0 293px,#f2effc 0 294.2px,#f4f1fe 0 296px,#f9f7ff 0 297.8px,#f5f3ff 0 299.3px,#eceaff 0 301.1px,#c7c5dd 0 302.6px,#e7e4fc 0 304.6px,#e7e5fa 0 306.2px,#faf8ff 0 308px,#e4e2f2 0 309.1px,#f3f1ff 0 310.3px,#f6f4ff 0 311.9px,#f7f5ff 0 313.8px,#e4e2f4 0 315.2px,#e9e7fa 0 317.1px,#e3e1f4 0 318.6px,#edebfd 0 319.9px,#f7f5ff 0 321.8px,#ebeaf8 0 323.8px,#f3f2fd 0 325.2px,#f1f0f9 0 327px,#fcfaff 0 328px,#fefcff 0 330.1px,#fdfbff 0 331.1px,#fbf9fd 0 332.9px,#f2eff2 0 334.2px,#f9f6f9 0 336.3px,#fffcff 0 338.1px,#fdfbfe 0 339.4px,#f8f6fb 0 340.9px,#fdfbff 0 342.1px,#f7f5ff 0 343.3px,#e4e3ef 0 344.7px,#eceaf7 0 346.8px,#f8f7ff 0 348.2px,#f0effc 0 350px,#f8f6ff 0 351.9px,#f3f1ff 0 352.9px,#ecebfb 0 355.1px,#dad8e9 0 356.3px,#f7f6ff 0 357.7px,#fdfbff 0 359.9px,#f3f1ff 0 361.4px,#d1cfe8 0 363px,#e2dffb 0 364.7px,#dcd9f6 0 365.9px,#e2def9 0 367.5px,#d5d1e8 0 369.6px,#f6f2ff 0 371.2px,#f7f4ff 0 372.5px,#f0edfe 0 373.5px,#edeafc 0 374.7px,#d3d1e2 0 376.2px,#faf9ff 0 377.2px,#f9f8ff 0 378.6px,#fbf9ff 0 380.4px,#f7f4ff 0 382.1px,#ddd8ec 0 384.2px,#ccc5d9 0 385.7px,#ece5f7 0 387.7px,#f0eaf8 0 388.8px,#faf5ff 0 390.2px,#ece7f1 0 391.2px,#fffbff 0 392.3px,#f5f0fc 0 393.3px,#f9f5ff 0 395.2px,#d7d3ea 0 396.5px,#dbd8f2 0 398.6px,#cecbe4 0 399.7px,#eeebff 0 401.6px,#fbf9ff 0 403.8px,#f5f3ff 0 405.3px,#f3f2fe 0 406.7px,#f5f3ff 0 408.5px,#f3f1ff 0 409.8px,#dddaeb 0 410.8px,#e7e4f3 0 412px,#f9f5ff 0 413.5px,#f6f2fd 0 415.1px,#f4f1fc 0 416.7px,#f8f6ff 0 418.8px,#dedbe9 0 420.4px,#f9f7ff 0 421.7px,#e8e6f4 0 423.7px,#fbf9ff 0 425.1px,#f8f6ff 0 426.5px,#edebf9 0 428.7px,#e1deec 0 430.2px,#ece9f5 0 432px,#faf7ff 0 433.7px,#fdfaff 0 435px,#fbf8fe 0 436.3px,#fdfbff 0 438.5px,#f0eef8 0 440px,#f5f3ff 0 441.6px,#eceaf9 0 443.6px,#e8e6f6 0 445.7px,#e7e5f6 0 447.6px,#fbf9ff 0 449.4px,#e8e6f6 0 450.6px,#eeebfb 0 451.9px,#e7e3f2 0 453.7px,#fef8ff 0 455.7px,#eae2ed 0 456.7px,#e7dee8 0 458.9px,#f5eef8 0 460px,#efe9f5 0 462.1px,#f7f2ff 0 464px,#ede9f6 0 466.2px,#f0ebf7 0 467.4px,#f6f0fa 0 469.1px,#ede6f0 0 470.5px,#e8e2ec 0 471.6px,#fcf8ff 0 473.5px,#fcf9ff 0 475.4px,#e6e4f1 0 476.8px,#f1effe 0 478.9px,#f4f3ff 0 480.1px,#f0eefe 0 481.1px,#d9d7e7 0 483.3px,#fbf9ff 0 485.2px,#faf9ff 0 487px,#efedff 0 488.3px,#e6e4f9 0 490.5px,#e8e6fd 0 492.4px,#cbc8e1 0 494px,#faf7ff 0 495.2px,#d7d4e8 0 497.1px,#fbf8ff 0 499.1px,#faf7ff 0 500.7px,#f7f3ff 0 502px,#dcd9ec 0 504.1px,#e6e2f9 0 505.8px,#e7e3fd 0 507.5px,#d4cfe8 0 508.6px,#e2dcf2 0 510px,#faf4ff 0 511.5px,#ede6f4 0 512.7px,#e3dde9 0 514.1px,#fefaff 0 516.1px,#f0ecfa 0 517.4px,#eeecfb 0 519.5px,#efedfd 0 520.6px,#e7e5f6 0 522.7px,#f0eeff 0 524.6px,#edebfc 0 526.6px,#edebfb 0 528.7px,#f0eefd 0 530.1px,#f8f6ff 0 532px,#e9e8f8 0 533.7px,#edebfc 0 534.9px,#eae7f8 0 535.9px,#e5e2f1 0 536.9px,#faf8ff 0 538.5px,#fdfbff 0 539.7px,#f9f7ff 0 541.2px,#dbd8e8 0 542.9px,#e8e5f7 0 544.9px,#eceafc 0 546.1px,#f1efff 0 547.6px,#f8f6ff 0 549.6px,#e3e0f2 0 551.1px,#dbd7e6 0 552.9px,#fef8ff 0 554.5px,#fff8fb 0 555.9px,#fdefec 0 557.1px,#fce9e1 0 558.4px,#fce3d9 0 560.3px,#f8ded3 0 561.4px,#e8cfc6 0 563.4px,#fce6e0 0 565.2px,#f9eae7 0 567.4px,#fff8f8 0 569.1px,#fffcfc 0 570.9px,#f8f3f4 0 572.3px,#f6f1f2 0 573.3px,#fdf7f7 0 575.2px,#fffcfb 0 576.8px,#fff7f4 0 578.8px,#f5e7e2 0 579.8px,#fbebe5 0 581.1px,#f8e7e1 0 582.4px,#fbeae4 0 583.8px,#fdebe6 0 585.3px,#feede7 0 587.2px,#efddd6 0 589.1px,#fcebe4 0 590.6px,#fff3ec 0 592.4px,#fff7f0 0 594.3px,#f4e2da 0 595.5px,#feebe2 0 597.3px,#fde8df 0 598.6px,#ffebe1 0 600.6px,#f3ded4 0 602.2px,#ffede3 0 603.5px,#fff4ea 0 604.6px,#f6ded3 0 606.1px,#f5dcd1 0 607.1px,#ffece1 0 609.1px,#f4dbd0 0 610.7px,#ffe8de 0 612.7px,#f6e2d8 0 614.4px,#fff0e7 0 616.2px,#fff0e9 0 617.6px,#fff7f0 0 618.9px,#f3e0d7 0 621px,#fff0e6 0 622.7px,#f1dad0 0 624.6px,#fde6db 0 626.4px,#fff1e7 0 627.7px,#edd8d0 0 629.5px,#f9e7e1 0 631.5px,#fff2ed 0 633.2px,#fff1ee 0 634.5px,#fff0ec 0 636.6px,#ffeae3 0 638.2px,#f3d9d0 0 640.1px,#e9ccc2 0 641.9px,#ffe4da 0 643.4px,#ffeee5 0 644.5px,#ebd3ca 0 646.1px,#ffede5 0 648.1px,#f2e0d9 0 650.1px,#fffaf4 0 652.2px,#fff8f3 0 653.5px,#fffbf7 0 654.8px,#fef5f2 0 656.3px,#fef3ef 0 658.2px,#fff1ec 0 659.8px,#fee9e2 0 661.1px,#ead2ca 0 662.2px,#edd6cd 0 664.4px,#fff6ee 0 666.6px,#fff5ee 0 668.2px,#ffefe8 0 669.9px,#e6d3cb 0 671.1px,#fff2ea 0 672.8px,#f6e4dd 0 674.2px,#fff8f1 0 676.3px,#fcebe4 0 677.6px,#fff3ec 0 678.5px,#ffe8e0 0 680.7px,#e7cdc3 0 682.7px,#f4dbd0 0 684.4px,#fff0e7 0 686.6px,#ffede5 0 687.9px,#fff6ee 0 689.1px,#ebd6cd 0 691.1px,#ffece3 0 693.1px,#efdad3 0 694.7px,#ffefe9 0 696.1px,#f6e6e1 0 697.1px,#fff8f3 0 698.7px,#fcf0eb 0 699.9px,#fffaf4 0 701.7px,#fff7f0 0 702.8px,#eedfd8 0 704.3px,#feefe8 0 705.7px,#fdefe9 0 707.8px,#fff3ee 0 710px,#faefec 0 712.1px,#fff6f4 0 714.2px,#fff7f5 0 716.1px,#fdf3f0 0 717.5px,#ede2df 0 719.1px,#fff8f5 0 721.1px,#fffbf8 0 722.1px,#fff9f7 0 723.1px,#fbf3f1 0 724.8px,#f2eae8 0 727px,#fff7f5 0 728px,#fffbf8 0 729.4px,#faf2f0 0 731.1px,#fffbfb 0 732.4px,#f4ecef 0 734.6px,#ece5eb 0 736.4px,#f6f0f7 0 737.7px,#f8f3fa 0 739.3px,#ebe6ed 0 740.6px,#fff9fe 0 741.8px,#fbf3f7 0 742.9px,#f5eced 0 744.6px,#fff9f7 0 746.2px,#f0e0dc 0 747.6px,#f7e6e0 0 748.7px,#f6e7e1 0 750.2px,#fffaf5 0 751.6px,#fff5f2 0 753px,#fff9f6 0 754.6px,#fef2ef 0 756.5px,#f0e1dd 0 758.3px,#efe1dd 0 759.9px,#fff3ef 0 761.7px,#fff8f5 0 763.1px,#fff9f8 0 765.3px,#fffcfb 0 766.7px,#fff9f6 0 768.4px,#f8ede8 0 770.3px,#f8ebe5 0 771.8px,#fff1eb 0 772.9px,#fff7f0 0 774.7px,#f9e5de 0 775.8px,#e9d4ce 0 778px,#fbe6e0 0 780.1px,#fce6e0 0 782px,#ffece4 0 783.4px,#ffe3d9 0 785.4px,#ffecdf 0 786.8px,#ecc1b0 0 788.8px,#f3c1ae 0 790.7px,#fbc5b0 0 792.6px,#fbc3ae 0 796px,#fbc4ae 0 797.5px,#fcc6b1 0 799.7px,#ffcab5 0 801.6px,#fdc7b2 0 803.1px,#fbc5b0 0 804.1px,#fac4af 0 805.7px,#fbc5b1 0 807.9px,#fec9b5 0 809.7px,#fcc7b3 0 810.9px,#fecab5 0 812.1px,#fac6b2 0 813.6px,#fbc7b2 0 815.2px,#fdc9b5 0 817.4px,#fcc9b4 0 819.3px,#fac7b3 0 821px,#fecdb9 0 822.1px,#fccbb7 0 823.9px,#facab7 0 825.5px,#fdcebb 0 827.1px,#fed0bd 0 829.1px,#fccebb 0 830.7px,#fbcebb 0 831.8px,#fccfbc 0 833.1px,#fccfbd 0 834.5px,#facebc 0 836.3px,#fdd3c1 0 838.5px,#ffd5c4 0 840.2px,#fcd3c1 0 842.2px,#fdd4c3 0 843.4px,#fad2c0 0 845.3px,#fcd3c2 0 846.6px,#ffd8c7 0 848.3px,#fbd3c2 0 849.5px,#fad3c2 0 850.9px,#fbd4c3 0 852.2px,#fdd8c8 0 853.2px,#fdd8c9 0 854.7px,#fddacb 0 855.9px,#fddbcd 0 857.5px,#fedecf 0 858.8px,#fadacc 0 860.3px,#fee0d2 0 862.2px,#ffe0d2 0 864.4px,#fedfd1 0 866.3px,#fddecf 0 867.7px,#fad9cb 0 869.9px,#fbdacb 0 871.2px,#fbdbcc 0 872.4px,#fadbcd 0 874.6px,#ffe2d4 0 876.1px,#fde1d4 0 877.4px,#ffe3d7 0 879.2px,#fde2d6 0 880.6px,#fce2d6 0 881.8px,#fde3d6 0 883.9px,#fbe1d5 0 885px,#ffe6da 0 886.4px,#fee5da 0 888.5px,#fbe3d8 0 889.7px,#ffe7dc 0 891.1px,#fce5da 0 893.1px,#fbe5d9 0 894.1px,#fee8dd 0 898px,#fce7dc 0 899px,#fce7dd 0 900.9px,#fde9df 0 902.7px,#fdeae1 0 904.5px,#fdebe2 0 905.5px,#ffefe6 0 906.5px,#fcece3 0 907.9px,#fdede4 0 909.9px,#feeee5 0 911.3px,#fdede5 0 912.4px,#fbebe3 0 914.1px,#feeee6 0 915.5px,#fff0e9 0 916.7px,#fdeee7 0 918.8px,#feefe8 0 920.6px,#fdefe8 0 922.3px,#fceee7 0 923.3px,#fff2eb 0 924.9px,#fdf1eb 0 926.6px,#fef3ee 0 927.6px,#fff7f2 0 929.2px,#fef4f0 0 931.3px,#fdf5f0 0 933.4px,#fdf5f1 0 935.5px,#fff7f4 0 937.3px,#fffaf7 0 938.3px,#fdf7f5 0 940.1px,#fffbf9 0 942px,#fdf8f7 0 944.1px,#fffefc 0 945.7px,#fdfaf9 0 948px,#fffefd 0 951.4px,#fefcfc 0 953.2px,#fffefe 0 955.5px,#fdfcfd 0 957.2px,#fffeff 0 959.2px,#fdfcff 0 960.9px,#faf9fe 0 962px,#f0eff6 0 963.4px,#f8f5fb 0 965.1px,#f3eef3 0 966.7px,#fff9fa 0 968.2px,#fdf1ee 0 969.7px,#fcede7 0 971.2px,#f9e7df 0 972.5px,#ffece3 0 973.6px,#eedbd3 0 975.3px,#fff7f0 0 976.8px,#fff2ed 0 978.9px,#ebdeda 0 980.2px,#fef3f1 0 981.8px,#fffbf9 0 983.5px,#fff8f7 0 984.5px,#faf1f0 0 985.6px,#f8eeed 0 987.7px,#f7ecea 0 989.3px,#fcf0ee 0 990.4px,#f8ebea 0 992.4px,#f3e7e6 0 994.2px,#f2e7e8 0 995.6px,#fef6f7 0 996.6px,#fef6f8 0 998.3px,#fff9fb 0 999.7px,#eee6e9 0 1001.4px,#f5eef2 0 1003.2px,#fcf6fc 0 1005.3px,#f3edf4 0 1006.7px,#f5f0f5 0 1008.9px,#f3edf1 0 1010px,#fef9fc 0 1011.5px,#f7f4f7 0 1013.7px,#f7f4f9 0 1014.9px,#fffdff 0 1016.8px,#fbf8fb 0 1018.6px,#fffcfe 0 1020.7px,#f9f1f2 0 1022.9px,#f0e6e5 0 1024.8px,#f7eeed 0 1026.8px,#fff9f9 0 1027.9px,#f8f2f4 0 1029.9px,#fbf6f9 0 1033.1px,#f5eef0 0 1034.5px,#fff9f9 0 1036px,#fbedec 0 1037.5px,#eedddc 0 1039.2px,#f0e0e2 0 1040.7px,#e4d7da 0 1042.4px,#fcf2f6 0 1044.3px,#fff8fb 0 1045.7px,#fff7f7 0 1046.8px,#fff6f3 0 1048.8px,#fff5f0 0 1050.7px,#faece5 0 1052.8px,#fff3eb 0 1054.7px,#f2ddd3 0 1056.1px,#ffeadf 0 1057.6px,#ffe5d9 0 1059.2px,#f0d4c7 0 1060.3px,#fee2d6 0 1061.8px,#fce3d7 0 1064px,#fae2d7 0 1065.9px,#fff3e9 0 1068px,#fde7dd 0 1069.5px,#ffebe1 0 1071.3px,#f1dad1 0 1072.5px,#f3ded6 0 1073.5px,#fff3ec 0 1074.6px,#fff0e9 0 1076.1px,#ffefe7 0 1077.3px,#f7e4dc 0 1078.7px,#f8e3db 0 1079.7px,#ffeae2 0 1081.6px,#ffede6 0 1082.7px,#ecd6cf 0 1083.9px,#f4dfd8 0 1085.8px,#fff8f2 0 1087.9px,#f7e8e4 0 1088.9px,#fff6f4 0 1091px,#f8edec 0 1092.9px,#f8eeee 0 1094.7px,#fff5f3 0 1095.8px,#fff4f1 0 1096.9px,#f3e3dd 0 1098.7px,#fae8e2 0 1100.7px,#f0dfda 0 1101.9px,#fff5f3 0 1104px,#fff9fb 0 1105.9px,#ece7ec 0 1107.9px,#fbf8ff 0 1109.7px,#fcf9ff 0 1111.4px,#e9e5ec 0 1112.6px,#fef8fc 0 1114.2px,#f3ecee 0 1115.8px,#fcf4f4 0 1117.4px,#fff7f7 0 1118.5px,#faf1f1 0 1119.8px,#fff9f8 0 1121.5px,#fff2f0 0 1123.2px,#ebdbd9 0 1124.6px,#f0e0e0 0 1126px,#f5e8ec 0 1127.2px,#efe6ec 0 1128.8px,#fffaff 0 1130.8px,#f6f1f7 0 1132.6px,#fef9fd 0 1134.6px,#f1ebee 0 1136.7px,#f8f1f3 0 1137.9px,#fffafc 0 1139.6px,#f7eef0 0 1141.6px,#f2e9ea 0 1143.4px,#f7eef0 0 1145.5px,#fbf4f8 0 1147.5px,#fbf4fa 0 1149.6px,#eae4e8 0 1151.7px,#fff9fb 0 1153.4px,#f2e8e8 0 1154.7px,#fff7f3 0 1155.7px,#fcf1ec 0 1156.7px,#fff3ee 0 1158.3px,#fbf1ec 0 1159.3px,#fcf3ee 0 1161.2px,#fffaf7 0 1163.3px,#fff9f8 0 1164.8px,#fdf5f5 0 1166.9px,#fff7f9 0 1168px,#f2e8eb 0 1169.1px,#e3d8db 0 1170.9px,#f3e8ed 0 1173.1px,#fef6fb 0 1174.6px,#fbf5f9 0 1176.8px,#f4eff4 0 1178px,#fcf9fd 0 1180.7px,#fffdff 0 1181.6px,#faf7fd 0 1183.8px,#edeaf0 0 1185.4px,#faf4f9 0 1187px,#fff5f7 0 1188.6px,#fff2ee 0 1189.6px,#f6dfd7 0 1190.6px,#f1d5c9 0 1192.2px,#fcddcf 0 1194.3px)"></div>
<div class="hc" style="left:1888px;width:121px;background:linear-gradient(#c4c0f1 0 1.2px,#d5d1fe 0 3px,#dbd8ff 0 4.1px,#e0ddff 0 5.1px,#dad7fc 0 6.2px,#dbd8fe 0 8.1px,#d4d1fa 0 9.2px,#cecaf5 0 10.3px,#d0ccfa 0 11.4px,#cec9f8 0 13.2px,#cac6f5 0 15.2px,#c8c4f1 0 17.4px,#dbd7ff 0 18.9px,#dfdbff 0 21px,#d6d3fd 0 22.2px,#b6b3dd 0 24.2px,#e5e2ff 0 25.5px,#d3d0fa 0 27.3px,#d9d6ff 0 28.4px,#cecaf4 0 30px,#ccc8f3 0 31.3px,#dad7ff 0 33.3px,#d3cff9 0 34.4px,#d9d5fe 0 36px,#d7d3fd 0 38.2px,#d0ccf6 0 40.3px,#c8c4ee 0 41.4px,#d8d5fb 0 42.8px,#d6d3f6 0 44px,#efecff 0 45.9px,#dddaf7 0 47px,#dddbf6 0 48.4px,#e7e5fe 0 50px,#e8e5fd 0 52px,#ebe9ff 0 54.2px,#ece9ff 0 56.2px,#dfdcf7 0 58.2px,#eeebff 0 59.8px,#cecbee 0 61.3px,#dad7fd 0 62.7px,#c2bee6 0 63.8px,#dcd8ff 0 65px,#dad6fc 0 66.2px,#eae7ff 0 68.4px,#cac7ed 0 69.6px,#ddd9ff 0 71.6px,#d5d1fa 0 72.7px,#cbc8f0 0 74.7px,#d3cff6 0 76.6px,#d6d3f7 0 77.9px,#f3f0ff 0 80px,#dcd9fd 0 81.5px,#d0cdf2 0 83.5px,#d0cdf3 0 85.6px,#cecaf0 0 87.2px,#e7e3ff 0 88.8px,#d8d5f8 0 90.2px,#dfdcfe 0 92px,#e9e6ff 0 93.4px,#c7c4e6 0 95.3px,#e0ddff 0 96.8px,#dbd8f9 0 97.9px,#e0ddfe 0 99px,#e5e1ff 0 100.8px,#dedbfd 0 102.1px,#e1ddff 0 103.6px,#ccc8f1 0 105.1px,#ccc8f4 0 107px,#d4d0fe 0 109.1px,#cac6f4 0 110.3px,#c9c5f1 0 112.4px,#d0ccf5 0 113.4px,#e3e0ff 0 114.8px,#eae7ff 0 116.9px,#c6c2e7 0 118.8px,#d8d5f9 0 120.2px,#dfdbff 0 122.1px,#e1deff 0 123.8px,#d4d1f6 0 125.9px,#d5d2f6 0 127.6px,#d4d1f4 0 129.3px,#e4e1ff 0 130.5px,#e1defd 0 131.8px,#dad7f3 0 133.2px,#e9e7ff 0 135.1px,#e3e0f9 0 137px,#f4f1ff 0 138.4px,#e6e3fc 0 140.7px,#d7d5ee 0 142.3px,#eeebff 0 143.4px,#e1dff9 0 144.9px,#dbd8f3 0 146.6px,#f2efff 0 148.7px,#e0defa 0 150.9px,#d8d5f2 0 153px,#dedbf9 0 154.3px,#e6e3ff 0 155.6px,#dbd9f5 0 157.2px,#e2dffc 0 159.5px,#efecff 0 161px,#e5e2ff 0 162.4px,#ccc8eb 0 163.7px,#d7d4f8 0 165.3px,#dad7fc 0 167.5px,#d3d0f4 0 168.9px,#e8e4ff 0 170.9px,#d9d6f9 0 172.6px,#d2cff3 0 174px,#eae6ff 0 176.2px,#c1bee4 0 177.7px,#dcd9ff 0 179.9px,#d7d4fa 0 181.7px,#e4e0ff 0 183px,#cbc8ee 0 184.4px,#e3e0ff 0 185.7px,#cdcaf0 0 186.8px,#ccc9ed 0 187.9px,#ece9ff 0 189px,#dcd9f8 0 190.5px,#e7e4ff 0 192.6px,#dddaf9 0 194.7px,#e0ddff 0 195.7px,#e7e4ff 0 196.7px,#c0bde5 0 198.5px,#cdcaf3 0 200.4px,#d9d5fd 0 202.5px,#cecaf0 0 204.6px,#e6e3ff 0 207.5px,#d9d7f2 0 209.2px,#eeebff 0 210.7px,#e6e4fc 0 212.4px,#e3e0f9 0 213.8px,#efecff 0 216px,#dbd9f4 0 217.1px,#d7d5f1 0 218.7px,#f9f6ff 0 220.5px,#ccc9e9 0 221.5px,#e0ddff 0 222.9px,#dbd8fc 0 225px,#d2cff5 0 226px,#cfcbf1 0 227.8px,#d7d4f8 0 229px,#eeebff 0 230.4px,#d6d3f3 0 232.5px,#dad7f5 0 234px,#dddaf6 0 235.4px,#f3f0ff 0 237.5px,#ece9ff 0 238.7px,#e4e1fb 0 240.3px,#d4d2ec 0 241.3px,#e6e3fe 0 243.4px,#ebe8ff 0 245.1px,#e5e3ff 0 247.1px,#dcd9f9 0 248.2px,#d0cdef 0 249.5px,#dcd8fb 0 251.1px,#d8d5f6 0 253.3px,#d1cfed 0 255.1px,#f0eeff 0 256.6px,#faf7ff 0 258.6px,#e2dff9 0 260.3px,#d9d6f1 0 261.9px,#e5e3ff 0 263px,#dad7f3 0 264.4px,#e3e0fc 0 266.2px,#e4e2fd 0 267.5px,#eeebff 0 268.9px,#e6e3ff 0 271px,#cbc8e9 0 272.7px,#cdc9ec 0 273.9px,#efecff 0 275.6px,#d6d3f6 0 277.8px,#dddafd 0 279.5px,#d3d0f3 0 281.7px,#dbd8fa 0 283.7px,#dfdcfe 0 285px,#e3e0ff 0 286.7px,#cdcae9 0 287.9px,#ece9ff 0 289.7px,#e2dffd 0 291.8px,#ece9ff 0 293px,#d1ceef 0 294.2px,#d3d0f2 0 296px,#e1ddff 0 297.8px,#dfdcff 0 299.3px,#dbd7fc 0 301.1px,#d5d2f8 0 302.6px,#e0dcff 0 304.6px,#c1bde6 0 306.2px,#d4d1f9 0 308px,#e3e0ff 0 309.1px,#d7d3f8 0 310.3px,#d7d3f7 0 311.9px,#e0ddff 0 313.8px,#d6d3f5 0 315.2px,#d8d5f5 0 317.1px,#e2dffd 0 318.6px,#e8e5ff 0 319.9px,#ece9ff 0 321.8px,#dcd9f8 0 323.8px,#d0cdee 0 325.2px,#e6e3ff 0 327px,#d8d5fa 0 328px,#d2cef5 0 330.1px,#d8d5fc 0 331.1px,#cecbf1 0 332.9px,#d8d5f9 0 334.2px,#d8d5f6 0 336.3px,#e8e6ff 0 338.1px,#f2efff 0 339.4px,#e4e1ff 0 340.9px,#d6d3f5 0 342.1px,#d2cff5 0 343.3px,#d2cef6 0 344.7px,#d7d4fd 0 346.8px,#cecbf4 0 348.2px,#d6d3fa 0 350px,#d2cff3 0 351.9px,#e1defd 0 352.9px,#e2dff9 0 355.1px,#f3f1ff 0 356.3px,#eae8fc 0 357.7px,#faf7ff 0 359.9px,#e0ddf6 0 361.4px,#e8e5ff 0 363px,#c9c5e8 0 364.7px,#dedaff 0 365.9px,#dddaff 0 367.5px,#c7c3ef 0 369.6px,#c8c4f0 0 371.2px,#cfccf5 0 372.5px,#d2cff5 0 373.5px,#f1edff 0 374.7px,#e0ddfd 0 376.2px,#d2cfef 0 377.2px,#e2dffe 0 378.6px,#e3e0fe 0 380.4px,#e2dffd 0 382.1px,#e4e2ff 0 384.2px,#d6d3f0 0 385.7px,#e4e2fc 0 387.7px,#ece9ff 0 388.8px,#e7e4fd 0 390.2px,#e0def7 0 391.2px,#eae8ff 0 392.3px,#e3e0fb 0 393.3px,#e3e0fd 0 395.2px,#dddafa 0 396.5px,#dfdcff 0 398.6px,#d6d2f8 0 399.7px,#cbc8ef 0 401.6px,#d8d4fc 0 403.8px,#cbc7ec 0 405.3px,#e4e1ff 0 406.7px,#e2dffd 0 408.5px,#edeaff 0 409.8px,#e5e3ff 0 410.8px,#dfdcfa 0 412px,#dbd8f7 0 413.5px,#d3d0f0 0 415.1px,#eae7ff 0 416.7px,#d7d4f1 0 418.8px,#dfddf8 0 420.4px,#e6e4fc 0 421.7px,#f1efff 0 423.7px,#f2f0ff 0 425.1px,#e9e6fd 0 426.5px,#d9d6ef 0 428.7px,#e5e2fc 0 430.2px,#e3e1fa 0 432px,#e9e7ff 0 433.7px,#dfdcf4 0 435px,#f7f5ff 0 436.3px,#dddbf4 0 438.5px,#eae7ff 0 440px,#d9d6f4 0 441.6px,#dad7f7 0 443.6px,#e4e1ff 0 445.7px,#d5d2f4 0 447.6px,#e0ddff 0 449.4px,#e5e1ff 0 450.6px,#cfcbf3 0 451.9px,#bab7de 0 453.7px,#dbd8fc 0 455.7px,#e4e1ff 0 456.7px,#ece9ff 0 458.9px,#eeecff 0 460px,#e9e7fb 0 462.1px,#eeecff 0 464px,#e2e0f4 0 466.2px,#f0eeff 0 467.4px,#e8e5fa 0 469.1px,#eceaff 0 471.6px,#e7e4fc 0 473.5px,#dcd9f2 0 475.4px,#e1dff6 0 476.8px,#eeecff 0 478.9px,#e7e5fa 0 480.1px,#f0eeff 0 481.1px,#efedff 0 483.3px,#edebff 0 485.2px,#dbd8f1 0 487px,#dedcf7 0 488.3px,#ebe8ff 0 490.5px,#e2dffd 0 492.4px,#cdcae9 0 494px,#e7e4ff 0 495.2px,#e4e1ff 0 497.1px,#d2cfee 0 499.1px,#e1dffd 0 500.7px,#ebe9ff 0 502px,#dcd9f5 0 504.1px,#e5e2fd 0 505.8px,#dfdcf5 0 507.5px,#ebe9ff 0 508.6px,#edebff 0 510px,#e6e3fb 0 511.5px,#e0ddf6 0 512.7px,#ece9ff 0 514.1px,#dcd9f4 0 516.1px,#eae7ff 0 517.4px,#d6d4ed 0 519.5px,#e5e2f8 0 520.6px,#f7f4ff 0 522.7px,#edeaf9 0 524.6px,#fbf9ff 0 526.6px,#faf7ff 0 528.7px,#eae8f9 0 530.1px,#e4e2f7 0 532px,#e2dff8 0 533.7px,#e0def9 0 534.9px,#e7e4ff 0 535.9px,#dedbfb 0 536.9px,#d3d0f0 0 538.5px,#d1ceec 0 539.7px,#eae7ff 0 541.2px,#e9e6fe 0 542.9px,#f9f6ff 0 544.9px,#e0ddf4 0 546.1px,#f2efff 0 547.6px,#d0cce8 0 549.6px,#ded9f4 0 551.1px,#e8e0f8 0 552.9px,#dcd0e0 0 554.5px,#f6e6ee 0 555.9px,#f0dddd 0 557.1px,#fde8e3 0 558.4px,#feeae2 0 560.3px,#fff5ed 0 561.4px,#e7d3cb 0 563.4px,#fff3eb 0 565.2px,#fff5ed 0 567.4px,#fdede5 0 569.1px,#fbece4 0 570.9px,#faeae2 0 572.3px,#fff2ea 0 573.3px,#fff8ef 0 575.2px,#fae4da 0 576.8px,#e4cbc1 0 578.8px,#ffece3 0 579.8px,#ffeee7 0 581.1px,#f2e1dc 0 582.4px,#f7e8e5 0 583.8px,#fff5f3 0 585.3px,#f9eeed 0 587.2px,#f7edec 0 589.1px,#fbf4f4 0 590.6px,#fffafb 0 592.4px,#fdf8fa 0 594.3px,#fef9fa 0 595.5px,#fdf7f8 0 597.3px,#f0e8e8 0 598.6px,#fdf4f3 0 600.6px,#fffaf6 0 602.2px,#fff6f1 0 603.5px,#ecdcd5 0 604.6px,#f9e8e0 0 606.1px,#fff4ed 0 607.1px,#fff4ec 0 609.1px,#ffebe2 0 610.7px,#ffe6db 0 612.7px,#ffeee1 0 614.4px,#e8c3b4 0 616.2px,#e9c2b3 0 617.6px,#ffdecf 0 618.9px,#f4d2c4 0 621px,#fff3e7 0 622.7px,#ffe1d5 0 624.6px,#ffeadd 0 626.4px,#e1bdaf 0 627.7px,#ffe0d1 0 629.5px,#f7d4c6 0 631.5px,#eecec1 0 633.2px,#fff3e7 0 634.5px,#ffe6da 0 636.6px,#ffe5d8 0 638.2px,#f9dbce 0 640.1px,#efd2c5 0 641.9px,#f9ded3 0 643.4px,#ffebe3 0 644.5px,#f9e9e5 0 646.1px,#fffafb 0 648.1px,#fdf6fc 0 650.1px,#dfdae3 0 652.2px,#fdf9ff 0 654.8px,#e8e2e9 0 656.3px,#fdf3f7 0 658.2px,#fff1f0 0 659.8px,#f4e2dd 0 661.1px,#f3dfd6 0 662.2px,#ffeee5 0 664.4px,#fff0e6 0 666.6px,#efd7cc 0 668.2px,#fde5db 0 669.9px,#fbe5db 0 671.1px,#fce8e0 0 672.8px,#ffefe8 0 674.2px,#fff5ef 0 676.3px,#f6e2dc 0 677.6px,#ffeee6 0 678.5px,#f8dacf 0 680.7px,#eac8bc 0 682.7px,#f8d7ca 0 684.4px,#f1d2c6 0 685.4px,#fff4ea 0 686.6px,#ffefe6 0 687.9px,#f5dfd6 0 689.1px,#ffece3 0 691.1px,#eedad1 0 693.1px,#fff8f0 0 694.7px,#f8eae3 0 696.1px,#fff7f2 0 697.1px,#fef4f0 0 698.7px,#fffaf6 0 699.9px,#fff7f2 0 701.7px,#fdf2ed 0 702.8px,#f3e7e3 0 704.3px,#fffaf5 0 705.7px,#f7edea 0 707.8px,#fff6f4 0 710px,#fdf4f2 0 712.1px,#fdf3f1 0 714.2px,#efe5e3 0 716.1px,#fff8f6 0 717.5px,#fff9f5 0 719.1px,#f2e5e1 0 721.1px,#fbefea 0 722.1px,#fff8f3 0 724.8px,#ebdad4 0 727px,#ffede6 0 728px,#fce5de 0 729.4px,#ebd5cd 0 731.1px,#f6e3db 0 732.4px,#fff8f2 0 734.6px,#fef3ef 0 736.4px,#fff8f6 0 737.7px,#fffaf8 0 740.6px,#fffcf8 0 741.8px,#fff2ed 0 742.9px,#f6e6e0 0 744.6px,#f8e5df 0 746.2px,#ffebe6 0 747.6px,#dec9c5 0 748.7px,#fff3ef 0 750.2px,#fff4f0 0 751.6px,#fffaf6 0 753px,#fbf1ef 0 754.6px,#f3ebea 0 756.5px,#f8f1f3 0 758.3px,#f9f3f7 0 759.9px,#fbf7fc 0 761.7px,#f3f0f5 0 763.1px,#fefbff 0 765.3px,#fffcff 0 766.7px,#f9f6f9 0 768.4px,#f8f4f5 0 770.3px,#fbf4f4 0 771.8px,#fffbfa 0 772.9px,#f6eae7 0 774.7px,#fff5f3 0 775.8px,#e8d9d8 0 778px,#f1e4e5 0 780.1px,#faf0f3 0 782px,#f8f2f7 0 783.4px,#fcf9ff 0 785.4px,#faf7ff 0 786.8px,#faf8ff 0 788.8px,#f2f0ff 0 790.7px,#cecbe6 0 792.6px,#bcb9d4 0 793.9px,#f4f0ff 0 796px,#f7f3ff 0 797.5px,#eeeafe 0 799.7px,#ede9fd 0 801.6px,#d6d2e8 0 803.1px,#f7f3ff 0 804.1px,#d7d3eb 0 805.7px,#e3e0f6 0 807.9px,#f3eeff 0 809.7px,#e9e4f4 0 810.9px,#f2ecf9 0 812.1px,#ece5f0 0 813.6px,#ede7f3 0 815.2px,#f4effd 0 817.4px,#f9f5ff 0 819.3px,#eae7fd 0 821px,#d0cde7 0 822.1px,#e8e6ff 0 823.9px,#eae7ff 0 825.5px,#cfcceb 0 827.1px,#ccc9e7 0 829.1px,#e9e6ff 0 830.7px,#f3f1ff 0 831.8px,#faf7ff 0 833.1px,#faf8ff 0 834.5px,#eeecfd 0 836.3px,#cbc8da 0 838.5px,#f6f2ff 0 840.2px,#f0ecfc 0 842.2px,#f4effc 0 843.4px,#efe9f6 0 845.3px,#e3ddea 0 846.6px,#f5f1ff 0 848.3px,#fcf9ff 0 849.5px,#e4e2f4 0 850.9px,#e6e4f7 0 852.2px,#e6e3f7 0 853.2px,#eae7f9 0 854.7px,#eeeafa 0 855.9px,#f7f3ff 0 857.5px,#ece9f8 0 858.8px,#e6e3f4 0 860.3px,#f0edff 0 862.2px,#f4f1ff 0 864.4px,#d4d0e2 0 866.3px,#f3effd 0 867.7px,#f4eef9 0 869.9px,#f2ecf3 0 871.2px,#fffaff 0 874.6px,#faf6ff 0 876.1px,#d6d2e7 0 877.4px,#d4d1ea 0 879.2px,#dddaf3 0 880.6px,#f5f2ff 0 881.8px,#e4e2f4 0 883.9px,#fbf9ff 0 885px,#f2f0fe 0 886.4px,#eeecf9 0 888.5px,#f7f6ff 0 891.1px,#eae8f7 0 893.1px,#ebeaf9 0 894.1px,#eeecfd 0 896.1px,#f6f5ff 0 898px,#dedcf0 0 899px,#f5f2ff 0 900.9px,#edeaff 0 902.7px,#d0cce2 0 904.5px,#e9e3f6 0 905.5px,#f5edfd 0 906.5px,#eae3ef 0 907.9px,#f1eaf5 0 909.9px,#f5f0fc 0 911.3px,#f3effe 0 912.4px,#f4f2ff 0 914.1px,#ece9ff 0 915.5px,#cbc9e6 0 916.7px,#d6d4f3 0 918.8px,#d8d5f4 0 920.6px,#f7f4ff 0 922.3px,#d3d0ea 0 923.3px,#edebff 0 924.9px,#e9e7fa 0 926.6px,#f0eefe 0 927.6px,#fbf9ff 0 929.2px,#f9f7ff 0 931.3px,#dedce9 0 933.4px,#fbf9ff 0 935.5px,#f5f3ff 0 937.3px,#efedfd 0 938.3px,#e3e1f1 0 940.1px,#e6e4f4 0 942px,#fbf9ff 0 944.1px,#edebfa 0 945.7px,#f2f0ff 0 948px,#edeafa 0 949.6px,#f1efff 0 951.4px,#e0deee 0 953.2px,#f4f1ff 0 954.2px,#fcf8ff 0 955.5px,#e6e1ea 0 957.2px,#faf3fa 0 959.2px,#fff6f9 0 960.9px,#ffefee 0 962px,#ecd7d1 0 963.4px,#ffe8df 0 965.1px,#fcddd1 0 966.7px,#fbd9cb 0 968.2px,#f7d3c3 0 969.7px,#ffddcc 0 971.2px,#f9d1c1 0 972.5px,#fdd3c2 0 973.6px,#ffdac8 0 975.3px,#f7cab7 0 976.8px,#ecbeab 0 978.9px,#f8ccba 0 980.2px,#ffdccb 0 981.8px,#ffe2d2 0 983.5px,#f7cfbf 0 984.5px,#ffd9c8 0 985.6px,#f5c9b7 0 987.7px,#fccebb 0 989.3px,#f8c8b5 0 990.4px,#fdcdba 0 992.4px,#fdcebc 0 994.2px,#f2c4b2 0 995.6px,#ffe9d7 0 996.6px,#f1c1af 0 998.3px,#f5c4b2 0 999.7px,#fbcbb9 0 1001.4px,#f4c7b4 0 1003.2px,#ffe1d0 0 1005.3px,#fdd3c1 0 1006.7px,#ffd4c2 0 1008.9px,#f7cbb8 0 1010px,#fdcfbc 0 1011.5px,#fecebb 0 1013.7px,#f6c6b3 0 1014.9px,#fdcdba 0 1016.8px,#fdcfbc 0 1018.6px,#f0c4b2 0 1020.7px,#ffd9c8 0 1022.9px,#ffdccb 0 1024.8px,#ffdecd 0 1026.8px,#f5cbb9 0 1027.9px,#fed1bf 0 1029.9px,#fbcbb8 0 1032.1px,#fdcab6 0 1033.1px,#f8c2ad 0 1034.5px,#ffcbb6 0 1036px,#edb59f 0 1037.5px,#f9c0ab 0 1039.2px,#ffd3be 0 1040.7px,#fbc2ad 0 1042.4px,#f1b8a3 0 1044.3px,#fbc2ad 0 1045.7px,#ffcbb5 0 1046.8px,#f9c2ad 0 1048.8px,#fdc8b4 0 1050.7px,#f3c0ad 0 1052.8px,#ffcfbc 0 1054.7px,#ffd8c5 0 1056.1px,#f3c7b5 0 1057.6px,#ffd7c6 0 1059.2px,#facfbd 0 1060.3px,#ffdbc9 0 1061.8px,#f5c9b7 0 1064px,#fdd0bd 0 1065.9px,#f6c8b5 0 1068px,#ffd6c3 0 1069.5px,#f4c3b0 0 1071.3px,#ffd3c0 0 1072.5px,#f9c7b4 0 1073.5px,#f1c0ad 0 1074.6px,#ffd0bd 0 1076.1px,#ffd4c2 0 1077.3px,#ffd5c3 0 1078.7px,#f3cbba 0 1079.7px,#ffe1d0 0 1081.6px,#fdd7c7 0 1082.7px,#f8d2c2 0 1083.9px,#ffdac9 0 1085.8px,#ffd5c4 0 1087.9px,#f9cdba 0 1088.9px,#faccb9 0 1091px,#ffd1bd 0 1092.9px,#f9c5b0 0 1094.7px,#fdc6b1 0 1095.8px,#fac1ab 0 1096.9px,#fcc1ab 0 1098.7px,#f1b6a0 0 1100.7px,#ffcab5 0 1101.9px,#efb9a4 0 1104px,#ffd1be 0 1105.9px,#f8cbb9 0 1107.9px,#ffdac9 0 1109.7px,#fbd4c4 0 1111.4px,#ffe6d6 0 1112.6px,#f0c9b9 0 1114.2px,#ffdbca 0 1115.8px,#f6cab9 0 1117.4px,#fccfbd 0 1118.5px,#f3c6b3 0 1119.8px,#ffd8c6 0 1121.5px,#f5cab8 0 1123.2px,#fcd2c0 0 1124.6px,#ffd7c6 0 1126px,#ffd9c7 0 1127.2px,#ffd1be 0 1128.8px,#edbdaa 0 1130.8px,#f4c4b2 0 1132.6px,#ffd2c0 0 1134.6px,#fdd3c2 0 1136.7px,#ffdaca 0 1137.9px,#ffddcc 0 1139.6px,#ffd9c8 0 1141.6px,#e7baa7 0 1143.4px,#f1c3b1 0 1145.5px,#ffd5c3 0 1147.5px,#ffe0cf 0 1149.6px,#fdd6c6 0 1151.7px,#ffdbcb 0 1153.4px,#fbd3c2 0 1154.7px,#f5ccbb 0 1155.7px,#fad1c0 0 1156.7px,#ffd8c7 0 1158.3px,#fad3c2 0 1159.3px,#ffdfce 0 1161.2px,#fbd2c0 0 1163.3px,#fcd1c0 0 1164.8px,#f3c8b6 0 1166.9px,#f8cdbc 0 1168px,#fbd3c2 0 1169.1px,#ffdbcb 0 1170.9px,#ffe3d3 0 1173.1px,#fbd4c3 0 1174.6px,#f9cfbd 0 1176.8px,#fbcfbd 0 1178px,#f0c3b0 0 1179.1px,#ffe0ce 0 1180.7px,#f5c6b3 0 1181.6px,#ffcebb 0 1183.8px,#ffcfbb 0 1185.4px,#f4beaa 0 1187px,#edb7a2 0 1188.6px,#ffcfbb 0 1189.6px,#ffccb8 0 1190.6px,#fec9b4 0 1192.2px,#fac4b0 0 1194.3px)"></div>
<svg width="2168" height="1477" viewBox="0 0 2168 1477"><defs><linearGradient id="lg" x1="0" y1="0" x2="0" y2="1"><stop offset="0.000" stop-color="#fe2e16"/><stop offset="0.025" stop-color="#fd3b1f"/><stop offset="0.050" stop-color="#fd4728"/><stop offset="0.075" stop-color="#fc5331"/><stop offset="0.100" stop-color="#fc5b39"/><stop offset="0.125" stop-color="#fb6442"/><stop offset="0.150" stop-color="#fb6c4b"/><stop offset="0.175" stop-color="#fb7453"/><stop offset="0.200" stop-color="#fb7d5c"/><stop offset="0.225" stop-color="#fa8565"/><stop offset="0.250" stop-color="#fa8e6d"/><stop offset="0.275" stop-color="#fa9576"/><stop offset="0.300" stop-color="#fa9d7f"/><stop offset="0.325" stop-color="#fba488"/><stop offset="0.350" stop-color="#fbab90"/><stop offset="0.375" stop-color="#fbb299"/><stop offset="0.400" stop-color="#fbbaa2"/><stop offset="0.425" stop-color="#fcc1ab"/><stop offset="0.450" stop-color="#fcc8b4"/><stop offset="0.475" stop-color="#fccfbd"/><stop offset="0.500" stop-color="#fcd6c6"/><stop offset="0.525" stop-color="#fdded0"/><stop offset="0.550" stop-color="#fde5d9"/><stop offset="0.575" stop-color="#fdebe2"/><stop offset="0.600" stop-color="#fef1eb"/><stop offset="0.625" stop-color="#fef7f4"/><stop offset="0.650" stop-color="#fffdfd"/><stop offset="0.675" stop-color="#fbfbfe"/><stop offset="0.700" stop-color="#f7f6fe"/><stop offset="0.725" stop-color="#f2f0fd"/><stop offset="0.750" stop-color="#edebfc"/><stop offset="0.775" stop-color="#e7e4fc"/><stop offset="0.800" stop-color="#e0ddfb"/><stop offset="0.825" stop-color="#d9d6fb"/><stop offset="0.850" stop-color="#d3cffa"/><stop offset="0.875" stop-color="#ccc8f9"/><stop offset="0.900" stop-color="#c6c1f9"/><stop offset="0.925" stop-color="#bfbaf8"/><stop offset="0.950" stop-color="#b9b4f7"/><stop offset="0.975" stop-color="#b2adf7"/><stop offset="1.000" stop-color="#aca6f6"/></linearGradient></defs>
<text transform="translate(873.65 30.60) scale(1.0004 1)" text-anchor="middle" style="font-size:41.7px">Protein differences between subtypes per clinical stage in Alzheimer’s disease (AD)</text>
<text transform="translate(422.90 141.80) scale(0.9596 1)" text-anchor="middle" style="font-size:43.6px">AD normal cognition</text>
<text transform="translate(1082.70 141.80) scale(0.9501 1)" text-anchor="middle" style="font-size:43.6px">AD mild cognitive impairment</text>
<text transform="translate(1700.15 141.80) scale(0.9428 1)" text-anchor="middle" style="font-size:43.6px">AD dementia</text>
<text transform="translate(161.80 210.30) scale(0.8205 1)" text-anchor="middle" style="font-size:34.8px">S1</text>
<text transform="translate(161.75 250.30) scale(0.8428 1)" text-anchor="middle" style="font-size:34.8px">n=51</text>
<text transform="translate(284.80 210.30) scale(0.9034 1)" text-anchor="middle" style="font-size:34.8px">S2</text>
<text transform="translate(284.30 250.30) scale(0.9167 1)" text-anchor="middle" style="font-size:34.8px">n=32</text>
<text transform="translate(405.30 210.30) scale(0.9541 1)" text-anchor="middle" style="font-size:34.8px">S3</text>
<text transform="translate(403.75 250.30) scale(0.8660 1)" text-anchor="middle" style="font-size:34.8px">n=1</text>
<text transform="translate(526.05 210.30) scale(0.9305 1)" text-anchor="middle" style="font-size:34.8px">S4</text>
<text transform="translate(526.70 250.30) scale(0.9041 1)" text-anchor="middle" style="font-size:34.8px">n=15</text>
<text transform="translate(650.85 210.30) scale(0.9395 1)" text-anchor="middle" style="font-size:34.8px">S5</text>
<text transform="translate(650.90 250.30) scale(0.9311 1)" text-anchor="middle" style="font-size:34.8px">n=8</text>
<text transform="translate(812.40 210.30) scale(0.8876 1)" text-anchor="middle" style="font-size:34.8px">S1</text>
<text transform="translate(813.20 250.30) scale(0.9082 1)" text-anchor="middle" style="font-size:34.8px">n=37</text>
<text transform="translate(933.85 210.30) scale(0.9172 1)" text-anchor="middle" style="font-size:34.8px">S2</text>
<text transform="translate(934.75 250.30) scale(0.9138 1)" text-anchor="middle" style="font-size:34.8px">n=28</text>
<text transform="translate(1055.15 210.30) scale(0.9185 1)" text-anchor="middle" style="font-size:34.8px">S3</text>
<text transform="translate(1055.00 250.30) scale(0.9202 1)" text-anchor="middle" style="font-size:34.8px">n=3</text>
<text transform="translate(1175.70 210.30) scale(0.9310 1)" text-anchor="middle" style="font-size:34.8px">S4</text>
<text transform="translate(1175.95 250.30) scale(0.9138 1)" text-anchor="middle" style="font-size:34.8px">n=16</text>
<text transform="translate(1300.90 210.30) scale(0.9389 1)" text-anchor="middle" style="font-size:34.8px">S5</text>
<text transform="translate(1300.80 250.30) scale(0.9163 1)" text-anchor="middle" style="font-size:34.8px">n=19</text>
<text transform="translate(1458.15 210.30) scale(0.8672 1)" text-anchor="middle" style="font-size:34.8px">S1</text>
<text transform="translate(1459.60 250.30) scale(0.9030 1)" text-anchor="middle" style="font-size:34.8px">n=49</text>
<text transform="translate(1579.45 210.30) scale(0.9185 1)" text-anchor="middle" style="font-size:34.8px">S2</text>
<text transform="translate(1579.90 250.30) scale(0.8963 1)" text-anchor="middle" style="font-size:34.8px">n=64</text>
<text transform="translate(1701.00 210.30) scale(0.9297 1)" text-anchor="middle" style="font-size:34.8px">S3</text>
<text transform="translate(1700.50 250.30) scale(0.9284 1)" text-anchor="middle" style="font-size:34.8px">n=20</text>
<text transform="translate(1821.60 210.30) scale(0.9209 1)" text-anchor="middle" style="font-size:34.8px">S4</text>
<text transform="translate(1821.90 250.30) scale(0.8840 1)" text-anchor="middle" style="font-size:34.8px">n=47</text>
<text transform="translate(1946.20 210.30) scale(0.9389 1)" text-anchor="middle" style="font-size:34.8px">S5</text>
<text transform="translate(1946.20 250.30) scale(0.9191 1)" text-anchor="middle" style="font-size:34.8px">n=29</text>
<text transform="translate(30.90 897.90) rotate(-90) scale(0.8807 1)" text-anchor="middle" style="font-size:43.2px">CSF levels protein</text>
<text transform="translate(2084.35 302.40) scale(1.0136 1)" text-anchor="middle" style="font-size:36.8px">Z</text>
<rect x="104.3" y="260.8" width="120.1" height="13.9" rx="6.95" fill="#d3b82b" stroke="rgba(0,0,0,0.14)" stroke-width="0.8"/>
<rect x="225.8" y="260.8" width="118.7" height="13.9" rx="6.95" fill="#378da7" stroke="rgba(0,0,0,0.14)" stroke-width="0.8"/>
<rect x="346" y="260.8" width="119.5" height="13.9" rx="6.95" fill="#b86b64" stroke="rgba(0,0,0,0.14)" stroke-width="0.8"/>
<rect x="467.5" y="260.8" width="118.6" height="13.9" rx="6.95" fill="#b3d9d1" stroke="rgba(0,0,0,0.14)" stroke-width="0.8"/>
<rect x="587.6" y="260.8" width="120.1" height="13.9" rx="6.95" fill="#444b2e" stroke="rgba(0,0,0,0.14)" stroke-width="0.8"/>
<rect x="753.6" y="260.8" width="120.1" height="13.9" rx="6.95" fill="#d3b82b" stroke="rgba(0,0,0,0.14)" stroke-width="0.8"/>
<rect x="875.1" y="260.8" width="118.1" height="13.9" rx="6.95" fill="#378da7" stroke="rgba(0,0,0,0.14)" stroke-width="0.8"/>
<rect x="995.2" y="260.8" width="119.5" height="13.9" rx="6.95" fill="#b86b64" stroke="rgba(0,0,0,0.14)" stroke-width="0.8"/>
<rect x="1116.7" y="260.8" width="118.1" height="13.9" rx="6.95" fill="#b3d9d1" stroke="rgba(0,0,0,0.14)" stroke-width="0.8"/>
<rect x="1236.3" y="260.8" width="120.7" height="13.9" rx="6.95" fill="#444b2e" stroke="rgba(0,0,0,0.14)" stroke-width="0.8"/>
<rect x="1399.3" y="260.8" width="120.7" height="13.9" rx="6.95" fill="#d3b82b" stroke="rgba(0,0,0,0.14)" stroke-width="0.8"/>
<rect x="1520.8" y="260.8" width="118.7" height="13.9" rx="6.95" fill="#378da7" stroke="rgba(0,0,0,0.14)" stroke-width="0.8"/>
<rect x="1641" y="260.8" width="120" height="13.9" rx="6.95" fill="#b86b64" stroke="rgba(0,0,0,0.14)" stroke-width="0.8"/>
<rect x="1763" y="260.8" width="118" height="13.9" rx="6.95" fill="#b3d9d1" stroke="rgba(0,0,0,0.14)" stroke-width="0.8"/>
<rect x="1882.6" y="260.8" width="120.6" height="13.9" rx="6.95" fill="#444b2e" stroke="rgba(0,0,0,0.14)" stroke-width="0.8"/>
<rect x="52.2" y="284" width="32.6" height="189.7" rx="8" fill="#d3b82b" stroke="rgba(0,0,0,0.12)" stroke-width="0.8"/>
<rect x="52.2" y="475" width="32.6" height="362" rx="8" fill="#378da7" stroke="rgba(0,0,0,0.12)" stroke-width="0.8"/>
<rect x="52.2" y="838" width="32.6" height="230.6" rx="8" fill="#b86b64" stroke="rgba(0,0,0,0.12)" stroke-width="0.8"/>
<rect x="52.2" y="1070" width="32.6" height="170" rx="8" fill="#b3d9d1" stroke="rgba(0,0,0,0.12)" stroke-width="0.8"/>
<rect x="52.2" y="1241" width="32.6" height="232" rx="8" fill="#444b2e" stroke="rgba(0,0,0,0.12)" stroke-width="0.8"/>
<rect x="2073.6" y="322.7" width="55.2" height="278.3" fill="url(#lg)"/>
<path d="M2073.6 341.4h11.4M2117.4 341.4h11.4" stroke="#fff" stroke-opacity="0.55" stroke-width="1.6"/>
<text transform="translate(2146.90 352.4) scale(1.1928 1)" style="font-size:23.5px">3</text>
<path d="M2073.6 396.2h11.4M2117.4 396.2h11.4" stroke="#fff" stroke-opacity="0.55" stroke-width="1.6"/>
<text transform="translate(2146.90 406.2) scale(1.1928 1)" style="font-size:23.5px">2</text>
<path d="M2073.6 451.0h11.4M2117.4 451.0h11.4" stroke="#fff" stroke-opacity="0.55" stroke-width="1.6"/>
<text transform="translate(2146.90 460.6) scale(1.1928 1)" style="font-size:23.5px">1</text>
<text transform="translate(2146.90 514.8) scale(1.1928 1)" style="font-size:23.5px">0</text>
<path d="M2073.6 560.6h11.4M2117.4 560.6h11.4" stroke="#fff" stroke-opacity="0.55" stroke-width="1.6"/>
<text transform="translate(2146.90 568.6) scale(1.1928 1)" style="font-size:23.5px">-1</text>
<circle cx="2106" cy="298" r="1.2" fill="#ccc"/>
</svg>
</body></html>
